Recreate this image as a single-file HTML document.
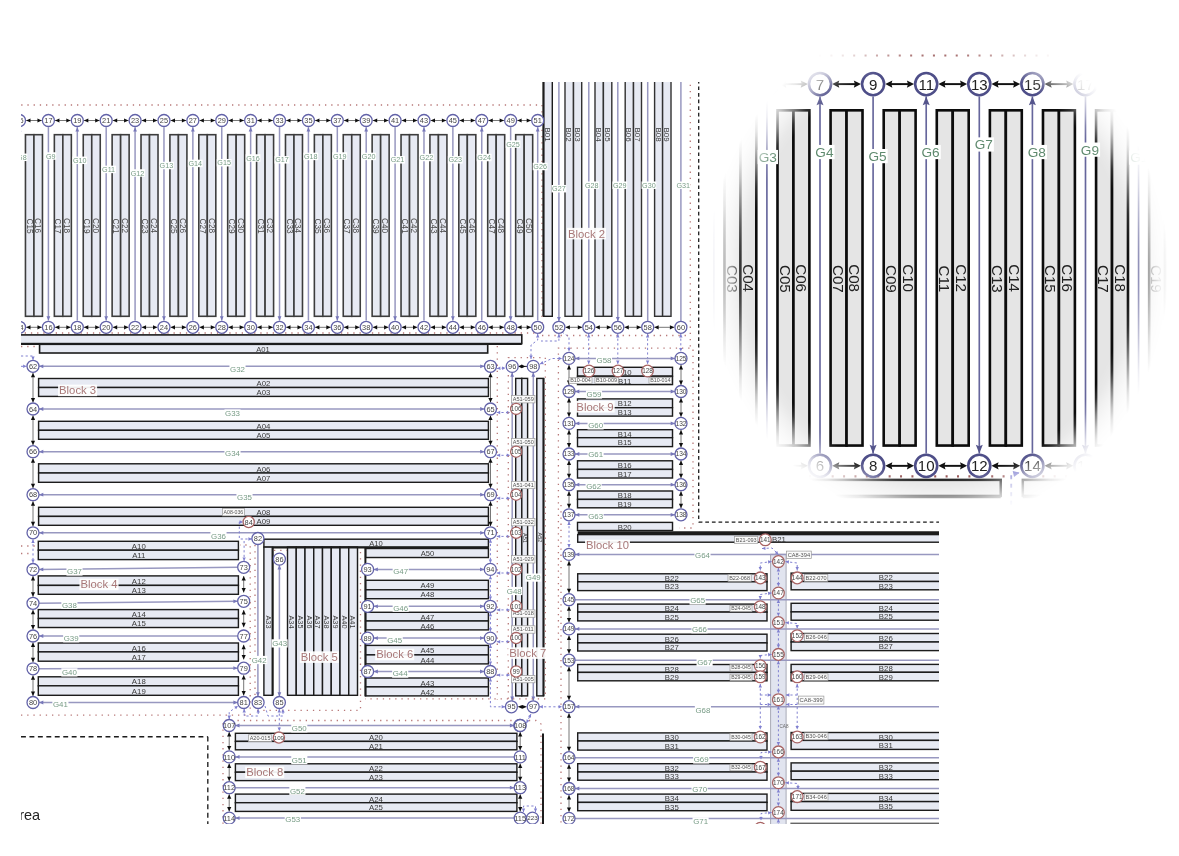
<!DOCTYPE html>
<html><head><meta charset="utf-8"><title>Warehouse layout</title>
<style>
html,body{margin:0;padding:0;background:#fff;}
body{width:1179px;height:856px;overflow:hidden;position:relative;font-family:"Liberation Sans",sans-serif;}
svg{position:absolute;left:0;top:0;display:block;}
svg text{font-family:"Liberation Sans",sans-serif;}
#main{--fill:#e7eaf3;--gl:#9898c0;}
#inset{--fill:#e5e5e5;--gl:#6c6c9c;}
</style></head><body>
<svg id="main" width="1179" height="856" viewBox="0 0 1179 856">
<defs>
<clipPath id="cm"><rect x="21" y="82" width="918" height="742"/></clipPath>
<filter id="soft" x="0" y="0" width="100%" height="100%" filterUnits="userSpaceOnUse"><feGaussianBlur stdDeviation="0.68"/></filter>
</defs>
<g clip-path="url(#cm)"><g filter="url(#soft)">
<g id="draw">
<rect x="-176.76" y="134.7" width="8.5" height="181.6" fill="#e7eaf3" stroke="#3e3e3e" stroke-width="1.6"/>
<rect x="-168.26" y="134.7" width="8.5" height="181.6" fill="#e7eaf3" stroke="#3e3e3e" stroke-width="1.6"/>
<rect x="-147.88" y="134.7" width="8.5" height="181.6" fill="#e7eaf3" stroke="#3e3e3e" stroke-width="1.6"/>
<rect x="-139.38" y="134.7" width="8.5" height="181.6" fill="#e7eaf3" stroke="#3e3e3e" stroke-width="1.6"/>
<rect x="-118.99" y="134.7" width="8.5" height="181.6" fill="#e7eaf3" stroke="#3e3e3e" stroke-width="1.6"/>
<rect x="-110.49" y="134.7" width="8.5" height="181.6" fill="#e7eaf3" stroke="#3e3e3e" stroke-width="1.6"/>
<rect x="-90.09" y="134.7" width="8.5" height="181.6" fill="#e7eaf3" stroke="#3e3e3e" stroke-width="1.6"/>
<rect x="-81.59" y="134.7" width="8.5" height="181.6" fill="#e7eaf3" stroke="#3e3e3e" stroke-width="1.6"/>
<rect x="-61.2" y="134.7" width="8.5" height="181.6" fill="#e7eaf3" stroke="#3e3e3e" stroke-width="1.6"/>
<rect x="-52.7" y="134.7" width="8.5" height="181.6" fill="#e7eaf3" stroke="#3e3e3e" stroke-width="1.6"/>
<rect x="-32.32" y="134.7" width="8.5" height="181.6" fill="#e7eaf3" stroke="#3e3e3e" stroke-width="1.6"/>
<rect x="-23.82" y="134.7" width="8.5" height="181.6" fill="#e7eaf3" stroke="#3e3e3e" stroke-width="1.6"/>
<rect x="-3.43" y="134.7" width="8.5" height="181.6" fill="#e7eaf3" stroke="#3e3e3e" stroke-width="1.6"/>
<rect x="5.07" y="134.7" width="8.5" height="181.6" fill="#e7eaf3" stroke="#3e3e3e" stroke-width="1.6"/>
<rect x="25.46" y="134.7" width="8.5" height="181.6" fill="#e7eaf3" stroke="#3e3e3e" stroke-width="1.6"/>
<rect x="33.96" y="134.7" width="8.5" height="181.6" fill="#e7eaf3" stroke="#3e3e3e" stroke-width="1.6"/>
<rect x="54.35" y="134.7" width="8.5" height="181.6" fill="#e7eaf3" stroke="#3e3e3e" stroke-width="1.6"/>
<rect x="62.85" y="134.7" width="8.5" height="181.6" fill="#e7eaf3" stroke="#3e3e3e" stroke-width="1.6"/>
<rect x="83.25" y="134.7" width="8.5" height="181.6" fill="#e7eaf3" stroke="#3e3e3e" stroke-width="1.6"/>
<rect x="91.75" y="134.7" width="8.5" height="181.6" fill="#e7eaf3" stroke="#3e3e3e" stroke-width="1.6"/>
<rect x="112.13" y="134.7" width="8.5" height="181.6" fill="#e7eaf3" stroke="#3e3e3e" stroke-width="1.6"/>
<rect x="120.63" y="134.7" width="8.5" height="181.6" fill="#e7eaf3" stroke="#3e3e3e" stroke-width="1.6"/>
<rect x="141.02" y="134.7" width="8.5" height="181.6" fill="#e7eaf3" stroke="#3e3e3e" stroke-width="1.6"/>
<rect x="149.52" y="134.7" width="8.5" height="181.6" fill="#e7eaf3" stroke="#3e3e3e" stroke-width="1.6"/>
<rect x="169.92" y="134.7" width="8.5" height="181.6" fill="#e7eaf3" stroke="#3e3e3e" stroke-width="1.6"/>
<rect x="178.42" y="134.7" width="8.5" height="181.6" fill="#e7eaf3" stroke="#3e3e3e" stroke-width="1.6"/>
<rect x="198.81" y="134.7" width="8.5" height="181.6" fill="#e7eaf3" stroke="#3e3e3e" stroke-width="1.6"/>
<rect x="207.31" y="134.7" width="8.5" height="181.6" fill="#e7eaf3" stroke="#3e3e3e" stroke-width="1.6"/>
<rect x="227.69" y="134.7" width="8.5" height="181.6" fill="#e7eaf3" stroke="#3e3e3e" stroke-width="1.6"/>
<rect x="236.19" y="134.7" width="8.5" height="181.6" fill="#e7eaf3" stroke="#3e3e3e" stroke-width="1.6"/>
<rect x="256.59" y="134.7" width="8.5" height="181.6" fill="#e7eaf3" stroke="#3e3e3e" stroke-width="1.6"/>
<rect x="265.09" y="134.7" width="8.5" height="181.6" fill="#e7eaf3" stroke="#3e3e3e" stroke-width="1.6"/>
<rect x="285.48" y="134.7" width="8.5" height="181.6" fill="#e7eaf3" stroke="#3e3e3e" stroke-width="1.6"/>
<rect x="293.98" y="134.7" width="8.5" height="181.6" fill="#e7eaf3" stroke="#3e3e3e" stroke-width="1.6"/>
<rect x="314.37" y="134.7" width="8.5" height="181.6" fill="#e7eaf3" stroke="#3e3e3e" stroke-width="1.6"/>
<rect x="322.87" y="134.7" width="8.5" height="181.6" fill="#e7eaf3" stroke="#3e3e3e" stroke-width="1.6"/>
<rect x="343.25" y="134.7" width="8.5" height="181.6" fill="#e7eaf3" stroke="#3e3e3e" stroke-width="1.6"/>
<rect x="351.75" y="134.7" width="8.5" height="181.6" fill="#e7eaf3" stroke="#3e3e3e" stroke-width="1.6"/>
<rect x="372.14" y="134.7" width="8.5" height="181.6" fill="#e7eaf3" stroke="#3e3e3e" stroke-width="1.6"/>
<rect x="380.64" y="134.7" width="8.5" height="181.6" fill="#e7eaf3" stroke="#3e3e3e" stroke-width="1.6"/>
<rect x="401.04" y="134.7" width="8.5" height="181.6" fill="#e7eaf3" stroke="#3e3e3e" stroke-width="1.6"/>
<rect x="409.54" y="134.7" width="8.5" height="181.6" fill="#e7eaf3" stroke="#3e3e3e" stroke-width="1.6"/>
<rect x="429.93" y="134.7" width="8.5" height="181.6" fill="#e7eaf3" stroke="#3e3e3e" stroke-width="1.6"/>
<rect x="438.43" y="134.7" width="8.5" height="181.6" fill="#e7eaf3" stroke="#3e3e3e" stroke-width="1.6"/>
<rect x="458.82" y="134.7" width="8.5" height="181.6" fill="#e7eaf3" stroke="#3e3e3e" stroke-width="1.6"/>
<rect x="467.32" y="134.7" width="8.5" height="181.6" fill="#e7eaf3" stroke="#3e3e3e" stroke-width="1.6"/>
<rect x="487.71" y="134.7" width="8.5" height="181.6" fill="#e7eaf3" stroke="#3e3e3e" stroke-width="1.6"/>
<rect x="496.21" y="134.7" width="8.5" height="181.6" fill="#e7eaf3" stroke="#3e3e3e" stroke-width="1.6"/>
<rect x="515.68" y="134.7" width="8.5" height="181.6" fill="#e7eaf3" stroke="#3e3e3e" stroke-width="1.6"/>
<rect x="524.18" y="134.7" width="8.5" height="181.6" fill="#e7eaf3" stroke="#3e3e3e" stroke-width="1.6"/>
<rect x="-140" y="334.9" width="142.3" height="8.7" fill="#e7eaf3" stroke="#1c1c1c" stroke-width="1.6"/>
<rect x="14.3" y="334.9" width="507.5" height="8.7" fill="#e7eaf3" stroke="#1c1c1c" stroke-width="1.6"/>
<rect x="39.6" y="344.3" width="448.1" height="8.7" fill="#e7eaf3" stroke="#1c1c1c" stroke-width="1.6"/>
<rect x="543.6" y="60" width="8.7" height="256.3" fill="#e7eaf3" stroke="#1c1c1c" stroke-width="1.42"/>
<rect x="565" y="60" width="8.5" height="256.3" fill="#e7eaf3" stroke="#333" stroke-width="1.42"/>
<rect x="573.5" y="60" width="8.2" height="256.3" fill="#e7eaf3" stroke="#333" stroke-width="1.42"/>
<rect x="595" y="60" width="8.4" height="256.3" fill="#e7eaf3" stroke="#333" stroke-width="1.42"/>
<rect x="603.4" y="60" width="8.4" height="256.3" fill="#e7eaf3" stroke="#333" stroke-width="1.42"/>
<rect x="625.2" y="60" width="8.3" height="256.3" fill="#e7eaf3" stroke="#333" stroke-width="1.42"/>
<rect x="633.5" y="60" width="8" height="256.3" fill="#e7eaf3" stroke="#333" stroke-width="1.42"/>
<rect x="654.6" y="60" width="8" height="256.3" fill="#e7eaf3" stroke="#333" stroke-width="1.42"/>
<rect x="662.6" y="60" width="8.4" height="256.3" fill="#e7eaf3" stroke="#333" stroke-width="1.42"/>
<rect x="38.6" y="378.5" width="449.8" height="9" fill="#e7eaf3" stroke="#1c1c1c" stroke-width="1.42"/>
<rect x="38.6" y="387.5" width="449.8" height="8.9" fill="#e7eaf3" stroke="#1c1c1c" stroke-width="1.42"/>
<rect x="38.6" y="421.3" width="449.8" height="9" fill="#e7eaf3" stroke="#1c1c1c" stroke-width="1.42"/>
<rect x="38.6" y="430.3" width="449.8" height="9" fill="#e7eaf3" stroke="#1c1c1c" stroke-width="1.42"/>
<rect x="38.6" y="463.8" width="449.8" height="9.2" fill="#e7eaf3" stroke="#1c1c1c" stroke-width="1.42"/>
<rect x="38.6" y="473" width="449.8" height="9.3" fill="#e7eaf3" stroke="#1c1c1c" stroke-width="1.42"/>
<rect x="38.6" y="507.3" width="449.8" height="9.1" fill="#e7eaf3" stroke="#1c1c1c" stroke-width="1.42"/>
<rect x="38.6" y="516.4" width="449.8" height="8.9" fill="#e7eaf3" stroke="#1c1c1c" stroke-width="1.42"/>
<rect x="38.3" y="541.3" width="200.1" height="8.9" fill="#e7eaf3" stroke="#1c1c1c" stroke-width="1.42"/>
<rect x="38.3" y="550.2" width="200.1" height="9.4" fill="#e7eaf3" stroke="#1c1c1c" stroke-width="1.42"/>
<rect x="38.3" y="575.9" width="200.1" height="9.5" fill="#e7eaf3" stroke="#1c1c1c" stroke-width="1.42"/>
<rect x="38.3" y="585.4" width="200.1" height="8.9" fill="#e7eaf3" stroke="#1c1c1c" stroke-width="1.42"/>
<rect x="38.3" y="609.6" width="200.1" height="8.9" fill="#e7eaf3" stroke="#1c1c1c" stroke-width="1.42"/>
<rect x="38.3" y="618.5" width="200.1" height="9" fill="#e7eaf3" stroke="#1c1c1c" stroke-width="1.42"/>
<rect x="38.3" y="643" width="200.1" height="8.9" fill="#e7eaf3" stroke="#1c1c1c" stroke-width="1.42"/>
<rect x="38.3" y="651.9" width="200.1" height="9.3" fill="#e7eaf3" stroke="#1c1c1c" stroke-width="1.42"/>
<rect x="38.3" y="676.8" width="200.1" height="9" fill="#e7eaf3" stroke="#1c1c1c" stroke-width="1.42"/>
<rect x="38.3" y="685.8" width="200.1" height="9.5" fill="#e7eaf3" stroke="#1c1c1c" stroke-width="1.42"/>
<rect x="263.9" y="539.2" width="224.5" height="7.9" fill="#e7eaf3" stroke="#1c1c1c" stroke-width="1.42"/>
<rect x="263.9" y="547.1" width="8.7" height="148.2" fill="#e7eaf3" stroke="#1c1c1c" stroke-width="1.42"/>
<rect x="287.5" y="547.1" width="8.75" height="148.2" fill="#e7eaf3" stroke="#1c1c1c" stroke-width="1.42"/>
<rect x="296.25" y="547.1" width="8.75" height="148.2" fill="#e7eaf3" stroke="#1c1c1c" stroke-width="1.42"/>
<rect x="305" y="547.1" width="8.75" height="148.2" fill="#e7eaf3" stroke="#1c1c1c" stroke-width="1.42"/>
<rect x="313.75" y="547.1" width="8.75" height="148.2" fill="#e7eaf3" stroke="#1c1c1c" stroke-width="1.42"/>
<rect x="322.5" y="547.1" width="8.75" height="148.2" fill="#e7eaf3" stroke="#1c1c1c" stroke-width="1.42"/>
<rect x="331.25" y="547.1" width="8.75" height="148.2" fill="#e7eaf3" stroke="#1c1c1c" stroke-width="1.42"/>
<rect x="340" y="547.1" width="8.75" height="148.2" fill="#e7eaf3" stroke="#1c1c1c" stroke-width="1.42"/>
<rect x="348.75" y="547.1" width="8.75" height="148.2" fill="#e7eaf3" stroke="#1c1c1c" stroke-width="1.42"/>
<rect x="365.6" y="548.5" width="122.8" height="9" fill="#e7eaf3" stroke="#1c1c1c" stroke-width="1.42"/>
<rect x="365.6" y="580.3" width="122.8" height="9.5" fill="#e7eaf3" stroke="#1c1c1c" stroke-width="1.42"/>
<rect x="365.6" y="589.8" width="122.8" height="8.9" fill="#e7eaf3" stroke="#1c1c1c" stroke-width="1.42"/>
<rect x="365.6" y="612.3" width="122.8" height="8.7" fill="#e7eaf3" stroke="#1c1c1c" stroke-width="1.42"/>
<rect x="365.6" y="621" width="122.8" height="8.9" fill="#e7eaf3" stroke="#1c1c1c" stroke-width="1.42"/>
<rect x="365.6" y="645.4" width="122.8" height="9.5" fill="#e7eaf3" stroke="#1c1c1c" stroke-width="1.42"/>
<rect x="365.6" y="654.9" width="122.8" height="9" fill="#e7eaf3" stroke="#1c1c1c" stroke-width="1.42"/>
<rect x="365.6" y="678" width="122.8" height="8.9" fill="#e7eaf3" stroke="#1c1c1c" stroke-width="1.42"/>
<rect x="365.6" y="686.9" width="122.8" height="9" fill="#e7eaf3" stroke="#1c1c1c" stroke-width="1.42"/>
<rect x="515.7" y="378.4" width="6.1" height="317.5" fill="#e7eaf3" stroke="#1c1c1c" stroke-width="1.42"/>
<rect x="521.8" y="378.4" width="5.8" height="317.5" fill="#e7eaf3" stroke="#1c1c1c" stroke-width="1.42"/>
<rect x="536.8" y="378.4" width="6.6" height="317.5" fill="#e7eaf3" stroke="#1c1c1c" stroke-width="1.42"/>
<rect x="235.4" y="733.3" width="281.5" height="8.1" fill="#e7eaf3" stroke="#1c1c1c" stroke-width="1.42"/>
<rect x="235.4" y="741.4" width="281.5" height="8.4" fill="#e7eaf3" stroke="#1c1c1c" stroke-width="1.42"/>
<rect x="235.4" y="763.8" width="281.5" height="8.4" fill="#e7eaf3" stroke="#1c1c1c" stroke-width="1.42"/>
<rect x="235.4" y="772.2" width="281.5" height="8.4" fill="#e7eaf3" stroke="#1c1c1c" stroke-width="1.42"/>
<rect x="235.4" y="794.1" width="281.5" height="8.6" fill="#e7eaf3" stroke="#1c1c1c" stroke-width="1.42"/>
<rect x="235.4" y="802.7" width="281.5" height="8.7" fill="#e7eaf3" stroke="#1c1c1c" stroke-width="1.42"/>
<rect x="577.5" y="367.3" width="95" height="8.9" fill="#e7eaf3" stroke="#1c1c1c" stroke-width="1.42"/>
<rect x="577.5" y="376.2" width="95" height="8.4" fill="#e7eaf3" stroke="#1c1c1c" stroke-width="1.42"/>
<rect x="577.5" y="398.9" width="95" height="8.8" fill="#e7eaf3" stroke="#1c1c1c" stroke-width="1.42"/>
<rect x="577.5" y="407.7" width="95" height="8.4" fill="#e7eaf3" stroke="#1c1c1c" stroke-width="1.42"/>
<rect x="577.5" y="429.7" width="95" height="8" fill="#e7eaf3" stroke="#1c1c1c" stroke-width="1.42"/>
<rect x="577.5" y="437.7" width="95" height="8.9" fill="#e7eaf3" stroke="#1c1c1c" stroke-width="1.42"/>
<rect x="577.5" y="460.8" width="95" height="8.6" fill="#e7eaf3" stroke="#1c1c1c" stroke-width="1.42"/>
<rect x="577.5" y="469.4" width="95" height="8.6" fill="#e7eaf3" stroke="#1c1c1c" stroke-width="1.42"/>
<rect x="577.5" y="491" width="95" height="8.4" fill="#e7eaf3" stroke="#1c1c1c" stroke-width="1.42"/>
<rect x="577.5" y="499.4" width="95" height="8.4" fill="#e7eaf3" stroke="#1c1c1c" stroke-width="1.42"/>
<rect x="577.5" y="522.4" width="95" height="8.1" fill="#e7eaf3" stroke="#1c1c1c" stroke-width="1.42"/>
<rect x="577.7" y="534.6" width="382.3" height="7.6" fill="#e7eaf3" stroke="#1c1c1c" stroke-width="1.42"/>
<rect x="770.6" y="554.3" width="15.5" height="285.7" fill="#e1e4ef" stroke="#a9abb6" stroke-width="1.0"/>
<rect x="577.7" y="573.8" width="189.3" height="8" fill="#e7eaf3" stroke="#1c1c1c" stroke-width="1.42"/>
<rect x="577.7" y="581.8" width="189.3" height="8.8" fill="#e7eaf3" stroke="#1c1c1c" stroke-width="1.42"/>
<rect x="791.1" y="573.1" width="168.9" height="8.4" fill="#e7eaf3" stroke="#1c1c1c" stroke-width="1.42"/>
<rect x="791.1" y="581.5" width="168.9" height="8.3" fill="#e7eaf3" stroke="#1c1c1c" stroke-width="1.42"/>
<rect x="577.7" y="604.1" width="189.3" height="8" fill="#e7eaf3" stroke="#1c1c1c" stroke-width="1.42"/>
<rect x="577.7" y="612.1" width="189.3" height="8.8" fill="#e7eaf3" stroke="#1c1c1c" stroke-width="1.42"/>
<rect x="791.1" y="603.3" width="168.9" height="8.6" fill="#e7eaf3" stroke="#1c1c1c" stroke-width="1.42"/>
<rect x="791.1" y="611.9" width="168.9" height="8.3" fill="#e7eaf3" stroke="#1c1c1c" stroke-width="1.42"/>
<rect x="577.7" y="634.2" width="189.3" height="8.7" fill="#e7eaf3" stroke="#1c1c1c" stroke-width="1.42"/>
<rect x="577.7" y="642.9" width="189.3" height="8.1" fill="#e7eaf3" stroke="#1c1c1c" stroke-width="1.42"/>
<rect x="791.1" y="633.5" width="168.9" height="8.5" fill="#e7eaf3" stroke="#1c1c1c" stroke-width="1.42"/>
<rect x="791.1" y="642" width="168.9" height="8.6" fill="#e7eaf3" stroke="#1c1c1c" stroke-width="1.42"/>
<rect x="577.7" y="664.5" width="189.3" height="7.9" fill="#e7eaf3" stroke="#1c1c1c" stroke-width="1.42"/>
<rect x="577.7" y="672.4" width="189.3" height="8.4" fill="#e7eaf3" stroke="#1c1c1c" stroke-width="1.42"/>
<rect x="791.1" y="664.4" width="168.9" height="7.9" fill="#e7eaf3" stroke="#1c1c1c" stroke-width="1.42"/>
<rect x="791.1" y="672.3" width="168.9" height="8.5" fill="#e7eaf3" stroke="#1c1c1c" stroke-width="1.42"/>
<rect x="577.7" y="732.9" width="189.3" height="8.1" fill="#e7eaf3" stroke="#1c1c1c" stroke-width="1.42"/>
<rect x="577.7" y="741" width="189.3" height="9.1" fill="#e7eaf3" stroke="#1c1c1c" stroke-width="1.42"/>
<rect x="791.1" y="732.5" width="168.9" height="7.9" fill="#e7eaf3" stroke="#1c1c1c" stroke-width="1.42"/>
<rect x="791.1" y="740.4" width="168.9" height="9" fill="#e7eaf3" stroke="#1c1c1c" stroke-width="1.42"/>
<rect x="577.7" y="763.7" width="189.3" height="8.3" fill="#e7eaf3" stroke="#1c1c1c" stroke-width="1.42"/>
<rect x="577.7" y="772" width="189.3" height="8.2" fill="#e7eaf3" stroke="#1c1c1c" stroke-width="1.42"/>
<rect x="791.1" y="762.9" width="168.9" height="8.3" fill="#e7eaf3" stroke="#1c1c1c" stroke-width="1.42"/>
<rect x="791.1" y="771.2" width="168.9" height="8.5" fill="#e7eaf3" stroke="#1c1c1c" stroke-width="1.42"/>
<rect x="577.7" y="794.1" width="189.3" height="8.3" fill="#e7eaf3" stroke="#1c1c1c" stroke-width="1.42"/>
<rect x="577.7" y="802.4" width="189.3" height="8.3" fill="#e7eaf3" stroke="#1c1c1c" stroke-width="1.42"/>
<rect x="791.1" y="793.4" width="168.9" height="8.2" fill="#e7eaf3" stroke="#1c1c1c" stroke-width="1.42"/>
<rect x="791.1" y="801.6" width="168.9" height="8.7" fill="#e7eaf3" stroke="#1c1c1c" stroke-width="1.42"/>
<rect x="791.1" y="823.3" width="168.9" height="6.7" fill="#e7eaf3" stroke="#666" stroke-width="1.42"/>
<line x1="-182.71" y1="127.2" x2="-182.71" y2="320.6" stroke="#9898c0" stroke-width="1.5"/>
<polygon points="-182.71,320.6 -184.61,316.3 -182.71,316.3 -180.81,316.3" fill="#7878ba"/>
<line x1="-176.11" y1="120.5" x2="-160.42" y2="120.5" stroke="#777" stroke-width="1.0"/>
<polygon points="-160.42,120.5 -164.82,122.6 -164.82,120.5 -164.82,118.4" fill="#111"/>
<polygon points="-176.11,120.5 -171.71,118.4 -171.71,120.5 -171.71,122.6" fill="#111"/>
<line x1="-153.82" y1="127.2" x2="-153.82" y2="320.6" stroke="#9898c0" stroke-width="1.5"/>
<polygon points="-153.82,127.2 -151.92,131.5 -153.82,131.5 -155.72,131.5" fill="#7878ba"/>
<line x1="-147.22" y1="120.5" x2="-131.53" y2="120.5" stroke="#777" stroke-width="1.0"/>
<polygon points="-131.53,120.5 -135.93,122.6 -135.93,120.5 -135.93,118.4" fill="#111"/>
<polygon points="-147.22,120.5 -142.82,118.4 -142.82,120.5 -142.82,122.6" fill="#111"/>
<line x1="-147.22" y1="327.3" x2="-131.53" y2="327.3" stroke="#777" stroke-width="1.0"/>
<polygon points="-131.53,327.3 -135.93,329.4 -135.93,327.3 -135.93,325.2" fill="#111"/>
<polygon points="-147.22,327.3 -142.82,325.2 -142.82,327.3 -142.82,329.4" fill="#111"/>
<line x1="-124.93" y1="127.2" x2="-124.93" y2="320.6" stroke="#9898c0" stroke-width="1.5"/>
<polygon points="-124.93,320.6 -126.83,316.3 -124.93,316.3 -123.03,316.3" fill="#7878ba"/>
<line x1="-118.33" y1="120.5" x2="-102.64" y2="120.5" stroke="#777" stroke-width="1.0"/>
<polygon points="-102.64,120.5 -107.04,122.6 -107.04,120.5 -107.04,118.4" fill="#111"/>
<polygon points="-118.33,120.5 -113.93,118.4 -113.93,120.5 -113.93,122.6" fill="#111"/>
<line x1="-118.33" y1="327.3" x2="-102.64" y2="327.3" stroke="#777" stroke-width="1.0"/>
<polygon points="-102.64,327.3 -107.04,329.4 -107.04,327.3 -107.04,325.2" fill="#111"/>
<polygon points="-118.33,327.3 -113.93,325.2 -113.93,327.3 -113.93,329.4" fill="#111"/>
<line x1="-96.04" y1="127.2" x2="-96.04" y2="320.6" stroke="#9898c0" stroke-width="1.5"/>
<polygon points="-96.04,127.2 -94.14,131.5 -96.04,131.5 -97.94,131.5" fill="#7878ba"/>
<line x1="-89.44" y1="120.5" x2="-73.75" y2="120.5" stroke="#777" stroke-width="1.0"/>
<polygon points="-73.75,120.5 -78.15,122.6 -78.15,120.5 -78.15,118.4" fill="#111"/>
<polygon points="-89.44,120.5 -85.04,118.4 -85.04,120.5 -85.04,122.6" fill="#111"/>
<line x1="-89.44" y1="327.3" x2="-73.75" y2="327.3" stroke="#777" stroke-width="1.0"/>
<polygon points="-73.75,327.3 -78.15,329.4 -78.15,327.3 -78.15,325.2" fill="#111"/>
<polygon points="-89.44,327.3 -85.04,325.2 -85.04,327.3 -85.04,329.4" fill="#111"/>
<line x1="-67.15" y1="127.2" x2="-67.15" y2="320.6" stroke="#9898c0" stroke-width="1.5"/>
<polygon points="-67.15,320.6 -69.05,316.3 -67.15,316.3 -65.25,316.3" fill="#7878ba"/>
<line x1="-60.55" y1="120.5" x2="-44.86" y2="120.5" stroke="#777" stroke-width="1.0"/>
<polygon points="-44.86,120.5 -49.26,122.6 -49.26,120.5 -49.26,118.4" fill="#111"/>
<polygon points="-60.55,120.5 -56.15,118.4 -56.15,120.5 -56.15,122.6" fill="#111"/>
<line x1="-60.55" y1="327.3" x2="-44.86" y2="327.3" stroke="#777" stroke-width="1.0"/>
<polygon points="-44.86,327.3 -49.26,329.4 -49.26,327.3 -49.26,325.2" fill="#111"/>
<polygon points="-60.55,327.3 -56.15,325.2 -56.15,327.3 -56.15,329.4" fill="#111"/>
<line x1="-38.26" y1="127.2" x2="-38.26" y2="320.6" stroke="#9898c0" stroke-width="1.5"/>
<polygon points="-38.26,127.2 -36.36,131.5 -38.26,131.5 -40.16,131.5" fill="#7878ba"/>
<line x1="-31.66" y1="120.5" x2="-15.97" y2="120.5" stroke="#777" stroke-width="1.0"/>
<polygon points="-15.97,120.5 -20.37,122.6 -20.37,120.5 -20.37,118.4" fill="#111"/>
<polygon points="-31.66,120.5 -27.26,118.4 -27.26,120.5 -27.26,122.6" fill="#111"/>
<line x1="-31.66" y1="327.3" x2="-15.97" y2="327.3" stroke="#777" stroke-width="1.0"/>
<polygon points="-15.97,327.3 -20.37,329.4 -20.37,327.3 -20.37,325.2" fill="#111"/>
<polygon points="-31.66,327.3 -27.26,325.2 -27.26,327.3 -27.26,329.4" fill="#111"/>
<line x1="-9.37" y1="127.2" x2="-9.37" y2="320.6" stroke="#9898c0" stroke-width="1.5"/>
<polygon points="-9.37,320.6 -11.27,316.3 -9.37,316.3 -7.47,316.3" fill="#7878ba"/>
<line x1="-2.77" y1="120.5" x2="12.92" y2="120.5" stroke="#777" stroke-width="1.0"/>
<polygon points="12.92,120.5 8.52,122.6 8.52,120.5 8.52,118.4" fill="#111"/>
<polygon points="-2.77,120.5 1.63,118.4 1.63,120.5 1.63,122.6" fill="#111"/>
<line x1="-2.77" y1="327.3" x2="12.92" y2="327.3" stroke="#777" stroke-width="1.0"/>
<polygon points="12.92,327.3 8.52,329.4 8.52,327.3 8.52,325.2" fill="#111"/>
<polygon points="-2.77,327.3 1.63,325.2 1.63,327.3 1.63,329.4" fill="#111"/>
<line x1="19.52" y1="127.2" x2="19.52" y2="320.6" stroke="#9898c0" stroke-width="1.5"/>
<polygon points="19.52,127.2 21.42,131.5 19.52,131.5 17.62,131.5" fill="#7878ba"/>
<line x1="26.12" y1="120.5" x2="41.81" y2="120.5" stroke="#777" stroke-width="1.0"/>
<polygon points="41.81,120.5 37.41,122.6 37.41,120.5 37.41,118.4" fill="#111"/>
<polygon points="26.12,120.5 30.52,118.4 30.52,120.5 30.52,122.6" fill="#111"/>
<line x1="26.12" y1="327.3" x2="41.81" y2="327.3" stroke="#777" stroke-width="1.0"/>
<polygon points="41.81,327.3 37.41,329.4 37.41,327.3 37.41,325.2" fill="#111"/>
<polygon points="26.12,327.3 30.52,325.2 30.52,327.3 30.52,329.4" fill="#111"/>
<line x1="48.41" y1="127.2" x2="48.41" y2="320.6" stroke="#9898c0" stroke-width="1.5"/>
<polygon points="48.41,320.6 46.51,316.3 48.41,316.3 50.31,316.3" fill="#7878ba"/>
<line x1="55.01" y1="120.5" x2="70.7" y2="120.5" stroke="#777" stroke-width="1.0"/>
<polygon points="70.7,120.5 66.3,122.6 66.3,120.5 66.3,118.4" fill="#111"/>
<polygon points="55.01,120.5 59.41,118.4 59.41,120.5 59.41,122.6" fill="#111"/>
<line x1="55.01" y1="327.3" x2="70.7" y2="327.3" stroke="#777" stroke-width="1.0"/>
<polygon points="70.7,327.3 66.3,329.4 66.3,327.3 66.3,325.2" fill="#111"/>
<polygon points="55.01,327.3 59.41,325.2 59.41,327.3 59.41,329.4" fill="#111"/>
<line x1="77.3" y1="127.2" x2="77.3" y2="320.6" stroke="#9898c0" stroke-width="1.5"/>
<polygon points="77.3,127.2 79.2,131.5 77.3,131.5 75.4,131.5" fill="#7878ba"/>
<line x1="83.9" y1="120.5" x2="99.59" y2="120.5" stroke="#777" stroke-width="1.0"/>
<polygon points="99.59,120.5 95.19,122.6 95.19,120.5 95.19,118.4" fill="#111"/>
<polygon points="83.9,120.5 88.3,118.4 88.3,120.5 88.3,122.6" fill="#111"/>
<line x1="83.9" y1="327.3" x2="99.59" y2="327.3" stroke="#777" stroke-width="1.0"/>
<polygon points="99.59,327.3 95.19,329.4 95.19,327.3 95.19,325.2" fill="#111"/>
<polygon points="83.9,327.3 88.3,325.2 88.3,327.3 88.3,329.4" fill="#111"/>
<line x1="106.19" y1="127.2" x2="106.19" y2="320.6" stroke="#9898c0" stroke-width="1.5"/>
<polygon points="106.19,320.6 104.29,316.3 106.19,316.3 108.09,316.3" fill="#7878ba"/>
<line x1="112.79" y1="120.5" x2="128.48" y2="120.5" stroke="#777" stroke-width="1.0"/>
<polygon points="128.48,120.5 124.08,122.6 124.08,120.5 124.08,118.4" fill="#111"/>
<polygon points="112.79,120.5 117.19,118.4 117.19,120.5 117.19,122.6" fill="#111"/>
<line x1="112.79" y1="327.3" x2="128.48" y2="327.3" stroke="#777" stroke-width="1.0"/>
<polygon points="128.48,327.3 124.08,329.4 124.08,327.3 124.08,325.2" fill="#111"/>
<polygon points="112.79,327.3 117.19,325.2 117.19,327.3 117.19,329.4" fill="#111"/>
<line x1="135.08" y1="127.2" x2="135.08" y2="320.6" stroke="#9898c0" stroke-width="1.5"/>
<polygon points="135.08,127.2 136.98,131.5 135.08,131.5 133.18,131.5" fill="#7878ba"/>
<line x1="141.68" y1="120.5" x2="157.37" y2="120.5" stroke="#777" stroke-width="1.0"/>
<polygon points="157.37,120.5 152.97,122.6 152.97,120.5 152.97,118.4" fill="#111"/>
<polygon points="141.68,120.5 146.08,118.4 146.08,120.5 146.08,122.6" fill="#111"/>
<line x1="141.68" y1="327.3" x2="157.37" y2="327.3" stroke="#777" stroke-width="1.0"/>
<polygon points="157.37,327.3 152.97,329.4 152.97,327.3 152.97,325.2" fill="#111"/>
<polygon points="141.68,327.3 146.08,325.2 146.08,327.3 146.08,329.4" fill="#111"/>
<line x1="163.97" y1="127.2" x2="163.97" y2="320.6" stroke="#9898c0" stroke-width="1.5"/>
<polygon points="163.97,320.6 162.07,316.3 163.97,316.3 165.87,316.3" fill="#7878ba"/>
<line x1="170.57" y1="120.5" x2="186.26" y2="120.5" stroke="#777" stroke-width="1.0"/>
<polygon points="186.26,120.5 181.86,122.6 181.86,120.5 181.86,118.4" fill="#111"/>
<polygon points="170.57,120.5 174.97,118.4 174.97,120.5 174.97,122.6" fill="#111"/>
<line x1="170.57" y1="327.3" x2="186.26" y2="327.3" stroke="#777" stroke-width="1.0"/>
<polygon points="186.26,327.3 181.86,329.4 181.86,327.3 181.86,325.2" fill="#111"/>
<polygon points="170.57,327.3 174.97,325.2 174.97,327.3 174.97,329.4" fill="#111"/>
<line x1="192.86" y1="127.2" x2="192.86" y2="320.6" stroke="#9898c0" stroke-width="1.5"/>
<polygon points="192.86,127.2 194.76,131.5 192.86,131.5 190.96,131.5" fill="#7878ba"/>
<line x1="199.46" y1="120.5" x2="215.15" y2="120.5" stroke="#777" stroke-width="1.0"/>
<polygon points="215.15,120.5 210.75,122.6 210.75,120.5 210.75,118.4" fill="#111"/>
<polygon points="199.46,120.5 203.86,118.4 203.86,120.5 203.86,122.6" fill="#111"/>
<line x1="199.46" y1="327.3" x2="215.15" y2="327.3" stroke="#777" stroke-width="1.0"/>
<polygon points="215.15,327.3 210.75,329.4 210.75,327.3 210.75,325.2" fill="#111"/>
<polygon points="199.46,327.3 203.86,325.2 203.86,327.3 203.86,329.4" fill="#111"/>
<line x1="221.75" y1="127.2" x2="221.75" y2="320.6" stroke="#9898c0" stroke-width="1.5"/>
<polygon points="221.75,320.6 219.85,316.3 221.75,316.3 223.65,316.3" fill="#7878ba"/>
<line x1="228.35" y1="120.5" x2="244.04" y2="120.5" stroke="#777" stroke-width="1.0"/>
<polygon points="244.04,120.5 239.64,122.6 239.64,120.5 239.64,118.4" fill="#111"/>
<polygon points="228.35,120.5 232.75,118.4 232.75,120.5 232.75,122.6" fill="#111"/>
<line x1="228.35" y1="327.3" x2="244.04" y2="327.3" stroke="#777" stroke-width="1.0"/>
<polygon points="244.04,327.3 239.64,329.4 239.64,327.3 239.64,325.2" fill="#111"/>
<polygon points="228.35,327.3 232.75,325.2 232.75,327.3 232.75,329.4" fill="#111"/>
<line x1="250.64" y1="127.2" x2="250.64" y2="320.6" stroke="#9898c0" stroke-width="1.5"/>
<polygon points="250.64,127.2 252.54,131.5 250.64,131.5 248.74,131.5" fill="#7878ba"/>
<line x1="257.24" y1="120.5" x2="272.93" y2="120.5" stroke="#777" stroke-width="1.0"/>
<polygon points="272.93,120.5 268.53,122.6 268.53,120.5 268.53,118.4" fill="#111"/>
<polygon points="257.24,120.5 261.64,118.4 261.64,120.5 261.64,122.6" fill="#111"/>
<line x1="257.24" y1="327.3" x2="272.93" y2="327.3" stroke="#777" stroke-width="1.0"/>
<polygon points="272.93,327.3 268.53,329.4 268.53,327.3 268.53,325.2" fill="#111"/>
<polygon points="257.24,327.3 261.64,325.2 261.64,327.3 261.64,329.4" fill="#111"/>
<line x1="279.53" y1="127.2" x2="279.53" y2="320.6" stroke="#9898c0" stroke-width="1.5"/>
<polygon points="279.53,320.6 277.63,316.3 279.53,316.3 281.43,316.3" fill="#7878ba"/>
<line x1="286.13" y1="120.5" x2="301.82" y2="120.5" stroke="#777" stroke-width="1.0"/>
<polygon points="301.82,120.5 297.42,122.6 297.42,120.5 297.42,118.4" fill="#111"/>
<polygon points="286.13,120.5 290.53,118.4 290.53,120.5 290.53,122.6" fill="#111"/>
<line x1="286.13" y1="327.3" x2="301.82" y2="327.3" stroke="#777" stroke-width="1.0"/>
<polygon points="301.82,327.3 297.42,329.4 297.42,327.3 297.42,325.2" fill="#111"/>
<polygon points="286.13,327.3 290.53,325.2 290.53,327.3 290.53,329.4" fill="#111"/>
<line x1="308.42" y1="127.2" x2="308.42" y2="320.6" stroke="#9898c0" stroke-width="1.5"/>
<polygon points="308.42,127.2 310.32,131.5 308.42,131.5 306.52,131.5" fill="#7878ba"/>
<line x1="315.02" y1="120.5" x2="330.71" y2="120.5" stroke="#777" stroke-width="1.0"/>
<polygon points="330.71,120.5 326.31,122.6 326.31,120.5 326.31,118.4" fill="#111"/>
<polygon points="315.02,120.5 319.42,118.4 319.42,120.5 319.42,122.6" fill="#111"/>
<line x1="315.02" y1="327.3" x2="330.71" y2="327.3" stroke="#777" stroke-width="1.0"/>
<polygon points="330.71,327.3 326.31,329.4 326.31,327.3 326.31,325.2" fill="#111"/>
<polygon points="315.02,327.3 319.42,325.2 319.42,327.3 319.42,329.4" fill="#111"/>
<line x1="337.31" y1="127.2" x2="337.31" y2="320.6" stroke="#9898c0" stroke-width="1.5"/>
<polygon points="337.31,320.6 335.41,316.3 337.31,316.3 339.21,316.3" fill="#7878ba"/>
<line x1="343.91" y1="120.5" x2="359.6" y2="120.5" stroke="#777" stroke-width="1.0"/>
<polygon points="359.6,120.5 355.2,122.6 355.2,120.5 355.2,118.4" fill="#111"/>
<polygon points="343.91,120.5 348.31,118.4 348.31,120.5 348.31,122.6" fill="#111"/>
<line x1="343.91" y1="327.3" x2="359.6" y2="327.3" stroke="#777" stroke-width="1.0"/>
<polygon points="359.6,327.3 355.2,329.4 355.2,327.3 355.2,325.2" fill="#111"/>
<polygon points="343.91,327.3 348.31,325.2 348.31,327.3 348.31,329.4" fill="#111"/>
<line x1="366.2" y1="127.2" x2="366.2" y2="320.6" stroke="#9898c0" stroke-width="1.5"/>
<polygon points="366.2,127.2 368.1,131.5 366.2,131.5 364.3,131.5" fill="#7878ba"/>
<line x1="372.8" y1="120.5" x2="388.49" y2="120.5" stroke="#777" stroke-width="1.0"/>
<polygon points="388.49,120.5 384.09,122.6 384.09,120.5 384.09,118.4" fill="#111"/>
<polygon points="372.8,120.5 377.2,118.4 377.2,120.5 377.2,122.6" fill="#111"/>
<line x1="372.8" y1="327.3" x2="388.49" y2="327.3" stroke="#777" stroke-width="1.0"/>
<polygon points="388.49,327.3 384.09,329.4 384.09,327.3 384.09,325.2" fill="#111"/>
<polygon points="372.8,327.3 377.2,325.2 377.2,327.3 377.2,329.4" fill="#111"/>
<line x1="395.09" y1="127.2" x2="395.09" y2="320.6" stroke="#9898c0" stroke-width="1.5"/>
<polygon points="395.09,320.6 393.19,316.3 395.09,316.3 396.99,316.3" fill="#7878ba"/>
<line x1="401.69" y1="120.5" x2="417.38" y2="120.5" stroke="#777" stroke-width="1.0"/>
<polygon points="417.38,120.5 412.98,122.6 412.98,120.5 412.98,118.4" fill="#111"/>
<polygon points="401.69,120.5 406.09,118.4 406.09,120.5 406.09,122.6" fill="#111"/>
<line x1="401.69" y1="327.3" x2="417.38" y2="327.3" stroke="#777" stroke-width="1.0"/>
<polygon points="417.38,327.3 412.98,329.4 412.98,327.3 412.98,325.2" fill="#111"/>
<polygon points="401.69,327.3 406.09,325.2 406.09,327.3 406.09,329.4" fill="#111"/>
<line x1="423.98" y1="127.2" x2="423.98" y2="320.6" stroke="#9898c0" stroke-width="1.5"/>
<polygon points="423.98,127.2 425.88,131.5 423.98,131.5 422.08,131.5" fill="#7878ba"/>
<line x1="430.58" y1="120.5" x2="446.27" y2="120.5" stroke="#777" stroke-width="1.0"/>
<polygon points="446.27,120.5 441.87,122.6 441.87,120.5 441.87,118.4" fill="#111"/>
<polygon points="430.58,120.5 434.98,118.4 434.98,120.5 434.98,122.6" fill="#111"/>
<line x1="430.58" y1="327.3" x2="446.27" y2="327.3" stroke="#777" stroke-width="1.0"/>
<polygon points="446.27,327.3 441.87,329.4 441.87,327.3 441.87,325.2" fill="#111"/>
<polygon points="430.58,327.3 434.98,325.2 434.98,327.3 434.98,329.4" fill="#111"/>
<line x1="452.87" y1="127.2" x2="452.87" y2="320.6" stroke="#9898c0" stroke-width="1.5"/>
<polygon points="452.87,320.6 450.97,316.3 452.87,316.3 454.77,316.3" fill="#7878ba"/>
<line x1="459.47" y1="120.5" x2="475.16" y2="120.5" stroke="#777" stroke-width="1.0"/>
<polygon points="475.16,120.5 470.76,122.6 470.76,120.5 470.76,118.4" fill="#111"/>
<polygon points="459.47,120.5 463.87,118.4 463.87,120.5 463.87,122.6" fill="#111"/>
<line x1="459.47" y1="327.3" x2="475.16" y2="327.3" stroke="#777" stroke-width="1.0"/>
<polygon points="475.16,327.3 470.76,329.4 470.76,327.3 470.76,325.2" fill="#111"/>
<polygon points="459.47,327.3 463.87,325.2 463.87,327.3 463.87,329.4" fill="#111"/>
<line x1="481.76" y1="127.2" x2="481.76" y2="320.6" stroke="#9898c0" stroke-width="1.5"/>
<polygon points="481.76,127.2 483.66,131.5 481.76,131.5 479.86,131.5" fill="#7878ba"/>
<line x1="488.36" y1="120.5" x2="504.05" y2="120.5" stroke="#777" stroke-width="1.0"/>
<polygon points="504.05,120.5 499.65,122.6 499.65,120.5 499.65,118.4" fill="#111"/>
<polygon points="488.36,120.5 492.76,118.4 492.76,120.5 492.76,122.6" fill="#111"/>
<line x1="488.36" y1="327.3" x2="504.05" y2="327.3" stroke="#777" stroke-width="1.0"/>
<polygon points="504.05,327.3 499.65,329.4 499.65,327.3 499.65,325.2" fill="#111"/>
<polygon points="488.36,327.3 492.76,325.2 492.76,327.3 492.76,329.4" fill="#111"/>
<line x1="510.65" y1="127.2" x2="510.65" y2="320.6" stroke="#9898c0" stroke-width="1.5"/>
<polygon points="510.65,320.6 508.75,316.3 510.65,316.3 512.55,316.3" fill="#7878ba"/>
<line x1="517.25" y1="120.5" x2="531.1" y2="120.5" stroke="#777" stroke-width="1.0"/>
<polygon points="531.1,120.5 526.7,122.6 526.7,120.5 526.7,118.4" fill="#111"/>
<polygon points="517.25,120.5 521.65,118.4 521.65,120.5 521.65,122.6" fill="#111"/>
<line x1="517.25" y1="327.3" x2="531.1" y2="327.3" stroke="#777" stroke-width="1.0"/>
<polygon points="531.1,327.3 526.7,329.4 526.7,327.3 526.7,325.2" fill="#111"/>
<polygon points="517.25,327.3 521.65,325.2 521.65,327.3 521.65,329.4" fill="#111"/>
<line x1="537.7" y1="127.2" x2="537.7" y2="320.6" stroke="#9898c0" stroke-width="1.5"/>
<polygon points="537.7,127.2 539.6,131.5 537.7,131.5 535.8,131.5" fill="#7878ba"/>
<path d="M-140 105 L542 105 L542 333 L-140 333" fill="none" stroke="#b87878" stroke-width="1.3" stroke-dasharray="1.3 4.9"/>
<line x1="14.3" y1="344" x2="521.8" y2="344" stroke="#1c1c1c" stroke-width="1.8"/>
<line x1="-140" y1="344" x2="2.3" y2="344" stroke="#1c1c1c" stroke-width="1.8"/>
<path d="M21 346.5 L38 346.5" fill="none" stroke="#b87878" stroke-width="1.3" stroke-dasharray="1.3 4.9"/>
<line x1="543.4" y1="60" x2="543.4" y2="316.3" stroke="#1c1c1c" stroke-width="2.0"/>
<line x1="558.9" y1="60" x2="558.9" y2="321.3" stroke="#9898c0" stroke-width="1.5"/>
<polygon points="558.9,321.3 557,317 558.9,317 560.8,317" fill="#7878ba"/>
<line x1="588.8" y1="60" x2="588.8" y2="321.3" stroke="#9898c0" stroke-width="1.5"/>
<line x1="565.5" y1="327.3" x2="582.2" y2="327.3" stroke="#777" stroke-width="1.0"/>
<polygon points="582.2,327.3 577.8,329.4 577.8,327.3 577.8,325.2" fill="#111"/>
<polygon points="565.5,327.3 569.9,325.2 569.9,327.3 569.9,329.4" fill="#111"/>
<line x1="617.8" y1="60" x2="617.8" y2="321.3" stroke="#9898c0" stroke-width="1.5"/>
<polygon points="617.8,321.3 615.9,317 617.8,317 619.7,317" fill="#7878ba"/>
<line x1="595.4" y1="327.3" x2="611.2" y2="327.3" stroke="#777" stroke-width="1.0"/>
<polygon points="611.2,327.3 606.8,329.4 606.8,327.3 606.8,325.2" fill="#111"/>
<polygon points="595.4,327.3 599.8,325.2 599.8,327.3 599.8,329.4" fill="#111"/>
<line x1="647.7" y1="60" x2="647.7" y2="321.3" stroke="#9898c0" stroke-width="1.5"/>
<line x1="624.4" y1="327.3" x2="641.1" y2="327.3" stroke="#777" stroke-width="1.0"/>
<polygon points="641.1,327.3 636.7,329.4 636.7,327.3 636.7,325.2" fill="#111"/>
<polygon points="624.4,327.3 628.8,325.2 628.8,327.3 628.8,329.4" fill="#111"/>
<line x1="680.9" y1="60" x2="680.9" y2="321.3" stroke="#9898c0" stroke-width="1.5"/>
<line x1="654.3" y1="327.3" x2="674.3" y2="327.3" stroke="#777" stroke-width="1.0"/>
<polygon points="674.3,327.3 669.9,329.4 669.9,327.3 669.9,325.2" fill="#111"/>
<polygon points="654.3,327.3 658.7,325.2 658.7,327.3 658.7,329.4" fill="#111"/>
<path d="M690.3 60 L690.3 348.2" fill="none" stroke="#b87878" stroke-width="1.3" stroke-dasharray="1.3 4.9"/>
<line x1="698.7" y1="60" x2="698.7" y2="522.2" stroke="#1c1c1c" stroke-width="1.3" stroke-dasharray="3.7 2.9"/>
<line x1="698.7" y1="522.2" x2="960" y2="522.2" stroke="#1c1c1c" stroke-width="1.3" stroke-dasharray="3.7 2.9"/>
<path d="M542 335.5 L690.3 335.5" fill="none" stroke="#b87878" stroke-width="1.3" stroke-dasharray="1.3 4.9"/>
<path d="M537.7 334 L537.7 340 L531 345 L531 359" fill="none" stroke="#8080d0" stroke-width="1" stroke-dasharray="2.2 2.4"/>
<polygon points="531,359 529.3,355.6 531,355.6 532.7,355.6" fill="#8080d0"/>
<polygon points="537.7,334 539.4,337.4 537.7,337.4 536,337.4" fill="#8080d0"/>
<path d="M558.9 334 L558.9 341 L541 341" fill="none" stroke="#8080d0" stroke-width="1" stroke-dasharray="2.2 2.4"/>
<polygon points="558.9,334 560.6,337.4 558.9,337.4 557.2,337.4" fill="#8080d0"/>
<path d="M562 332 L569 337 L569 351.5" fill="none" stroke="#8080d0" stroke-width="1" stroke-dasharray="2.2 2.4"/>
<polygon points="569,351.5 567.3,348.1 569,348.1 570.7,348.1" fill="#8080d0"/>
<path d="M588.7 334 L588.7 364" fill="none" stroke="#8080d0" stroke-width="1" stroke-dasharray="2.2 2.4"/>
<polygon points="588.7,364 587,360.6 588.7,360.6 590.4,360.6" fill="#8080d0"/>
<polygon points="588.7,334 590.4,337.4 588.7,337.4 587,337.4" fill="#8080d0"/>
<path d="M617.8 334 L617.8 364" fill="none" stroke="#8080d0" stroke-width="1" stroke-dasharray="2.2 2.4"/>
<polygon points="617.8,364 616.1,360.6 617.8,360.6 619.5,360.6" fill="#8080d0"/>
<polygon points="617.8,334 619.5,337.4 617.8,337.4 616.1,337.4" fill="#8080d0"/>
<path d="M647.6 334 L647.6 364" fill="none" stroke="#8080d0" stroke-width="1" stroke-dasharray="2.2 2.4"/>
<polygon points="647.6,364 645.9,360.6 647.6,360.6 649.3,360.6" fill="#8080d0"/>
<polygon points="647.6,334 649.3,337.4 647.6,337.4 645.9,337.4" fill="#8080d0"/>
<path d="M680.8 334 L680.8 351.5" fill="none" stroke="#8080d0" stroke-width="1" stroke-dasharray="2.2 2.4"/>
<polygon points="680.8,351.5 679.1,348.1 680.8,348.1 682.5,348.1" fill="#8080d0"/>
<polygon points="680.8,334 682.5,337.4 680.8,337.4 679.1,337.4" fill="#8080d0"/>
<line x1="39" y1="366.3" x2="484.5" y2="366.3" stroke="#9898c0" stroke-width="1.5"/>
<polygon points="484.5,366.3 480.2,368.2 480.2,366.3 480.2,364.4" fill="#7878ba"/>
<polygon points="39,366.3 43.3,364.4 43.3,366.3 43.3,368.2" fill="#7878ba"/>
<line x1="39" y1="409" x2="484.5" y2="409" stroke="#9898c0" stroke-width="1.5"/>
<polygon points="484.5,409 480.2,410.9 480.2,409 480.2,407.1" fill="#7878ba"/>
<polygon points="39,409 43.3,407.1 43.3,409 43.3,410.9" fill="#7878ba"/>
<line x1="33" y1="372.9" x2="33" y2="402.4" stroke="#777" stroke-width="1.0"/>
<polygon points="33,402.4 30.9,398 33,398 35.1,398" fill="#111"/>
<polygon points="33,372.9 35.1,377.3 33,377.3 30.9,377.3" fill="#111"/>
<line x1="490.5" y1="372.9" x2="490.5" y2="402.4" stroke="#777" stroke-width="1.0"/>
<polygon points="490.5,402.4 488.4,398 490.5,398 492.6,398" fill="#111"/>
<polygon points="490.5,372.9 492.6,377.3 490.5,377.3 488.4,377.3" fill="#111"/>
<line x1="39" y1="451.7" x2="484.5" y2="451.7" stroke="#9898c0" stroke-width="1.5"/>
<polygon points="484.5,451.7 480.2,453.6 480.2,451.7 480.2,449.8" fill="#7878ba"/>
<polygon points="39,451.7 43.3,449.8 43.3,451.7 43.3,453.6" fill="#7878ba"/>
<line x1="33" y1="415.6" x2="33" y2="445.1" stroke="#777" stroke-width="1.0"/>
<polygon points="33,445.1 30.9,440.7 33,440.7 35.1,440.7" fill="#111"/>
<polygon points="33,415.6 35.1,420 33,420 30.9,420" fill="#111"/>
<line x1="490.5" y1="415.6" x2="490.5" y2="445.1" stroke="#777" stroke-width="1.0"/>
<polygon points="490.5,445.1 488.4,440.7 490.5,440.7 492.6,440.7" fill="#111"/>
<polygon points="490.5,415.6 492.6,420 490.5,420 488.4,420" fill="#111"/>
<line x1="39" y1="494.7" x2="484.5" y2="494.7" stroke="#9898c0" stroke-width="1.5"/>
<polygon points="484.5,494.7 480.2,496.6 480.2,494.7 480.2,492.8" fill="#7878ba"/>
<polygon points="39,494.7 43.3,492.8 43.3,494.7 43.3,496.6" fill="#7878ba"/>
<line x1="33" y1="458.3" x2="33" y2="488.1" stroke="#777" stroke-width="1.0"/>
<polygon points="33,488.1 30.9,483.7 33,483.7 35.1,483.7" fill="#111"/>
<polygon points="33,458.3 35.1,462.7 33,462.7 30.9,462.7" fill="#111"/>
<line x1="490.5" y1="458.3" x2="490.5" y2="488.1" stroke="#777" stroke-width="1.0"/>
<polygon points="490.5,488.1 488.4,483.7 490.5,483.7 492.6,483.7" fill="#111"/>
<polygon points="490.5,458.3 492.6,462.7 490.5,462.7 488.4,462.7" fill="#111"/>
<line x1="39" y1="532.8" x2="484.5" y2="532.8" stroke="#9898c0" stroke-width="1.5"/>
<polygon points="484.5,532.8 480.2,534.7 480.2,532.8 480.2,530.9" fill="#7878ba"/>
<polygon points="39,532.8 43.3,530.9 43.3,532.8 43.3,534.7" fill="#7878ba"/>
<line x1="33" y1="501.3" x2="33" y2="526.2" stroke="#777" stroke-width="1.0"/>
<polygon points="33,526.2 30.9,521.8 33,521.8 35.1,521.8" fill="#111"/>
<polygon points="33,501.3 35.1,505.7 33,505.7 30.9,505.7" fill="#111"/>
<line x1="490.5" y1="501.3" x2="490.5" y2="526.2" stroke="#777" stroke-width="1.0"/>
<polygon points="490.5,526.2 488.4,521.8 490.5,521.8 492.6,521.8" fill="#111"/>
<polygon points="490.5,501.3 492.6,505.7 490.5,505.7 488.4,505.7" fill="#111"/>
<path d="M21 366.3 L26.5 366.3" fill="none" stroke="#8080d0" stroke-width="1" stroke-dasharray="2.2 2.4"/>
<polygon points="26.5,366.3 23.1,368 23.1,366.3 23.1,364.6" fill="#8080d0"/>
<path d="M21 356 L33 356 L33 359.8" fill="none" stroke="#8080d0" stroke-width="1" stroke-dasharray="2.2 2.4"/>
<polygon points="33,359.8 31.3,356.4 33,356.4 34.7,356.4" fill="#8080d0"/>
<path d="M239.3 522 L243 522" fill="none" stroke="#8080d0" stroke-width="1" stroke-dasharray="2.2 2.4"/>
<polygon points="243,522 239.6,523.7 239.6,522 239.6,520.3" fill="#8080d0"/>
<path d="M239.3 522 L239.3 539 L251.8 539" fill="none" stroke="#8080d0" stroke-width="1" stroke-dasharray="2.2 2.4"/>
<polygon points="251.8,539 248.4,540.7 248.4,539 248.4,537.3" fill="#8080d0"/>
<path d="M244.1 541 L244.1 560.8" fill="none" stroke="#8080d0" stroke-width="1" stroke-dasharray="2.2 2.4"/>
<polygon points="244.1,560.8 242.4,557.4 244.1,557.4 245.8,557.4" fill="#8080d0"/>
<line x1="39" y1="569.5" x2="237.7" y2="567.3" stroke="#9898c0" stroke-width="1.5"/>
<polygon points="39,569.5 43.28,567.55 43.3,569.45 43.32,571.35" fill="#7878ba"/>
<line x1="39" y1="603.3" x2="237.7" y2="601.3" stroke="#9898c0" stroke-width="1.5"/>
<polygon points="237.7,601.3 233.42,603.24 233.4,601.34 233.38,599.44" fill="#7878ba"/>
<line x1="33" y1="576.1" x2="33" y2="596.7" stroke="#777" stroke-width="1.0"/>
<polygon points="33,596.7 30.9,592.3 33,592.3 35.1,592.3" fill="#111"/>
<polygon points="33,576.1 35.1,580.5 33,580.5 30.9,580.5" fill="#111"/>
<line x1="243.7" y1="576.1" x2="243.7" y2="592.5" stroke="#777" stroke-width="1.0"/>
<polygon points="243.7,592.5 241.6,588.1 243.7,588.1 245.8,588.1" fill="#111"/>
<polygon points="243.7,576.1 245.8,580.5 243.7,580.5 241.6,580.5" fill="#111"/>
<line x1="39" y1="636" x2="237.7" y2="636" stroke="#9898c0" stroke-width="1.5"/>
<polygon points="39,636 43.3,634.1 43.3,636 43.3,637.9" fill="#7878ba"/>
<line x1="33" y1="609.9" x2="33" y2="629.4" stroke="#777" stroke-width="1.0"/>
<polygon points="33,629.4 30.9,625 33,625 35.1,625" fill="#111"/>
<polygon points="33,609.9 35.1,614.3 33,614.3 30.9,614.3" fill="#111"/>
<line x1="243.7" y1="610.1" x2="243.7" y2="627.2" stroke="#777" stroke-width="1.0"/>
<polygon points="243.7,627.2 241.6,622.8 243.7,622.8 245.8,622.8" fill="#111"/>
<polygon points="243.7,610.1 245.8,614.5 243.7,614.5 241.6,614.5" fill="#111"/>
<line x1="39" y1="668.8" x2="237.7" y2="668.2" stroke="#9898c0" stroke-width="1.5"/>
<polygon points="237.7,668.2 233.41,670.11 233.4,668.21 233.39,666.31" fill="#7878ba"/>
<line x1="33" y1="642.6" x2="33" y2="662.2" stroke="#777" stroke-width="1.0"/>
<polygon points="33,662.2 30.9,657.8 33,657.8 35.1,657.8" fill="#111"/>
<polygon points="33,642.6 35.1,647 33,647 30.9,647" fill="#111"/>
<line x1="243.7" y1="644.8" x2="243.7" y2="659.4" stroke="#777" stroke-width="1.0"/>
<polygon points="243.7,659.4 241.6,655 243.7,655 245.8,655" fill="#111"/>
<polygon points="243.7,644.8 245.8,649.2 243.7,649.2 241.6,649.2" fill="#111"/>
<line x1="39" y1="702.5" x2="237.7" y2="702.5" stroke="#9898c0" stroke-width="1.5"/>
<polygon points="237.7,702.5 233.4,704.4 233.4,702.5 233.4,700.6" fill="#7878ba"/>
<polygon points="39,702.5 43.3,700.6 43.3,702.5 43.3,704.4" fill="#7878ba"/>
<line x1="33" y1="675.4" x2="33" y2="695.9" stroke="#777" stroke-width="1.0"/>
<polygon points="33,695.9 30.9,691.5 33,691.5 35.1,691.5" fill="#111"/>
<polygon points="33,675.4 35.1,679.8 33,679.8 30.9,679.8" fill="#111"/>
<line x1="243.7" y1="675.2" x2="243.7" y2="695.5" stroke="#777" stroke-width="1.0"/>
<polygon points="243.7,695.5 241.6,691.1 243.7,691.1 245.8,691.1" fill="#111"/>
<polygon points="243.7,675.2 245.8,679.6 243.7,679.6 241.6,679.6" fill="#111"/>
<path d="M33 539.5 L33 563" fill="none" stroke="#8080d0" stroke-width="1" stroke-dasharray="2.2 2.4"/>
<polygon points="33,563 31.3,559.6 33,559.6 34.7,559.6" fill="#8080d0"/>
<polygon points="33,539.5 34.7,542.9 33,542.9 31.3,542.9" fill="#8080d0"/>
<path d="M21 546 L36 546" fill="none" stroke="#b87878" stroke-width="1.3" stroke-dasharray="1.3 4.9"/>
<path d="M21 553.5 L30 553.5" fill="none" stroke="#b87878" stroke-width="1.3" stroke-dasharray="1.3 4.9"/>
<path d="M21 715.2 L250.2 715.2 L250.2 545 L240 545" fill="none" stroke="#b87878" stroke-width="1.3" stroke-dasharray="1.3 4.9"/>
<line x1="257.9" y1="544.5" x2="257.9" y2="696.5" stroke="#9898c0" stroke-width="1.5"/>
<polygon points="257.9,696.5 256,692.2 257.9,692.2 259.8,692.2" fill="#7878ba"/>
<line x1="279.4" y1="565.1" x2="279.4" y2="696.5" stroke="#9898c0" stroke-width="1.5"/>
<polygon points="279.4,696.5 277.5,692.2 279.4,692.2 281.3,692.2" fill="#7878ba"/>
<polygon points="279.4,565.1 281.3,569.4 279.4,569.4 277.5,569.4" fill="#7878ba"/>
<path d="M255 545 L255 710.3 L360.5 710.3 L360.5 548" fill="none" stroke="#b87878" stroke-width="1.3" stroke-dasharray="1.3 4.9"/>
<path d="M274 550.3 L287 550.3" fill="none" stroke="#b87878" stroke-width="1.3" stroke-dasharray="1.3 4.9"/>
<line x1="272.6" y1="547.1" x2="272.6" y2="695.3" stroke="#1c1c1c" stroke-width="2.0"/>
<line x1="272.6" y1="547.5" x2="488.4" y2="547.5" stroke="#1c1c1c" stroke-width="2.1"/>
<path d="M223 830 L223 720.5 L536 720.5 L541 724 L541 830" fill="none" stroke="#b87878" stroke-width="1.3" stroke-dasharray="1.3 4.9"/>
<path d="M229.2 719 L229.2 712 L238 706" fill="none" stroke="#8080d0" stroke-width="1" stroke-dasharray="2.2 2.4"/>
<polygon points="238,706 236.15,709.32 235.19,707.92 234.23,706.51" fill="#8080d0"/>
<polygon points="229.2,719 227.5,715.6 229.2,715.6 230.9,715.6" fill="#8080d0"/>
<path d="M244.2 709 L244.2 716 L258.2 716 L258.2 709" fill="none" stroke="#8080d0" stroke-width="1" stroke-dasharray="2.2 2.4"/>
<polygon points="258.2,709 259.9,712.4 258.2,712.4 256.5,712.4" fill="#8080d0"/>
<polygon points="244.2,709 245.9,712.4 244.2,712.4 242.5,712.4" fill="#8080d0"/>
<path d="M265 706 L268 716 L283 716 L283 709" fill="none" stroke="#8080d0" stroke-width="1" stroke-dasharray="2.2 2.4"/>
<polygon points="283,709 284.7,712.4 283,712.4 281.3,712.4" fill="#8080d0"/>
<path d="M279.3 709 L279.3 731" fill="none" stroke="#8080d0" stroke-width="1" stroke-dasharray="2.2 2.4"/>
<polygon points="279.3,731 277.6,727.6 279.3,727.6 281,727.6" fill="#8080d0"/>
<polygon points="279.3,709 281,712.4 279.3,712.4 277.6,712.4" fill="#8080d0"/>
<line x1="365.4" y1="547.5" x2="365.4" y2="696.4" stroke="#1c1c1c" stroke-width="2.0"/>
<line x1="373.6" y1="569.4" x2="484.3" y2="569.4" stroke="#9898c0" stroke-width="1.5"/>
<polygon points="484.3,569.4 480,571.3 480,569.4 480,567.5" fill="#7878ba"/>
<polygon points="373.6,569.4 377.9,567.5 377.9,569.4 377.9,571.3" fill="#7878ba"/>
<line x1="373.6" y1="606.3" x2="484.3" y2="606.3" stroke="#9898c0" stroke-width="1.5"/>
<polygon points="484.3,606.3 480,608.2 480,606.3 480,604.4" fill="#7878ba"/>
<polygon points="373.6,606.3 377.9,604.4 377.9,606.3 377.9,608.2" fill="#7878ba"/>
<line x1="373.6" y1="638.1" x2="484.3" y2="638.1" stroke="#9898c0" stroke-width="1.5"/>
<polygon points="484.3,638.1 480,640 480,638.1 480,636.2" fill="#7878ba"/>
<polygon points="373.6,638.1 377.9,636.2 377.9,638.1 377.9,640" fill="#7878ba"/>
<line x1="373.6" y1="671.5" x2="484.3" y2="671.5" stroke="#9898c0" stroke-width="1.5"/>
<polygon points="484.3,671.5 480,673.4 480,671.5 480,669.6" fill="#7878ba"/>
<polygon points="373.6,671.5 377.9,669.6 377.9,671.5 377.9,673.4" fill="#7878ba"/>
<path d="M490.4 539.3 L490.4 562.9" fill="none" stroke="#8080d0" stroke-width="1" stroke-dasharray="2.2 2.4"/>
<polygon points="490.4,562.9 488.7,559.5 490.4,559.5 492.1,559.5" fill="#8080d0"/>
<polygon points="490.4,539.3 492.1,542.7 490.4,542.7 488.7,542.7" fill="#8080d0"/>
<path d="M490.4 575.9 L490.4 599.8" fill="none" stroke="#8080d0" stroke-width="1" stroke-dasharray="2.2 2.4"/>
<polygon points="490.4,599.8 488.7,596.4 490.4,596.4 492.1,596.4" fill="#8080d0"/>
<polygon points="490.4,575.9 492.1,579.3 490.4,579.3 488.7,579.3" fill="#8080d0"/>
<path d="M490.4 612.8 L490.4 631.6" fill="none" stroke="#8080d0" stroke-width="1" stroke-dasharray="2.2 2.4"/>
<polygon points="490.4,631.6 488.7,628.2 490.4,628.2 492.1,628.2" fill="#8080d0"/>
<polygon points="490.4,612.8 492.1,616.2 490.4,616.2 488.7,616.2" fill="#8080d0"/>
<path d="M490.4 644.6 L490.4 665" fill="none" stroke="#8080d0" stroke-width="1" stroke-dasharray="2.2 2.4"/>
<polygon points="490.4,665 488.7,661.6 490.4,661.6 492.1,661.6" fill="#8080d0"/>
<polygon points="490.4,644.6 492.1,648 490.4,648 488.7,648" fill="#8080d0"/>
<path d="M490.4 678 L490.4 706.8 L505 706.8" fill="none" stroke="#8080d0" stroke-width="1" stroke-dasharray="2.2 2.4"/>
<polygon points="505,706.8 501.6,708.5 501.6,706.8 501.6,705.1" fill="#8080d0"/>
<polygon points="490.4,678 492.1,681.4 490.4,681.4 488.7,681.4" fill="#8080d0"/>
<path d="M497.3 346 L497.3 700" fill="none" stroke="#b87878" stroke-width="1.3" stroke-dasharray="1.3 4.9"/>
<line x1="543.6" y1="378" x2="543.6" y2="696.3" stroke="#1c1c1c" stroke-width="1.9"/>
<line x1="512.2" y1="372.4" x2="512.2" y2="700.8" stroke="#9898c0" stroke-width="1.5"/>
<polygon points="512.2,700.8 510.3,696.5 512.2,696.5 514.1,696.5" fill="#7878ba"/>
<polygon points="512.2,372.4 514.1,376.7 512.2,376.7 510.3,376.7" fill="#7878ba"/>
<line x1="533.3" y1="372.4" x2="533.3" y2="700.8" stroke="#9898c0" stroke-width="1.5"/>
<polygon points="533.3,700.8 531.4,696.5 533.3,696.5 535.2,696.5" fill="#7878ba"/>
<polygon points="533.3,372.4 535.2,376.7 533.3,376.7 531.4,376.7" fill="#7878ba"/>
<line x1="518.5" y1="366.4" x2="527" y2="366.4" stroke="#1c1c1c" stroke-width="1.0"/>
<polygon points="518.3,366.4 521.8,364.6 525.3,366.4 521.8,368.2" fill="#111"/>
<polygon points="517.6,706.8 522.3,704.9 527,706.8 522.3,708.7" fill="#111"/>
<path d="M496.8 412.5 L510.2 412.5" fill="none" stroke="#8080d0" stroke-width="1" stroke-dasharray="2.2 2.4"/>
<polygon points="510.2,412.5 506.8,414.2 506.8,412.5 506.8,410.8" fill="#8080d0"/>
<polygon points="496.8,412.5 500.2,410.8 500.2,412.5 500.2,414.2" fill="#8080d0"/>
<path d="M496.8 455.3 L510.2 455.3" fill="none" stroke="#8080d0" stroke-width="1" stroke-dasharray="2.2 2.4"/>
<polygon points="510.2,455.3 506.8,457 506.8,455.3 506.8,453.6" fill="#8080d0"/>
<polygon points="496.8,455.3 500.2,453.6 500.2,455.3 500.2,457" fill="#8080d0"/>
<path d="M496.8 498.3 L510.2 498.3" fill="none" stroke="#8080d0" stroke-width="1" stroke-dasharray="2.2 2.4"/>
<polygon points="510.2,498.3 506.8,500 506.8,498.3 506.8,496.6" fill="#8080d0"/>
<polygon points="496.8,498.3 500.2,496.6 500.2,498.3 500.2,500" fill="#8080d0"/>
<path d="M496.8 536.4 L510.2 536.4" fill="none" stroke="#8080d0" stroke-width="1" stroke-dasharray="2.2 2.4"/>
<polygon points="510.2,536.4 506.8,538.1 506.8,536.4 506.8,534.7" fill="#8080d0"/>
<polygon points="496.8,536.4 500.2,534.7 500.2,536.4 500.2,538.1" fill="#8080d0"/>
<path d="M496.8 573 L510.2 573" fill="none" stroke="#8080d0" stroke-width="1" stroke-dasharray="2.2 2.4"/>
<polygon points="510.2,573 506.8,574.7 506.8,573 506.8,571.3" fill="#8080d0"/>
<polygon points="496.8,573 500.2,571.3 500.2,573 500.2,574.7" fill="#8080d0"/>
<path d="M496.8 609.9 L510.2 609.9" fill="none" stroke="#8080d0" stroke-width="1" stroke-dasharray="2.2 2.4"/>
<polygon points="510.2,609.9 506.8,611.6 506.8,609.9 506.8,608.2" fill="#8080d0"/>
<polygon points="496.8,609.9 500.2,608.2 500.2,609.9 500.2,611.6" fill="#8080d0"/>
<path d="M496.8 641.7 L510.2 641.7" fill="none" stroke="#8080d0" stroke-width="1" stroke-dasharray="2.2 2.4"/>
<polygon points="510.2,641.7 506.8,643.4 506.8,641.7 506.8,640" fill="#8080d0"/>
<polygon points="496.8,641.7 500.2,640 500.2,641.7 500.2,643.4" fill="#8080d0"/>
<path d="M496.8 675.1 L510.2 675.1" fill="none" stroke="#8080d0" stroke-width="1" stroke-dasharray="2.2 2.4"/>
<polygon points="510.2,675.1 506.8,676.8 506.8,675.1 506.8,673.4" fill="#8080d0"/>
<polygon points="496.8,675.1 500.2,673.4 500.2,675.1 500.2,676.8" fill="#8080d0"/>
<path d="M508.3 698.8 L508.3 357.7 L545.3 357.7 L545.3 698.8 L365 698.8" fill="none" stroke="#b87878" stroke-width="1.3" stroke-dasharray="1.3 4.9"/>
<path d="M539.5 706.8 L562 706.8" fill="none" stroke="#8080d0" stroke-width="1" stroke-dasharray="2.2 2.4"/>
<polygon points="562,706.8 558.6,708.5 558.6,706.8 558.6,705.1" fill="#8080d0"/>
<polygon points="539.5,706.8 542.9,705.1 542.9,706.8 542.9,708.5" fill="#8080d0"/>
<path d="M526.5 723 L531 714" fill="none" stroke="#8080d0" stroke-width="1" stroke-dasharray="2.2 2.4"/>
<polygon points="531,714 531,717.8 529.48,717.04 527.96,716.28" fill="#8080d0"/>
<polygon points="526.5,723 526.5,719.2 528.02,719.96 529.54,720.72" fill="#8080d0"/>
<path d="M540 364 L552 358.5 L562 358.5" fill="none" stroke="#8080d0" stroke-width="1" stroke-dasharray="2.2 2.4"/>
<polygon points="562,358.5 558.6,360.2 558.6,358.5 558.6,356.8" fill="#8080d0"/>
<polygon points="540,364 542.38,361.04 543.09,362.58 543.8,364.13" fill="#8080d0"/>
<path d="M497 368.5 L505.5 368" fill="none" stroke="#8080d0" stroke-width="1" stroke-dasharray="2.2 2.4"/>
<polygon points="505.5,368 502.21,369.9 502.11,368.2 502.01,366.5" fill="#8080d0"/>
<polygon points="497,368.5 500.29,366.6 500.39,368.3 500.49,370" fill="#8080d0"/>
<line x1="235.2" y1="725.5" x2="514.2" y2="725.5" stroke="#9898c0" stroke-width="1.5"/>
<polygon points="514.2,725.5 509.9,727.4 509.9,725.5 509.9,723.6" fill="#7878ba"/>
<polygon points="235.2,725.5 239.5,723.6 239.5,725.5 239.5,727.4" fill="#7878ba"/>
<line x1="235.2" y1="756.9" x2="514.2" y2="756.9" stroke="#9898c0" stroke-width="1.5"/>
<polygon points="235.2,756.9 239.5,755 239.5,756.9 239.5,758.8" fill="#7878ba"/>
<line x1="229.2" y1="732.1" x2="229.2" y2="750.3" stroke="#777" stroke-width="1.0"/>
<polygon points="229.2,750.3 227.1,745.9 229.2,745.9 231.3,745.9" fill="#111"/>
<polygon points="229.2,732.1 231.3,736.5 229.2,736.5 227.1,736.5" fill="#111"/>
<line x1="520.2" y1="732.1" x2="520.2" y2="750.3" stroke="#777" stroke-width="1.0"/>
<polygon points="520.2,750.3 518.1,745.9 520.2,745.9 522.3,745.9" fill="#111"/>
<polygon points="520.2,732.1 522.3,736.5 520.2,736.5 518.1,736.5" fill="#111"/>
<line x1="235.2" y1="787.7" x2="514.2" y2="787.7" stroke="#9898c0" stroke-width="1.5"/>
<polygon points="514.2,787.7 509.9,789.6 509.9,787.7 509.9,785.8" fill="#7878ba"/>
<line x1="229.2" y1="763.5" x2="229.2" y2="781.1" stroke="#777" stroke-width="1.0"/>
<polygon points="229.2,781.1 227.1,776.7 229.2,776.7 231.3,776.7" fill="#111"/>
<polygon points="229.2,763.5 231.3,767.9 229.2,767.9 227.1,767.9" fill="#111"/>
<line x1="520.2" y1="763.5" x2="520.2" y2="781.1" stroke="#777" stroke-width="1.0"/>
<polygon points="520.2,781.1 518.1,776.7 520.2,776.7 522.3,776.7" fill="#111"/>
<polygon points="520.2,763.5 522.3,767.9 520.2,767.9 518.1,767.9" fill="#111"/>
<line x1="235.2" y1="818.1" x2="514.2" y2="818.1" stroke="#9898c0" stroke-width="1.5"/>
<polygon points="235.2,818.1 239.5,816.2 239.5,818.1 239.5,820" fill="#7878ba"/>
<line x1="229.2" y1="794.3" x2="229.2" y2="811.5" stroke="#777" stroke-width="1.0"/>
<polygon points="229.2,811.5 227.1,807.1 229.2,807.1 231.3,807.1" fill="#111"/>
<polygon points="229.2,794.3 231.3,798.7 229.2,798.7 227.1,798.7" fill="#111"/>
<line x1="520.2" y1="794.3" x2="520.2" y2="811.5" stroke="#777" stroke-width="1.0"/>
<polygon points="520.2,811.5 518.1,807.1 520.2,807.1 522.3,807.1" fill="#111"/>
<polygon points="520.2,794.3 522.3,798.7 520.2,798.7 518.1,798.7" fill="#111"/>
<line x1="543" y1="733.5" x2="543" y2="830" stroke="#1c1c1c" stroke-width="2.0"/>
<line x1="21" y1="736.7" x2="207.8" y2="736.7" stroke="#1c1c1c" stroke-width="1.35" stroke-dasharray="4.9 3.55"/>
<line x1="207.8" y1="736.7" x2="207.8" y2="830" stroke="#1c1c1c" stroke-width="1.35" stroke-dasharray="4.9 3.55"/>
<path d="M523.5 812 L523.5 806 L535.5 806 L535.5 812" fill="none" stroke="#8080d0" stroke-width="1" stroke-dasharray="2.2 2.4"/>
<polygon points="535.5,812 533.8,808.6 535.5,808.6 537.2,808.6" fill="#8080d0"/>
<polygon points="523.5,812 521.8,808.6 523.5,808.6 525.2,808.6" fill="#8080d0"/>
<line x1="575" y1="358.4" x2="675" y2="358.4" stroke="#9898c0" stroke-width="1.5"/>
<polygon points="675,358.4 670.7,360.3 670.7,358.4 670.7,356.5" fill="#7878ba"/>
<polygon points="575,358.4 579.3,356.5 579.3,358.4 579.3,360.3" fill="#7878ba"/>
<line x1="575" y1="391.5" x2="675" y2="391.5" stroke="#9898c0" stroke-width="1.5"/>
<polygon points="675,391.5 670.7,393.4 670.7,391.5 670.7,389.6" fill="#7878ba"/>
<polygon points="575,391.5 579.3,389.6 579.3,391.5 579.3,393.4" fill="#7878ba"/>
<line x1="569" y1="365" x2="569" y2="384.9" stroke="#777" stroke-width="1.0"/>
<polygon points="569,384.9 566.9,380.5 569,380.5 571.1,380.5" fill="#111"/>
<polygon points="569,365 571.1,369.4 569,369.4 566.9,369.4" fill="#111"/>
<line x1="681" y1="365" x2="681" y2="384.9" stroke="#777" stroke-width="1.0"/>
<polygon points="681,384.9 678.9,380.5 681,380.5 683.1,380.5" fill="#111"/>
<polygon points="681,365 683.1,369.4 681,369.4 678.9,369.4" fill="#111"/>
<line x1="575" y1="423.4" x2="675" y2="423.4" stroke="#9898c0" stroke-width="1.5"/>
<polygon points="675,423.4 670.7,425.3 670.7,423.4 670.7,421.5" fill="#7878ba"/>
<polygon points="575,423.4 579.3,421.5 579.3,423.4 579.3,425.3" fill="#7878ba"/>
<line x1="569" y1="398.1" x2="569" y2="416.8" stroke="#777" stroke-width="1.0"/>
<polygon points="569,416.8 566.9,412.4 569,412.4 571.1,412.4" fill="#111"/>
<polygon points="569,398.1 571.1,402.5 569,402.5 566.9,402.5" fill="#111"/>
<line x1="681" y1="398.1" x2="681" y2="416.8" stroke="#777" stroke-width="1.0"/>
<polygon points="681,416.8 678.9,412.4 681,412.4 683.1,412.4" fill="#111"/>
<polygon points="681,398.1 683.1,402.5 681,402.5 678.9,402.5" fill="#111"/>
<line x1="575" y1="454" x2="675" y2="454" stroke="#9898c0" stroke-width="1.5"/>
<polygon points="675,454 670.7,455.9 670.7,454 670.7,452.1" fill="#7878ba"/>
<polygon points="575,454 579.3,452.1 579.3,454 579.3,455.9" fill="#7878ba"/>
<line x1="569" y1="430" x2="569" y2="447.4" stroke="#777" stroke-width="1.0"/>
<polygon points="569,447.4 566.9,443 569,443 571.1,443" fill="#111"/>
<polygon points="569,430 571.1,434.4 569,434.4 566.9,434.4" fill="#111"/>
<line x1="681" y1="430" x2="681" y2="447.4" stroke="#777" stroke-width="1.0"/>
<polygon points="681,447.4 678.9,443 681,443 683.1,443" fill="#111"/>
<polygon points="681,430 683.1,434.4 681,434.4 678.9,434.4" fill="#111"/>
<line x1="575" y1="484.7" x2="675" y2="484.7" stroke="#9898c0" stroke-width="1.5"/>
<polygon points="675,484.7 670.7,486.6 670.7,484.7 670.7,482.8" fill="#7878ba"/>
<polygon points="575,484.7 579.3,482.8 579.3,484.7 579.3,486.6" fill="#7878ba"/>
<line x1="569" y1="460.6" x2="569" y2="478.1" stroke="#777" stroke-width="1.0"/>
<polygon points="569,478.1 566.9,473.7 569,473.7 571.1,473.7" fill="#111"/>
<polygon points="569,460.6 571.1,465 569,465 566.9,465" fill="#111"/>
<line x1="681" y1="460.6" x2="681" y2="478.1" stroke="#777" stroke-width="1.0"/>
<polygon points="681,478.1 678.9,473.7 681,473.7 683.1,473.7" fill="#111"/>
<polygon points="681,460.6 683.1,465 681,465 678.9,465" fill="#111"/>
<line x1="575" y1="514.8" x2="675" y2="514.8" stroke="#9898c0" stroke-width="1.5"/>
<polygon points="675,514.8 670.7,516.7 670.7,514.8 670.7,512.9" fill="#7878ba"/>
<polygon points="575,514.8 579.3,512.9 579.3,514.8 579.3,516.7" fill="#7878ba"/>
<line x1="569" y1="491.3" x2="569" y2="508.2" stroke="#777" stroke-width="1.0"/>
<polygon points="569,508.2 566.9,503.8 569,503.8 571.1,503.8" fill="#111"/>
<polygon points="569,491.3 571.1,495.7 569,495.7 566.9,495.7" fill="#111"/>
<line x1="681" y1="491.3" x2="681" y2="508.2" stroke="#777" stroke-width="1.0"/>
<polygon points="681,508.2 678.9,503.8 681,503.8 683.1,503.8" fill="#111"/>
<polygon points="681,491.3 683.1,495.7 681,495.7 678.9,495.7" fill="#111"/>
<path d="M558.4 640 L558.4 348.2 L693 348.2 L693 528 L679 528" fill="none" stroke="#b87878" stroke-width="1.3" stroke-dasharray="1.3 4.9"/>
<path d="M569 521.5 L569 547.5" fill="none" stroke="#8080d0" stroke-width="1" stroke-dasharray="2.2 2.4"/>
<polygon points="569,547.5 567.3,544.1 569,544.1 570.7,544.1" fill="#8080d0"/>
<polygon points="569,521.5 570.7,524.9 569,524.9 567.3,524.9" fill="#8080d0"/>
<line x1="577.7" y1="533" x2="960" y2="533" stroke="#1c1c1c" stroke-width="3.3"/>
<line x1="575" y1="554.4" x2="960" y2="554.4" stroke="#9898c0" stroke-width="1.5"/>
<polygon points="575,554.4 579.3,552.5 579.3,554.4 579.3,556.3" fill="#7878ba"/>
<line x1="575" y1="599.7" x2="960" y2="599.7" stroke="#9898c0" stroke-width="1.5"/>
<line x1="569" y1="561" x2="569" y2="593.1" stroke="#777" stroke-width="1.0"/>
<polygon points="569,593.1 566.9,588.7 569,588.7 571.1,588.7" fill="#111"/>
<polygon points="569,561 571.1,565.4 569,565.4 566.9,565.4" fill="#111"/>
<line x1="575" y1="628.9" x2="960" y2="628.9" stroke="#9898c0" stroke-width="1.5"/>
<polygon points="575,628.9 579.3,627 579.3,628.9 579.3,630.8" fill="#7878ba"/>
<line x1="569" y1="606.3" x2="569" y2="622.3" stroke="#777" stroke-width="1.0"/>
<polygon points="569,622.3 566.9,617.9 569,617.9 571.1,617.9" fill="#111"/>
<polygon points="569,606.3 571.1,610.7 569,610.7 566.9,610.7" fill="#111"/>
<line x1="575" y1="660.2" x2="960" y2="660.2" stroke="#9898c0" stroke-width="1.5"/>
<line x1="569" y1="635.5" x2="569" y2="653.6" stroke="#777" stroke-width="1.0"/>
<polygon points="569,653.6 566.9,649.2 569,649.2 571.1,649.2" fill="#111"/>
<polygon points="569,635.5 571.1,639.9 569,639.9 566.9,639.9" fill="#111"/>
<line x1="575" y1="706.7" x2="960" y2="706.7" stroke="#9898c0" stroke-width="1.5"/>
<polygon points="575,706.7 579.3,704.8 579.3,706.7 579.3,708.6" fill="#7878ba"/>
<line x1="569" y1="666.8" x2="569" y2="700.1" stroke="#777" stroke-width="1.0"/>
<polygon points="569,700.1 566.9,695.7 569,695.7 571.1,695.7" fill="#111"/>
<polygon points="569,666.8 571.1,671.2 569,671.2 566.9,671.2" fill="#111"/>
<line x1="575" y1="757.7" x2="960" y2="757.7" stroke="#9898c0" stroke-width="1.5"/>
<line x1="569" y1="713.3" x2="569" y2="751.1" stroke="#777" stroke-width="1.0"/>
<polygon points="569,751.1 566.9,746.7 569,746.7 571.1,746.7" fill="#111"/>
<polygon points="569,713.3 571.1,717.7 569,717.7 566.9,717.7" fill="#111"/>
<line x1="575" y1="788.5" x2="960" y2="788.5" stroke="#9898c0" stroke-width="1.5"/>
<polygon points="575,788.5 579.3,786.6 579.3,788.5 579.3,790.4" fill="#7878ba"/>
<line x1="569" y1="764.3" x2="569" y2="781.9" stroke="#777" stroke-width="1.0"/>
<polygon points="569,781.9 566.9,777.5 569,777.5 571.1,777.5" fill="#111"/>
<polygon points="569,764.3 571.1,768.7 569,768.7 566.9,768.7" fill="#111"/>
<line x1="575" y1="818.4" x2="960" y2="818.4" stroke="#9898c0" stroke-width="1.5"/>
<line x1="569" y1="795.1" x2="569" y2="811.8" stroke="#777" stroke-width="1.0"/>
<polygon points="569,811.8 566.9,807.4 569,807.4 571.1,807.4" fill="#111"/>
<polygon points="569,795.1 571.1,799.5 569,799.5 566.9,799.5" fill="#111"/>
<path d="M561 505 L561 830" fill="none" stroke="#b87878" stroke-width="1.3" stroke-dasharray="1.3 4.9"/>
<path d="M778.4 568.1 L778.4 586.5" fill="none" stroke="#8080d0" stroke-width="1" stroke-dasharray="2.2 2.4"/>
<polygon points="778.4,586.5 776.7,583.1 778.4,583.1 780.1,583.1" fill="#8080d0"/>
<polygon points="778.4,568.1 780.1,571.5 778.4,571.5 776.7,571.5" fill="#8080d0"/>
<path d="M778.4 599.5 L778.4 616.1" fill="none" stroke="#8080d0" stroke-width="1" stroke-dasharray="2.2 2.4"/>
<polygon points="778.4,616.1 776.7,612.7 778.4,612.7 780.1,612.7" fill="#8080d0"/>
<polygon points="778.4,599.5 780.1,602.9 778.4,602.9 776.7,602.9" fill="#8080d0"/>
<path d="M778.4 629.1 L778.4 647.9" fill="none" stroke="#8080d0" stroke-width="1" stroke-dasharray="2.2 2.4"/>
<polygon points="778.4,647.9 776.7,644.5 778.4,644.5 780.1,644.5" fill="#8080d0"/>
<polygon points="778.4,629.1 780.1,632.5 778.4,632.5 776.7,632.5" fill="#8080d0"/>
<path d="M778.4 660.9 L778.4 693.2" fill="none" stroke="#8080d0" stroke-width="1" stroke-dasharray="2.2 2.4"/>
<polygon points="778.4,693.2 776.7,689.8 778.4,689.8 780.1,689.8" fill="#8080d0"/>
<polygon points="778.4,660.9 780.1,664.3 778.4,664.3 776.7,664.3" fill="#8080d0"/>
<path d="M778.4 706.2 L778.4 745.4" fill="none" stroke="#8080d0" stroke-width="1" stroke-dasharray="2.2 2.4"/>
<polygon points="778.4,745.4 776.7,742 778.4,742 780.1,742" fill="#8080d0"/>
<polygon points="778.4,706.2 780.1,709.6 778.4,709.6 776.7,709.6" fill="#8080d0"/>
<path d="M778.4 758.4 L778.4 776.2" fill="none" stroke="#8080d0" stroke-width="1" stroke-dasharray="2.2 2.4"/>
<polygon points="778.4,776.2 776.7,772.8 778.4,772.8 780.1,772.8" fill="#8080d0"/>
<polygon points="778.4,758.4 780.1,761.8 778.4,761.8 776.7,761.8" fill="#8080d0"/>
<path d="M778.4 789.2 L778.4 806" fill="none" stroke="#8080d0" stroke-width="1" stroke-dasharray="2.2 2.4"/>
<polygon points="778.4,806 776.7,802.6 778.4,802.6 780.1,802.6" fill="#8080d0"/>
<polygon points="778.4,789.2 780.1,792.6 778.4,792.6 776.7,792.6" fill="#8080d0"/>
<path d="M778.4 819 L778.4 830" fill="none" stroke="#8080d0" stroke-width="1" stroke-dasharray="2.2 2.4"/>
<polygon points="778.4,819 780.1,822.4 778.4,822.4 776.7,822.4" fill="#8080d0"/>
<path d="M762 548.5 L772 548 L778.4 554.5" fill="none" stroke="#8080d0" stroke-width="1" stroke-dasharray="2.2 2.4"/>
<polygon points="778.4,554.5 774.8,553.27 776.01,552.08 777.23,550.88" fill="#8080d0"/>
<polygon points="762,548.5 765.31,546.63 765.4,548.33 765.48,550.03" fill="#8080d0"/>
<path d="M771.5 561.6 L760.3 563 L760.3 570.5" fill="none" stroke="#8080d0" stroke-width="1" stroke-dasharray="2.2 2.4"/>
<polygon points="760.3,570.5 758.6,567.1 760.3,567.1 762,567.1" fill="#8080d0"/>
<polygon points="771.5,561.6 768.34,563.71 768.13,562.02 767.92,560.33" fill="#8080d0"/>
<path d="M785.5 561.6 L797.2 563 L797.2 570.5" fill="none" stroke="#8080d0" stroke-width="1" stroke-dasharray="2.2 2.4"/>
<polygon points="797.2,570.5 795.5,567.1 797.2,567.1 798.9,567.1" fill="#8080d0"/>
<polygon points="785.5,561.6 789.08,560.32 788.88,562 788.67,563.69" fill="#8080d0"/>
<path d="M771.5 593 L760.3 594.5 L760.3 599.5" fill="none" stroke="#8080d0" stroke-width="1" stroke-dasharray="2.2 2.4"/>
<polygon points="760.3,599.5 758.6,596.1 760.3,596.1 762,596.1" fill="#8080d0"/>
<polygon points="771.5,593 768.36,595.14 768.13,593.45 767.9,591.77" fill="#8080d0"/>
<path d="M785.5 622.6 L797.2 623.5 L797.2 628.5" fill="none" stroke="#8080d0" stroke-width="1" stroke-dasharray="2.2 2.4"/>
<polygon points="797.2,628.5 795.5,625.1 797.2,625.1 798.9,625.1" fill="#8080d0"/>
<polygon points="785.5,622.6 789.02,621.17 788.89,622.86 788.76,624.56" fill="#8080d0"/>
<path d="M771.5 654.4 L760.3 655.5 L760.3 658.5" fill="none" stroke="#8080d0" stroke-width="1" stroke-dasharray="2.2 2.4"/>
<polygon points="760.3,658.5 758.6,655.1 760.3,655.1 762,655.1" fill="#8080d0"/>
<polygon points="771.5,654.4 768.28,656.42 768.12,654.73 767.95,653.04" fill="#8080d0"/>
<path d="M760.3 684 L760.3 729.5" fill="none" stroke="#8080d0" stroke-width="1" stroke-dasharray="2.2 2.4"/>
<polygon points="760.3,729.5 758.6,726.1 760.3,726.1 762,726.1" fill="#8080d0"/>
<polygon points="760.3,684 762,687.4 760.3,687.4 758.6,687.4" fill="#8080d0"/>
<path d="M797.2 684 L797.2 729.5" fill="none" stroke="#8080d0" stroke-width="1" stroke-dasharray="2.2 2.4"/>
<polygon points="797.2,729.5 795.5,726.1 797.2,726.1 798.9,726.1" fill="#8080d0"/>
<polygon points="797.2,684 798.9,687.4 797.2,687.4 795.5,687.4" fill="#8080d0"/>
<path d="M760.3 695 L771 695" fill="none" stroke="#8080d0" stroke-width="1" stroke-dasharray="2.2 2.4"/>
<polygon points="771,695 767.6,696.7 767.6,695 767.6,693.3" fill="#8080d0"/>
<path d="M760.3 704.5 L771 704.5" fill="none" stroke="#8080d0" stroke-width="1" stroke-dasharray="2.2 2.4"/>
<polygon points="771,704.5 767.6,706.2 767.6,704.5 767.6,702.8" fill="#8080d0"/>
<path d="M797.2 695 L786 695" fill="none" stroke="#8080d0" stroke-width="1" stroke-dasharray="2.2 2.4"/>
<polygon points="786,695 789.4,693.3 789.4,695 789.4,696.7" fill="#8080d0"/>
<path d="M797.2 704.5 L786 704.5" fill="none" stroke="#8080d0" stroke-width="1" stroke-dasharray="2.2 2.4"/>
<polygon points="786,704.5 789.4,702.8 789.4,704.5 789.4,706.2" fill="#8080d0"/>
<path d="M771.5 751.9 L761 752.5 L761 759.5" fill="none" stroke="#8080d0" stroke-width="1" stroke-dasharray="2.2 2.4"/>
<polygon points="761,759.5 759.3,756.1 761,756.1 762.7,756.1" fill="#8080d0"/>
<polygon points="771.5,751.9 768.2,753.79 768.11,752.09 768.01,750.4" fill="#8080d0"/>
<path d="M785.5 782.7 L798 783.5 L798 789.5" fill="none" stroke="#8080d0" stroke-width="1" stroke-dasharray="2.2 2.4"/>
<polygon points="798,789.5 796.3,786.1 798,786.1 799.7,786.1" fill="#8080d0"/>
<polygon points="785.5,782.7 789,781.22 788.89,782.92 788.78,784.61" fill="#8080d0"/>
<path d="M771.5 812.5 L761 813.5 L761 820.5" fill="none" stroke="#8080d0" stroke-width="1" stroke-dasharray="2.2 2.4"/>
<polygon points="761,820.5 759.3,817.1 761,817.1 762.7,817.1" fill="#8080d0"/>
<polygon points="771.5,812.5 768.28,814.51 768.12,812.82 767.95,811.13" fill="#8080d0"/>
<rect x="-185.71" y="154.26" width="10.8" height="7.49" fill="#fff"/>
<text x="-180.31" y="160.59" font-size="7.2" text-anchor="middle" fill="#789c86">G1</text>
<text transform="translate(-172.71 226) rotate(90)" x="0" y="2.95" font-size="8.2" text-anchor="middle" fill="#4a4a4a">C01</text>
<text transform="translate(-163.81 225.6) rotate(90)" x="0" y="2.95" font-size="8.2" text-anchor="middle" fill="#4a4a4a">C02</text>
<rect x="-156.82" y="154.26" width="10.8" height="7.49" fill="#fff"/>
<text x="-151.42" y="160.59" font-size="7.2" text-anchor="middle" fill="#789c86">G2</text>
<text transform="translate(-143.82 226) rotate(90)" x="0" y="2.95" font-size="8.2" text-anchor="middle" fill="#4a4a4a">C03</text>
<text transform="translate(-134.93 225.6) rotate(90)" x="0" y="2.95" font-size="8.2" text-anchor="middle" fill="#4a4a4a">C04</text>
<rect x="-129.83" y="156.26" width="10.8" height="7.49" fill="#fff"/>
<text x="-124.43" y="162.59" font-size="7.2" text-anchor="middle" fill="#789c86">G3</text>
<text transform="translate(-114.94 226) rotate(90)" x="0" y="2.95" font-size="8.2" text-anchor="middle" fill="#4a4a4a">C05</text>
<text transform="translate(-106.04 225.6) rotate(90)" x="0" y="2.95" font-size="8.2" text-anchor="middle" fill="#4a4a4a">C06</text>
<rect x="-99.04" y="153.56" width="10.8" height="7.49" fill="#fff"/>
<text x="-93.64" y="159.89" font-size="7.2" text-anchor="middle" fill="#789c86">G4</text>
<text transform="translate(-86.05 226) rotate(90)" x="0" y="2.95" font-size="8.2" text-anchor="middle" fill="#4a4a4a">C07</text>
<text transform="translate(-77.14 225.6) rotate(90)" x="0" y="2.95" font-size="8.2" text-anchor="middle" fill="#4a4a4a">C08</text>
<rect x="-70.15" y="155.76" width="10.8" height="7.49" fill="#fff"/>
<text x="-64.75" y="162.09" font-size="7.2" text-anchor="middle" fill="#789c86">G5</text>
<text transform="translate(-57.16 226) rotate(90)" x="0" y="2.95" font-size="8.2" text-anchor="middle" fill="#4a4a4a">C09</text>
<text transform="translate(-48.25 225.6) rotate(90)" x="0" y="2.95" font-size="8.2" text-anchor="middle" fill="#4a4a4a">C10</text>
<rect x="-41.26" y="153.56" width="10.8" height="7.49" fill="#fff"/>
<text x="-35.86" y="159.89" font-size="7.2" text-anchor="middle" fill="#789c86">G6</text>
<text transform="translate(-28.27 226) rotate(90)" x="0" y="2.95" font-size="8.2" text-anchor="middle" fill="#4a4a4a">C11</text>
<text transform="translate(-19.37 225.6) rotate(90)" x="0" y="2.95" font-size="8.2" text-anchor="middle" fill="#4a4a4a">C12</text>
<rect x="-12.37" y="149.46" width="10.8" height="7.49" fill="#fff"/>
<text x="-6.97" y="155.79" font-size="7.2" text-anchor="middle" fill="#789c86">G7</text>
<text transform="translate(0.62 226) rotate(90)" x="0" y="2.95" font-size="8.2" text-anchor="middle" fill="#4a4a4a">C13</text>
<text transform="translate(9.52 225.6) rotate(90)" x="0" y="2.95" font-size="8.2" text-anchor="middle" fill="#4a4a4a">C14</text>
<rect x="16.52" y="153.56" width="10.8" height="7.49" fill="#fff"/>
<text x="21.92" y="159.89" font-size="7.2" text-anchor="middle" fill="#789c86">G8</text>
<text transform="translate(29.51 226) rotate(90)" x="0" y="2.95" font-size="8.2" text-anchor="middle" fill="#4a4a4a">C15</text>
<text transform="translate(38.41 225.6) rotate(90)" x="0" y="2.95" font-size="8.2" text-anchor="middle" fill="#4a4a4a">C16</text>
<rect x="45.41" y="152.26" width="10.8" height="7.49" fill="#fff"/>
<text x="50.81" y="158.59" font-size="7.2" text-anchor="middle" fill="#789c86">G9</text>
<text transform="translate(58.4 226) rotate(90)" x="0" y="2.95" font-size="8.2" text-anchor="middle" fill="#4a4a4a">C17</text>
<text transform="translate(67.3 225.6) rotate(90)" x="0" y="2.95" font-size="8.2" text-anchor="middle" fill="#4a4a4a">C18</text>
<rect x="72.3" y="156.56" width="14.81" height="7.49" fill="#fff"/>
<text x="79.7" y="162.89" font-size="7.2" text-anchor="middle" fill="#789c86">G10</text>
<text transform="translate(87.3 226) rotate(90)" x="0" y="2.95" font-size="8.2" text-anchor="middle" fill="#4a4a4a">C19</text>
<text transform="translate(96.2 225.6) rotate(90)" x="0" y="2.95" font-size="8.2" text-anchor="middle" fill="#4a4a4a">C20</text>
<rect x="101.19" y="165.66" width="14.81" height="7.49" fill="#fff"/>
<text x="108.59" y="171.99" font-size="7.2" text-anchor="middle" fill="#789c86">G11</text>
<text transform="translate(116.18 226) rotate(90)" x="0" y="2.95" font-size="8.2" text-anchor="middle" fill="#4a4a4a">C21</text>
<text transform="translate(125.08 225.6) rotate(90)" x="0" y="2.95" font-size="8.2" text-anchor="middle" fill="#4a4a4a">C22</text>
<rect x="130.08" y="169.26" width="14.81" height="7.49" fill="#fff"/>
<text x="137.48" y="175.59" font-size="7.2" text-anchor="middle" fill="#789c86">G12</text>
<text transform="translate(145.07 226) rotate(90)" x="0" y="2.95" font-size="8.2" text-anchor="middle" fill="#4a4a4a">C23</text>
<text transform="translate(153.97 225.6) rotate(90)" x="0" y="2.95" font-size="8.2" text-anchor="middle" fill="#4a4a4a">C24</text>
<rect x="158.97" y="161.76" width="14.81" height="7.49" fill="#fff"/>
<text x="166.37" y="168.09" font-size="7.2" text-anchor="middle" fill="#789c86">G13</text>
<text transform="translate(173.97 226) rotate(90)" x="0" y="2.95" font-size="8.2" text-anchor="middle" fill="#4a4a4a">C25</text>
<text transform="translate(182.87 225.6) rotate(90)" x="0" y="2.95" font-size="8.2" text-anchor="middle" fill="#4a4a4a">C26</text>
<rect x="187.86" y="159.66" width="14.81" height="7.49" fill="#fff"/>
<text x="195.26" y="165.99" font-size="7.2" text-anchor="middle" fill="#789c86">G14</text>
<text transform="translate(202.86 226) rotate(90)" x="0" y="2.95" font-size="8.2" text-anchor="middle" fill="#4a4a4a">C27</text>
<text transform="translate(211.75 225.6) rotate(90)" x="0" y="2.95" font-size="8.2" text-anchor="middle" fill="#4a4a4a">C28</text>
<rect x="216.75" y="158.96" width="14.81" height="7.49" fill="#fff"/>
<text x="224.15" y="165.29" font-size="7.2" text-anchor="middle" fill="#789c86">G15</text>
<text transform="translate(231.75 226) rotate(90)" x="0" y="2.95" font-size="8.2" text-anchor="middle" fill="#4a4a4a">C29</text>
<text transform="translate(240.64 225.6) rotate(90)" x="0" y="2.95" font-size="8.2" text-anchor="middle" fill="#4a4a4a">C30</text>
<rect x="245.64" y="154.26" width="14.81" height="7.49" fill="#fff"/>
<text x="253.04" y="160.59" font-size="7.2" text-anchor="middle" fill="#789c86">G16</text>
<text transform="translate(260.64 226) rotate(90)" x="0" y="2.95" font-size="8.2" text-anchor="middle" fill="#4a4a4a">C31</text>
<text transform="translate(269.54 225.6) rotate(90)" x="0" y="2.95" font-size="8.2" text-anchor="middle" fill="#4a4a4a">C32</text>
<rect x="274.53" y="156.06" width="14.81" height="7.49" fill="#fff"/>
<text x="281.93" y="162.39" font-size="7.2" text-anchor="middle" fill="#789c86">G17</text>
<text transform="translate(289.53 226) rotate(90)" x="0" y="2.95" font-size="8.2" text-anchor="middle" fill="#4a4a4a">C33</text>
<text transform="translate(298.43 225.6) rotate(90)" x="0" y="2.95" font-size="8.2" text-anchor="middle" fill="#4a4a4a">C34</text>
<rect x="303.42" y="152.66" width="14.81" height="7.49" fill="#fff"/>
<text x="310.82" y="158.99" font-size="7.2" text-anchor="middle" fill="#789c86">G18</text>
<text transform="translate(318.42 226) rotate(90)" x="0" y="2.95" font-size="8.2" text-anchor="middle" fill="#4a4a4a">C35</text>
<text transform="translate(327.31 225.6) rotate(90)" x="0" y="2.95" font-size="8.2" text-anchor="middle" fill="#4a4a4a">C36</text>
<rect x="332.31" y="152.26" width="14.81" height="7.49" fill="#fff"/>
<text x="339.71" y="158.59" font-size="7.2" text-anchor="middle" fill="#789c86">G19</text>
<text transform="translate(347.31 226) rotate(90)" x="0" y="2.95" font-size="8.2" text-anchor="middle" fill="#4a4a4a">C37</text>
<text transform="translate(356.2 225.6) rotate(90)" x="0" y="2.95" font-size="8.2" text-anchor="middle" fill="#4a4a4a">C38</text>
<rect x="361.2" y="152.66" width="14.81" height="7.49" fill="#fff"/>
<text x="368.6" y="158.99" font-size="7.2" text-anchor="middle" fill="#789c86">G20</text>
<text transform="translate(376.19 226) rotate(90)" x="0" y="2.95" font-size="8.2" text-anchor="middle" fill="#4a4a4a">C39</text>
<text transform="translate(385.09 225.6) rotate(90)" x="0" y="2.95" font-size="8.2" text-anchor="middle" fill="#4a4a4a">C40</text>
<rect x="390.09" y="156.06" width="14.81" height="7.49" fill="#fff"/>
<text x="397.49" y="162.39" font-size="7.2" text-anchor="middle" fill="#789c86">G21</text>
<text transform="translate(405.09 226) rotate(90)" x="0" y="2.95" font-size="8.2" text-anchor="middle" fill="#4a4a4a">C41</text>
<text transform="translate(413.99 225.6) rotate(90)" x="0" y="2.95" font-size="8.2" text-anchor="middle" fill="#4a4a4a">C42</text>
<rect x="418.98" y="153.76" width="14.81" height="7.49" fill="#fff"/>
<text x="426.38" y="160.09" font-size="7.2" text-anchor="middle" fill="#789c86">G22</text>
<text transform="translate(433.98 226) rotate(90)" x="0" y="2.95" font-size="8.2" text-anchor="middle" fill="#4a4a4a">C43</text>
<text transform="translate(442.88 225.6) rotate(90)" x="0" y="2.95" font-size="8.2" text-anchor="middle" fill="#4a4a4a">C44</text>
<rect x="447.87" y="156.06" width="14.81" height="7.49" fill="#fff"/>
<text x="455.27" y="162.39" font-size="7.2" text-anchor="middle" fill="#789c86">G23</text>
<text transform="translate(462.87 226) rotate(90)" x="0" y="2.95" font-size="8.2" text-anchor="middle" fill="#4a4a4a">C45</text>
<text transform="translate(471.77 225.6) rotate(90)" x="0" y="2.95" font-size="8.2" text-anchor="middle" fill="#4a4a4a">C46</text>
<rect x="476.76" y="153.76" width="14.81" height="7.49" fill="#fff"/>
<text x="484.16" y="160.09" font-size="7.2" text-anchor="middle" fill="#789c86">G24</text>
<text transform="translate(491.76 226) rotate(90)" x="0" y="2.95" font-size="8.2" text-anchor="middle" fill="#4a4a4a">C47</text>
<text transform="translate(500.66 225.6) rotate(90)" x="0" y="2.95" font-size="8.2" text-anchor="middle" fill="#4a4a4a">C48</text>
<rect x="505.65" y="140.36" width="14.81" height="7.49" fill="#fff"/>
<text x="513.05" y="146.69" font-size="7.2" text-anchor="middle" fill="#789c86">G25</text>
<text transform="translate(519.73 226) rotate(90)" x="0" y="2.95" font-size="8.2" text-anchor="middle" fill="#4a4a4a">C49</text>
<text transform="translate(528.63 225.6) rotate(90)" x="0" y="2.95" font-size="8.2" text-anchor="middle" fill="#4a4a4a">C50</text>
<rect x="532.7" y="162.76" width="14.81" height="7.49" fill="#fff"/>
<text x="540.1" y="169.09" font-size="7.2" text-anchor="middle" fill="#789c86">G26</text>
<text x="263" y="351.74" font-size="7.6" text-anchor="middle" fill="#3a3a3a">A01</text>
<text transform="translate(548 134.5) rotate(90)" x="0" y="2.88" font-size="8.0" text-anchor="middle" fill="#3a3a3a">B01</text>
<text transform="translate(569.25 134.5) rotate(90)" x="0" y="2.88" font-size="8.0" text-anchor="middle" fill="#3a3a3a">B02</text>
<text transform="translate(577.6 134.5) rotate(90)" x="0" y="2.88" font-size="8.0" text-anchor="middle" fill="#3a3a3a">B03</text>
<text transform="translate(599.2 134.5) rotate(90)" x="0" y="2.88" font-size="8.0" text-anchor="middle" fill="#3a3a3a">B04</text>
<text transform="translate(607.6 134.5) rotate(90)" x="0" y="2.88" font-size="8.0" text-anchor="middle" fill="#3a3a3a">B05</text>
<text transform="translate(629.35 134.5) rotate(90)" x="0" y="2.88" font-size="8.0" text-anchor="middle" fill="#3a3a3a">B06</text>
<text transform="translate(637.5 134.5) rotate(90)" x="0" y="2.88" font-size="8.0" text-anchor="middle" fill="#3a3a3a">B07</text>
<text transform="translate(658.6 134.5) rotate(90)" x="0" y="2.88" font-size="8.0" text-anchor="middle" fill="#3a3a3a">B08</text>
<text transform="translate(666.8 134.5) rotate(90)" x="0" y="2.88" font-size="8.0" text-anchor="middle" fill="#3a3a3a">B09</text>
<rect x="551.5" y="184.96" width="14.81" height="7.49" fill="#fff"/>
<text x="558.9" y="191.29" font-size="7.2" text-anchor="middle" fill="#789c86">G27</text>
<rect x="584.3" y="181.46" width="14.81" height="7.49" fill="#fff"/>
<text x="591.7" y="187.79" font-size="7.2" text-anchor="middle" fill="#789c86">G28</text>
<rect x="612.4" y="181.46" width="14.81" height="7.49" fill="#fff"/>
<text x="619.8" y="187.79" font-size="7.2" text-anchor="middle" fill="#789c86">G29</text>
<rect x="641.5" y="181.46" width="14.81" height="7.49" fill="#fff"/>
<text x="648.9" y="187.79" font-size="7.2" text-anchor="middle" fill="#789c86">G30</text>
<rect x="675.8" y="181.46" width="14.81" height="7.49" fill="#fff"/>
<text x="683.2" y="187.79" font-size="7.2" text-anchor="middle" fill="#789c86">G31</text>
<text x="263.5" y="386.11" font-size="7.8" text-anchor="middle" fill="#3a3a3a">A02</text>
<text x="263.5" y="395.06" font-size="7.8" text-anchor="middle" fill="#3a3a3a">A03</text>
<text x="263.5" y="428.91" font-size="7.8" text-anchor="middle" fill="#3a3a3a">A04</text>
<text x="263.5" y="437.91" font-size="7.8" text-anchor="middle" fill="#3a3a3a">A05</text>
<text x="263.5" y="471.51" font-size="7.8" text-anchor="middle" fill="#3a3a3a">A06</text>
<text x="263.5" y="480.76" font-size="7.8" text-anchor="middle" fill="#3a3a3a">A07</text>
<text x="263.5" y="514.96" font-size="7.8" text-anchor="middle" fill="#3a3a3a">A08</text>
<text x="263.5" y="523.96" font-size="7.8" text-anchor="middle" fill="#3a3a3a">A09</text>
<rect x="229.43" y="364.89" width="16.13" height="8.22" fill="#fff"/>
<text x="237.5" y="371.84" font-size="7.9" text-anchor="middle" fill="#789c86">G32</text>
<rect x="224.43" y="409.39" width="16.13" height="8.22" fill="#fff"/>
<text x="232.5" y="416.34" font-size="7.9" text-anchor="middle" fill="#789c86">G33</text>
<rect x="224.43" y="449.19" width="16.13" height="8.22" fill="#fff"/>
<text x="232.5" y="456.14" font-size="7.9" text-anchor="middle" fill="#789c86">G34</text>
<rect x="236.43" y="492.89" width="16.13" height="8.22" fill="#fff"/>
<text x="244.5" y="499.84" font-size="7.9" text-anchor="middle" fill="#789c86">G35</text>
<rect x="210.43" y="531.69" width="16.13" height="8.22" fill="#fff"/>
<text x="218.5" y="538.64" font-size="7.9" text-anchor="middle" fill="#789c86">G36</text>
<rect x="222.4" y="508.6" width="22" height="7.3" fill="#fbfbfb" stroke="#9a9a9a" stroke-width="0.7"/><text x="233.4" y="513.91" font-size="4.6" text-anchor="middle" fill="#555" textLength="19.6" lengthAdjust="spacingAndGlyphs">A08-036</text>
<text x="138.8" y="548.86" font-size="7.8" text-anchor="middle" fill="#3a3a3a">A10</text>
<text x="138.8" y="558.01" font-size="7.8" text-anchor="middle" fill="#3a3a3a">A11</text>
<text x="138.8" y="583.76" font-size="7.8" text-anchor="middle" fill="#3a3a3a">A12</text>
<text x="138.8" y="592.96" font-size="7.8" text-anchor="middle" fill="#3a3a3a">A13</text>
<text x="138.8" y="617.16" font-size="7.8" text-anchor="middle" fill="#3a3a3a">A14</text>
<text x="138.8" y="626.11" font-size="7.8" text-anchor="middle" fill="#3a3a3a">A15</text>
<text x="138.8" y="650.56" font-size="7.8" text-anchor="middle" fill="#3a3a3a">A16</text>
<text x="138.8" y="659.66" font-size="7.8" text-anchor="middle" fill="#3a3a3a">A17</text>
<text x="138.8" y="684.41" font-size="7.8" text-anchor="middle" fill="#3a3a3a">A18</text>
<text x="138.8" y="693.66" font-size="7.8" text-anchor="middle" fill="#3a3a3a">A19</text>
<rect x="66.43" y="567.39" width="16.13" height="8.22" fill="#fff"/>
<text x="74.5" y="574.34" font-size="7.9" text-anchor="middle" fill="#789c86">G37</text>
<rect x="61.33" y="600.79" width="16.13" height="8.22" fill="#fff"/>
<text x="69.4" y="607.74" font-size="7.9" text-anchor="middle" fill="#789c86">G38</text>
<rect x="63.13" y="634.19" width="16.13" height="8.22" fill="#fff"/>
<text x="71.2" y="641.14" font-size="7.9" text-anchor="middle" fill="#789c86">G39</text>
<rect x="61.33" y="668.29" width="16.13" height="8.22" fill="#fff"/>
<text x="69.4" y="675.24" font-size="7.9" text-anchor="middle" fill="#789c86">G40</text>
<rect x="52.33" y="699.79" width="16.13" height="8.22" fill="#fff"/>
<text x="60.4" y="706.74" font-size="7.9" text-anchor="middle" fill="#789c86">G41</text>
<text x="376" y="546.14" font-size="7.6" text-anchor="middle" fill="#3a3a3a">A10</text>
<text transform="translate(268.3 622) rotate(90)" x="0" y="2.66" font-size="7.4" text-anchor="middle" fill="#3a3a3a">A33</text>
<text transform="translate(291.88 622) rotate(90)" x="0" y="2.66" font-size="7.4" text-anchor="middle" fill="#3a3a3a">A34</text>
<text transform="translate(300.62 622) rotate(90)" x="0" y="2.66" font-size="7.4" text-anchor="middle" fill="#3a3a3a">A35</text>
<text transform="translate(309.38 622) rotate(90)" x="0" y="2.66" font-size="7.4" text-anchor="middle" fill="#3a3a3a">A36</text>
<text transform="translate(318.12 622) rotate(90)" x="0" y="2.66" font-size="7.4" text-anchor="middle" fill="#3a3a3a">A37</text>
<text transform="translate(326.88 622) rotate(90)" x="0" y="2.66" font-size="7.4" text-anchor="middle" fill="#3a3a3a">A38</text>
<text transform="translate(335.62 622) rotate(90)" x="0" y="2.66" font-size="7.4" text-anchor="middle" fill="#3a3a3a">A39</text>
<text transform="translate(344.38 622) rotate(90)" x="0" y="2.66" font-size="7.4" text-anchor="middle" fill="#3a3a3a">A40</text>
<text transform="translate(353.12 622) rotate(90)" x="0" y="2.66" font-size="7.4" text-anchor="middle" fill="#3a3a3a">A41</text>
<rect x="251.13" y="655.89" width="16.13" height="8.22" fill="#fff"/>
<text x="259.2" y="662.84" font-size="7.9" text-anchor="middle" fill="#789c86">G42</text>
<rect x="271.53" y="639.29" width="16.13" height="8.22" fill="#fff"/>
<text x="279.6" y="646.24" font-size="7.9" text-anchor="middle" fill="#789c86">G43</text>
<text x="427.5" y="556.04" font-size="7.6" text-anchor="middle" fill="#3a3a3a">A50</text>
<text x="427.5" y="588.16" font-size="7.8" text-anchor="middle" fill="#3a3a3a">A49</text>
<text x="427.5" y="597.36" font-size="7.8" text-anchor="middle" fill="#3a3a3a">A48</text>
<text x="427.5" y="619.76" font-size="7.8" text-anchor="middle" fill="#3a3a3a">A47</text>
<text x="427.5" y="628.56" font-size="7.8" text-anchor="middle" fill="#3a3a3a">A46</text>
<text x="427.5" y="653.26" font-size="7.8" text-anchor="middle" fill="#3a3a3a">A45</text>
<text x="427.5" y="662.51" font-size="7.8" text-anchor="middle" fill="#3a3a3a">A44</text>
<text x="427.5" y="685.56" font-size="7.8" text-anchor="middle" fill="#3a3a3a">A43</text>
<text x="427.5" y="694.51" font-size="7.8" text-anchor="middle" fill="#3a3a3a">A42</text>
<rect x="392.63" y="567.29" width="16.13" height="8.22" fill="#fff"/>
<text x="400.7" y="574.24" font-size="7.9" text-anchor="middle" fill="#789c86">G47</text>
<rect x="392.63" y="603.59" width="16.13" height="8.22" fill="#fff"/>
<text x="400.7" y="610.54" font-size="7.9" text-anchor="middle" fill="#789c86">G46</text>
<rect x="386.63" y="635.69" width="16.13" height="8.22" fill="#fff"/>
<text x="394.7" y="642.64" font-size="7.9" text-anchor="middle" fill="#789c86">G45</text>
<rect x="392.13" y="669.49" width="16.13" height="8.22" fill="#fff"/>
<text x="400.2" y="676.44" font-size="7.9" text-anchor="middle" fill="#789c86">G44</text>
<text transform="translate(524.6 538) rotate(90)" x="0" y="2.02" font-size="5.6" text-anchor="middle" fill="#3a3a3a">A51</text>
<text transform="translate(539.8 537.5) rotate(90)" x="0" y="2.02" font-size="5.6" text-anchor="middle" fill="#3a3a3a">A52</text>
<rect x="511.5" y="395.5" width="23.5" height="7.4" fill="#fbfbfb" stroke="#9a9a9a" stroke-width="0.7"/><text x="523.25" y="401" font-size="5.0" text-anchor="middle" fill="#555" textLength="21.1" lengthAdjust="spacingAndGlyphs">A51-059</text>
<rect x="511.5" y="438.5" width="23.5" height="7.4" fill="#fbfbfb" stroke="#9a9a9a" stroke-width="0.7"/><text x="523.25" y="444" font-size="5.0" text-anchor="middle" fill="#555" textLength="21.1" lengthAdjust="spacingAndGlyphs">A51-050</text>
<rect x="511.5" y="481.3" width="23.5" height="7.4" fill="#fbfbfb" stroke="#9a9a9a" stroke-width="0.7"/><text x="523.25" y="486.8" font-size="5.0" text-anchor="middle" fill="#555" textLength="21.1" lengthAdjust="spacingAndGlyphs">A51-041</text>
<rect x="511.5" y="518.4" width="23.5" height="7.4" fill="#fbfbfb" stroke="#9a9a9a" stroke-width="0.7"/><text x="523.25" y="523.9" font-size="5.0" text-anchor="middle" fill="#555" textLength="21.1" lengthAdjust="spacingAndGlyphs">A51-032</text>
<rect x="511.5" y="555.6" width="23.5" height="7.4" fill="#fbfbfb" stroke="#9a9a9a" stroke-width="0.7"/><text x="523.25" y="561.1" font-size="5.0" text-anchor="middle" fill="#555" textLength="21.1" lengthAdjust="spacingAndGlyphs">A51-029</text>
<rect x="511.5" y="609.9" width="23.5" height="7.4" fill="#fbfbfb" stroke="#9a9a9a" stroke-width="0.7"/><text x="523.25" y="615.4" font-size="5.0" text-anchor="middle" fill="#555" textLength="21.1" lengthAdjust="spacingAndGlyphs">A51-018</text>
<rect x="511.5" y="625.8" width="23.5" height="7.4" fill="#fbfbfb" stroke="#9a9a9a" stroke-width="0.7"/><text x="523.25" y="631.3" font-size="5.0" text-anchor="middle" fill="#555" textLength="21.1" lengthAdjust="spacingAndGlyphs">A51-011</text>
<rect x="511.5" y="675.4" width="23.5" height="7.4" fill="#fbfbfb" stroke="#9a9a9a" stroke-width="0.7"/><text x="523.25" y="680.9" font-size="5.0" text-anchor="middle" fill="#555" textLength="21.1" lengthAdjust="spacingAndGlyphs">A51-005</text>
<rect x="506.23" y="586.89" width="16.13" height="8.22" fill="#fff"/>
<text x="514.3" y="593.84" font-size="7.9" text-anchor="middle" fill="#789c86">G48</text>
<rect x="525.23" y="573.49" width="16.13" height="8.22" fill="#fff"/>
<text x="533.3" y="580.44" font-size="7.9" text-anchor="middle" fill="#789c86">G49</text>
<text x="376" y="740.46" font-size="7.8" text-anchor="middle" fill="#3a3a3a">A20</text>
<text x="376" y="748.71" font-size="7.8" text-anchor="middle" fill="#3a3a3a">A21</text>
<text x="376" y="771.11" font-size="7.8" text-anchor="middle" fill="#3a3a3a">A22</text>
<text x="376" y="779.51" font-size="7.8" text-anchor="middle" fill="#3a3a3a">A23</text>
<text x="376" y="801.51" font-size="7.8" text-anchor="middle" fill="#3a3a3a">A24</text>
<text x="376" y="810.16" font-size="7.8" text-anchor="middle" fill="#3a3a3a">A25</text>
<rect x="291.23" y="724.19" width="16.13" height="8.22" fill="#fff"/>
<text x="299.3" y="731.14" font-size="7.9" text-anchor="middle" fill="#789c86">G50</text>
<rect x="291.23" y="755.99" width="16.13" height="8.22" fill="#fff"/>
<text x="299.3" y="762.94" font-size="7.9" text-anchor="middle" fill="#789c86">G51</text>
<rect x="289.33" y="786.69" width="16.13" height="8.22" fill="#fff"/>
<text x="297.4" y="793.64" font-size="7.9" text-anchor="middle" fill="#789c86">G52</text>
<rect x="284.73" y="815.49" width="16.13" height="8.22" fill="#fff"/>
<text x="292.8" y="822.44" font-size="7.9" text-anchor="middle" fill="#789c86">G53</text>
<rect x="248.5" y="734.8" width="23.2" height="6.8" fill="#fbfbfb" stroke="#9a9a9a" stroke-width="0.7"/><text x="260.1" y="739.86" font-size="4.6" text-anchor="middle" fill="#555" textLength="20.8" lengthAdjust="spacingAndGlyphs">A20-015</text>
<text x="624.7" y="374.86" font-size="7.8" text-anchor="middle" fill="#3a3a3a">B10</text>
<text x="624.7" y="383.51" font-size="7.8" text-anchor="middle" fill="#3a3a3a">B11</text>
<text x="624.7" y="406.41" font-size="7.8" text-anchor="middle" fill="#3a3a3a">B12</text>
<text x="624.7" y="415.01" font-size="7.8" text-anchor="middle" fill="#3a3a3a">B13</text>
<text x="624.7" y="436.81" font-size="7.8" text-anchor="middle" fill="#3a3a3a">B14</text>
<text x="624.7" y="445.26" font-size="7.8" text-anchor="middle" fill="#3a3a3a">B15</text>
<text x="624.7" y="468.21" font-size="7.8" text-anchor="middle" fill="#3a3a3a">B16</text>
<text x="624.7" y="476.81" font-size="7.8" text-anchor="middle" fill="#3a3a3a">B17</text>
<text x="624.7" y="498.31" font-size="7.8" text-anchor="middle" fill="#3a3a3a">B18</text>
<text x="624.7" y="506.71" font-size="7.8" text-anchor="middle" fill="#3a3a3a">B19</text>
<text x="624.7" y="529.51" font-size="7.8" text-anchor="middle" fill="#3a3a3a">B20</text>
<rect x="595.93" y="355.59" width="16.13" height="8.22" fill="#fff"/>
<text x="604" y="362.54" font-size="7.9" text-anchor="middle" fill="#789c86">G58</text>
<rect x="585.93" y="390.39" width="16.13" height="8.22" fill="#fff"/>
<text x="594" y="397.34" font-size="7.9" text-anchor="middle" fill="#789c86">G59</text>
<rect x="587.53" y="421.29" width="16.13" height="8.22" fill="#fff"/>
<text x="595.6" y="428.24" font-size="7.9" text-anchor="middle" fill="#789c86">G60</text>
<rect x="587.53" y="450.29" width="16.13" height="8.22" fill="#fff"/>
<text x="595.6" y="457.24" font-size="7.9" text-anchor="middle" fill="#789c86">G61</text>
<rect x="585.53" y="481.69" width="16.13" height="8.22" fill="#fff"/>
<text x="593.6" y="488.64" font-size="7.9" text-anchor="middle" fill="#789c86">G62</text>
<rect x="587.53" y="511.99" width="16.13" height="8.22" fill="#fff"/>
<text x="595.6" y="518.94" font-size="7.9" text-anchor="middle" fill="#789c86">G63</text>
<rect x="569" y="377.6" width="23" height="6" fill="#fbfbfb" stroke="#9a9a9a" stroke-width="0.7"/><text x="580.5" y="382.26" font-size="4.6" text-anchor="middle" fill="#555" textLength="20.6" lengthAdjust="spacingAndGlyphs">B10-004</text>
<rect x="594.9" y="377.6" width="23.4" height="6" fill="#fbfbfb" stroke="#9a9a9a" stroke-width="0.7"/><text x="606.6" y="382.26" font-size="4.6" text-anchor="middle" fill="#555" textLength="21" lengthAdjust="spacingAndGlyphs">B10-009</text>
<rect x="649" y="377.6" width="22.7" height="6" fill="#fbfbfb" stroke="#9a9a9a" stroke-width="0.7"/><text x="660.35" y="382.26" font-size="4.6" text-anchor="middle" fill="#555" textLength="20.3" lengthAdjust="spacingAndGlyphs">B10-014</text>
<text x="779" y="541.51" font-size="7.8" text-anchor="middle" fill="#3a3a3a">B21</text>
<text x="671.8" y="580.91" font-size="7.8" text-anchor="middle" fill="#3a3a3a">B22</text>
<text x="671.8" y="589.31" font-size="7.8" text-anchor="middle" fill="#3a3a3a">B23</text>
<text x="885.8" y="580.41" font-size="7.8" text-anchor="middle" fill="#3a3a3a">B22</text>
<text x="885.8" y="588.76" font-size="7.8" text-anchor="middle" fill="#3a3a3a">B23</text>
<text x="671.8" y="611.21" font-size="7.8" text-anchor="middle" fill="#3a3a3a">B24</text>
<text x="671.8" y="619.61" font-size="7.8" text-anchor="middle" fill="#3a3a3a">B25</text>
<text x="885.8" y="610.71" font-size="7.8" text-anchor="middle" fill="#3a3a3a">B24</text>
<text x="885.8" y="619.16" font-size="7.8" text-anchor="middle" fill="#3a3a3a">B25</text>
<text x="671.8" y="641.66" font-size="7.8" text-anchor="middle" fill="#3a3a3a">B26</text>
<text x="671.8" y="650.06" font-size="7.8" text-anchor="middle" fill="#3a3a3a">B27</text>
<text x="885.8" y="640.86" font-size="7.8" text-anchor="middle" fill="#3a3a3a">B26</text>
<text x="885.8" y="649.41" font-size="7.8" text-anchor="middle" fill="#3a3a3a">B27</text>
<text x="671.8" y="671.56" font-size="7.8" text-anchor="middle" fill="#3a3a3a">B28</text>
<text x="671.8" y="679.71" font-size="7.8" text-anchor="middle" fill="#3a3a3a">B29</text>
<text x="885.8" y="671.46" font-size="7.8" text-anchor="middle" fill="#3a3a3a">B28</text>
<text x="885.8" y="679.66" font-size="7.8" text-anchor="middle" fill="#3a3a3a">B29</text>
<text x="671.8" y="740.06" font-size="7.8" text-anchor="middle" fill="#3a3a3a">B30</text>
<text x="671.8" y="748.66" font-size="7.8" text-anchor="middle" fill="#3a3a3a">B31</text>
<text x="885.8" y="739.56" font-size="7.8" text-anchor="middle" fill="#3a3a3a">B30</text>
<text x="885.8" y="748.01" font-size="7.8" text-anchor="middle" fill="#3a3a3a">B31</text>
<text x="671.8" y="770.96" font-size="7.8" text-anchor="middle" fill="#3a3a3a">B32</text>
<text x="671.8" y="779.21" font-size="7.8" text-anchor="middle" fill="#3a3a3a">B33</text>
<text x="885.8" y="770.16" font-size="7.8" text-anchor="middle" fill="#3a3a3a">B32</text>
<text x="885.8" y="778.56" font-size="7.8" text-anchor="middle" fill="#3a3a3a">B33</text>
<text x="671.8" y="801.36" font-size="7.8" text-anchor="middle" fill="#3a3a3a">B34</text>
<text x="671.8" y="809.66" font-size="7.8" text-anchor="middle" fill="#3a3a3a">B35</text>
<text x="885.8" y="800.61" font-size="7.8" text-anchor="middle" fill="#3a3a3a">B34</text>
<text x="885.8" y="809.06" font-size="7.8" text-anchor="middle" fill="#3a3a3a">B35</text>
<rect x="694.43" y="551.09" width="16.13" height="8.22" fill="#fff"/>
<text x="702.5" y="558.04" font-size="7.9" text-anchor="middle" fill="#789c86">G64</text>
<rect x="689.53" y="596.39" width="16.13" height="8.22" fill="#fff"/>
<text x="697.6" y="603.34" font-size="7.9" text-anchor="middle" fill="#789c86">G65</text>
<rect x="691.43" y="625.09" width="16.13" height="8.22" fill="#fff"/>
<text x="699.5" y="632.04" font-size="7.9" text-anchor="middle" fill="#789c86">G66</text>
<rect x="696.53" y="658.09" width="16.13" height="8.22" fill="#fff"/>
<text x="704.6" y="665.04" font-size="7.9" text-anchor="middle" fill="#789c86">G67</text>
<rect x="694.83" y="705.69" width="16.13" height="8.22" fill="#fff"/>
<text x="702.9" y="712.64" font-size="7.9" text-anchor="middle" fill="#789c86">G68</text>
<rect x="693.13" y="755.39" width="16.13" height="8.22" fill="#fff"/>
<text x="701.2" y="762.34" font-size="7.9" text-anchor="middle" fill="#789c86">G69</text>
<rect x="691.53" y="784.69" width="16.13" height="8.22" fill="#fff"/>
<text x="699.6" y="791.64" font-size="7.9" text-anchor="middle" fill="#789c86">G70</text>
<rect x="692.53" y="817.29" width="16.13" height="8.22" fill="#fff"/>
<text x="700.6" y="824.24" font-size="7.9" text-anchor="middle" fill="#789c86">G71</text>
<rect x="734.6" y="536.4" width="23.2" height="6.9" fill="#fbfbfb" stroke="#9a9a9a" stroke-width="0.7"/><text x="746.2" y="541.51" font-size="4.6" text-anchor="middle" fill="#555" textLength="20.8" lengthAdjust="spacingAndGlyphs">B21-093</text>
<rect x="728" y="574.5" width="23.2" height="6.8" fill="#fbfbfb" stroke="#9a9a9a" stroke-width="0.7"/><text x="739.6" y="579.56" font-size="4.6" text-anchor="middle" fill="#555" textLength="20.8" lengthAdjust="spacingAndGlyphs">B22-068</text>
<rect x="730" y="605.3" width="22" height="6.3" fill="#fbfbfb" stroke="#9a9a9a" stroke-width="0.7"/><text x="741" y="610.11" font-size="4.6" text-anchor="middle" fill="#555" textLength="19.6" lengthAdjust="spacingAndGlyphs">B24-045</text>
<rect x="730" y="664.6" width="22" height="6.4" fill="#fbfbfb" stroke="#9a9a9a" stroke-width="0.7"/><text x="741" y="669.46" font-size="4.6" text-anchor="middle" fill="#555" textLength="19.6" lengthAdjust="spacingAndGlyphs">B28-045</text>
<rect x="730" y="674.2" width="22" height="6.4" fill="#fbfbfb" stroke="#9a9a9a" stroke-width="0.7"/><text x="741" y="679.06" font-size="4.6" text-anchor="middle" fill="#555" textLength="19.6" lengthAdjust="spacingAndGlyphs">B29-045</text>
<rect x="730" y="733.6" width="22" height="6.8" fill="#fbfbfb" stroke="#9a9a9a" stroke-width="0.7"/><text x="741" y="738.66" font-size="4.6" text-anchor="middle" fill="#555" textLength="19.6" lengthAdjust="spacingAndGlyphs">B30-045</text>
<rect x="730" y="764.2" width="22" height="6.6" fill="#fbfbfb" stroke="#9a9a9a" stroke-width="0.7"/><text x="741" y="769.16" font-size="4.6" text-anchor="middle" fill="#555" textLength="19.6" lengthAdjust="spacingAndGlyphs">B32-045</text>
<rect x="804.4" y="574.5" width="23.4" height="6.8" fill="#fbfbfb" stroke="#9a9a9a" stroke-width="0.7"/><text x="816.1" y="579.56" font-size="4.6" text-anchor="middle" fill="#555" textLength="21" lengthAdjust="spacingAndGlyphs">B22-070</text>
<rect x="804.4" y="633.8" width="23.6" height="7" fill="#fbfbfb" stroke="#9a9a9a" stroke-width="0.7"/><text x="816.2" y="638.96" font-size="4.6" text-anchor="middle" fill="#555" textLength="21.2" lengthAdjust="spacingAndGlyphs">B26-046</text>
<rect x="804.4" y="673.8" width="23.6" height="6.6" fill="#fbfbfb" stroke="#9a9a9a" stroke-width="0.7"/><text x="816.2" y="678.76" font-size="4.6" text-anchor="middle" fill="#555" textLength="21.2" lengthAdjust="spacingAndGlyphs">B29-046</text>
<rect x="804.4" y="732.8" width="23.6" height="7" fill="#fbfbfb" stroke="#9a9a9a" stroke-width="0.7"/><text x="816.2" y="737.96" font-size="4.6" text-anchor="middle" fill="#555" textLength="21.2" lengthAdjust="spacingAndGlyphs">B30-046</text>
<rect x="804.4" y="793.8" width="23.6" height="6.8" fill="#fbfbfb" stroke="#9a9a9a" stroke-width="0.7"/><text x="816.2" y="798.86" font-size="4.6" text-anchor="middle" fill="#555" textLength="21.2" lengthAdjust="spacingAndGlyphs">B34-046</text>
<rect x="786.5" y="551.1" width="24.8" height="7.5" fill="#fbfbfb" stroke="#9a9a9a" stroke-width="0.7"/><text x="798.9" y="556.51" font-size="4.6" text-anchor="middle" fill="#555" textLength="22.4" lengthAdjust="spacingAndGlyphs">CA8-394</text>
<rect x="798.4" y="696.1" width="25.5" height="8" fill="#fbfbfb" stroke="#9a9a9a" stroke-width="0.7"/><text x="811.15" y="701.76" font-size="4.6" text-anchor="middle" fill="#555" textLength="23.1" lengthAdjust="spacingAndGlyphs">CA8-399</text>
<text x="784" y="728" font-size="4.6" text-anchor="middle" fill="#666">CA8</text>
<circle cx="-182.71" cy="120.5" r="6" fill="#fff" stroke="#6262a8" stroke-width="1.28"/><text x="-182.71" y="123.16" font-size="7.4" text-anchor="middle" fill="#454545">1</text>
<circle cx="-153.82" cy="120.5" r="6" fill="#fff" stroke="#6262a8" stroke-width="1.28"/><text x="-153.82" y="123.16" font-size="7.4" text-anchor="middle" fill="#454545">3</text>
<circle cx="-153.82" cy="327.3" r="6" fill="#fff" stroke="#6262a8" stroke-width="1.28"/><text x="-153.82" y="329.96" font-size="7.4" text-anchor="middle" fill="#454545">2</text>
<circle cx="-124.93" cy="120.5" r="6" fill="#fff" stroke="#6262a8" stroke-width="1.28"/><text x="-124.93" y="123.16" font-size="7.4" text-anchor="middle" fill="#454545">5</text>
<circle cx="-124.93" cy="327.3" r="6" fill="#fff" stroke="#6262a8" stroke-width="1.28"/><text x="-124.93" y="329.96" font-size="7.4" text-anchor="middle" fill="#454545">4</text>
<circle cx="-96.04" cy="120.5" r="6" fill="#fff" stroke="#6262a8" stroke-width="1.28"/><text x="-96.04" y="123.16" font-size="7.4" text-anchor="middle" fill="#454545">7</text>
<circle cx="-96.04" cy="327.3" r="6" fill="#fff" stroke="#6262a8" stroke-width="1.28"/><text x="-96.04" y="329.96" font-size="7.4" text-anchor="middle" fill="#454545">6</text>
<circle cx="-67.15" cy="120.5" r="6" fill="#fff" stroke="#6262a8" stroke-width="1.28"/><text x="-67.15" y="123.16" font-size="7.4" text-anchor="middle" fill="#454545">9</text>
<circle cx="-67.15" cy="327.3" r="6" fill="#fff" stroke="#6262a8" stroke-width="1.28"/><text x="-67.15" y="329.96" font-size="7.4" text-anchor="middle" fill="#454545">8</text>
<circle cx="-38.26" cy="120.5" r="6" fill="#fff" stroke="#6262a8" stroke-width="1.28"/><text x="-38.26" y="123.16" font-size="7.4" text-anchor="middle" fill="#454545">11</text>
<circle cx="-38.26" cy="327.3" r="6" fill="#fff" stroke="#6262a8" stroke-width="1.28"/><text x="-38.26" y="329.96" font-size="7.4" text-anchor="middle" fill="#454545">10</text>
<circle cx="-9.37" cy="120.5" r="6" fill="#fff" stroke="#6262a8" stroke-width="1.28"/><text x="-9.37" y="123.16" font-size="7.4" text-anchor="middle" fill="#454545">13</text>
<circle cx="-9.37" cy="327.3" r="6" fill="#fff" stroke="#6262a8" stroke-width="1.28"/><text x="-9.37" y="329.96" font-size="7.4" text-anchor="middle" fill="#454545">12</text>
<circle cx="19.52" cy="120.5" r="6" fill="#fff" stroke="#6262a8" stroke-width="1.28"/><text x="19.52" y="123.16" font-size="7.4" text-anchor="middle" fill="#454545">15</text>
<circle cx="19.52" cy="327.3" r="6" fill="#fff" stroke="#6262a8" stroke-width="1.28"/><text x="19.52" y="329.96" font-size="7.4" text-anchor="middle" fill="#454545">14</text>
<circle cx="48.41" cy="120.5" r="6" fill="#fff" stroke="#6262a8" stroke-width="1.28"/><text x="48.41" y="123.16" font-size="7.4" text-anchor="middle" fill="#454545">17</text>
<circle cx="48.41" cy="327.3" r="6" fill="#fff" stroke="#6262a8" stroke-width="1.28"/><text x="48.41" y="329.96" font-size="7.4" text-anchor="middle" fill="#454545">16</text>
<circle cx="77.3" cy="120.5" r="6" fill="#fff" stroke="#6262a8" stroke-width="1.28"/><text x="77.3" y="123.16" font-size="7.4" text-anchor="middle" fill="#454545">19</text>
<circle cx="77.3" cy="327.3" r="6" fill="#fff" stroke="#6262a8" stroke-width="1.28"/><text x="77.3" y="329.96" font-size="7.4" text-anchor="middle" fill="#454545">18</text>
<circle cx="106.19" cy="120.5" r="6" fill="#fff" stroke="#6262a8" stroke-width="1.28"/><text x="106.19" y="123.16" font-size="7.4" text-anchor="middle" fill="#454545">21</text>
<circle cx="106.19" cy="327.3" r="6" fill="#fff" stroke="#6262a8" stroke-width="1.28"/><text x="106.19" y="329.96" font-size="7.4" text-anchor="middle" fill="#454545">20</text>
<circle cx="135.08" cy="120.5" r="6" fill="#fff" stroke="#6262a8" stroke-width="1.28"/><text x="135.08" y="123.16" font-size="7.4" text-anchor="middle" fill="#454545">23</text>
<circle cx="135.08" cy="327.3" r="6" fill="#fff" stroke="#6262a8" stroke-width="1.28"/><text x="135.08" y="329.96" font-size="7.4" text-anchor="middle" fill="#454545">22</text>
<circle cx="163.97" cy="120.5" r="6" fill="#fff" stroke="#6262a8" stroke-width="1.28"/><text x="163.97" y="123.16" font-size="7.4" text-anchor="middle" fill="#454545">25</text>
<circle cx="163.97" cy="327.3" r="6" fill="#fff" stroke="#6262a8" stroke-width="1.28"/><text x="163.97" y="329.96" font-size="7.4" text-anchor="middle" fill="#454545">24</text>
<circle cx="192.86" cy="120.5" r="6" fill="#fff" stroke="#6262a8" stroke-width="1.28"/><text x="192.86" y="123.16" font-size="7.4" text-anchor="middle" fill="#454545">27</text>
<circle cx="192.86" cy="327.3" r="6" fill="#fff" stroke="#6262a8" stroke-width="1.28"/><text x="192.86" y="329.96" font-size="7.4" text-anchor="middle" fill="#454545">26</text>
<circle cx="221.75" cy="120.5" r="6" fill="#fff" stroke="#6262a8" stroke-width="1.28"/><text x="221.75" y="123.16" font-size="7.4" text-anchor="middle" fill="#454545">29</text>
<circle cx="221.75" cy="327.3" r="6" fill="#fff" stroke="#6262a8" stroke-width="1.28"/><text x="221.75" y="329.96" font-size="7.4" text-anchor="middle" fill="#454545">28</text>
<circle cx="250.64" cy="120.5" r="6" fill="#fff" stroke="#6262a8" stroke-width="1.28"/><text x="250.64" y="123.16" font-size="7.4" text-anchor="middle" fill="#454545">31</text>
<circle cx="250.64" cy="327.3" r="6" fill="#fff" stroke="#6262a8" stroke-width="1.28"/><text x="250.64" y="329.96" font-size="7.4" text-anchor="middle" fill="#454545">30</text>
<circle cx="279.53" cy="120.5" r="6" fill="#fff" stroke="#6262a8" stroke-width="1.28"/><text x="279.53" y="123.16" font-size="7.4" text-anchor="middle" fill="#454545">33</text>
<circle cx="279.53" cy="327.3" r="6" fill="#fff" stroke="#6262a8" stroke-width="1.28"/><text x="279.53" y="329.96" font-size="7.4" text-anchor="middle" fill="#454545">32</text>
<circle cx="308.42" cy="120.5" r="6" fill="#fff" stroke="#6262a8" stroke-width="1.28"/><text x="308.42" y="123.16" font-size="7.4" text-anchor="middle" fill="#454545">35</text>
<circle cx="308.42" cy="327.3" r="6" fill="#fff" stroke="#6262a8" stroke-width="1.28"/><text x="308.42" y="329.96" font-size="7.4" text-anchor="middle" fill="#454545">34</text>
<circle cx="337.31" cy="120.5" r="6" fill="#fff" stroke="#6262a8" stroke-width="1.28"/><text x="337.31" y="123.16" font-size="7.4" text-anchor="middle" fill="#454545">37</text>
<circle cx="337.31" cy="327.3" r="6" fill="#fff" stroke="#6262a8" stroke-width="1.28"/><text x="337.31" y="329.96" font-size="7.4" text-anchor="middle" fill="#454545">36</text>
<circle cx="366.2" cy="120.5" r="6" fill="#fff" stroke="#6262a8" stroke-width="1.28"/><text x="366.2" y="123.16" font-size="7.4" text-anchor="middle" fill="#454545">39</text>
<circle cx="366.2" cy="327.3" r="6" fill="#fff" stroke="#6262a8" stroke-width="1.28"/><text x="366.2" y="329.96" font-size="7.4" text-anchor="middle" fill="#454545">38</text>
<circle cx="395.09" cy="120.5" r="6" fill="#fff" stroke="#6262a8" stroke-width="1.28"/><text x="395.09" y="123.16" font-size="7.4" text-anchor="middle" fill="#454545">41</text>
<circle cx="395.09" cy="327.3" r="6" fill="#fff" stroke="#6262a8" stroke-width="1.28"/><text x="395.09" y="329.96" font-size="7.4" text-anchor="middle" fill="#454545">40</text>
<circle cx="423.98" cy="120.5" r="6" fill="#fff" stroke="#6262a8" stroke-width="1.28"/><text x="423.98" y="123.16" font-size="7.4" text-anchor="middle" fill="#454545">43</text>
<circle cx="423.98" cy="327.3" r="6" fill="#fff" stroke="#6262a8" stroke-width="1.28"/><text x="423.98" y="329.96" font-size="7.4" text-anchor="middle" fill="#454545">42</text>
<circle cx="452.87" cy="120.5" r="6" fill="#fff" stroke="#6262a8" stroke-width="1.28"/><text x="452.87" y="123.16" font-size="7.4" text-anchor="middle" fill="#454545">45</text>
<circle cx="452.87" cy="327.3" r="6" fill="#fff" stroke="#6262a8" stroke-width="1.28"/><text x="452.87" y="329.96" font-size="7.4" text-anchor="middle" fill="#454545">44</text>
<circle cx="481.76" cy="120.5" r="6" fill="#fff" stroke="#6262a8" stroke-width="1.28"/><text x="481.76" y="123.16" font-size="7.4" text-anchor="middle" fill="#454545">47</text>
<circle cx="481.76" cy="327.3" r="6" fill="#fff" stroke="#6262a8" stroke-width="1.28"/><text x="481.76" y="329.96" font-size="7.4" text-anchor="middle" fill="#454545">46</text>
<circle cx="510.65" cy="120.5" r="6" fill="#fff" stroke="#6262a8" stroke-width="1.28"/><text x="510.65" y="123.16" font-size="7.4" text-anchor="middle" fill="#454545">49</text>
<circle cx="510.65" cy="327.3" r="6" fill="#fff" stroke="#6262a8" stroke-width="1.28"/><text x="510.65" y="329.96" font-size="7.4" text-anchor="middle" fill="#454545">48</text>
<circle cx="537.7" cy="120.5" r="6" fill="#fff" stroke="#6262a8" stroke-width="1.28"/><text x="537.7" y="123.16" font-size="7.4" text-anchor="middle" fill="#454545">51</text>
<circle cx="537.7" cy="327.3" r="6" fill="#fff" stroke="#6262a8" stroke-width="1.28"/><text x="537.7" y="329.96" font-size="7.4" text-anchor="middle" fill="#454545">50</text>
<circle cx="558.9" cy="327.3" r="6" fill="#fff" stroke="#6262a8" stroke-width="1.28"/><text x="558.9" y="329.96" font-size="7.4" text-anchor="middle" fill="#454545">52</text>
<circle cx="588.8" cy="327.3" r="6" fill="#fff" stroke="#6262a8" stroke-width="1.28"/><text x="588.8" y="329.96" font-size="7.4" text-anchor="middle" fill="#454545">54</text>
<circle cx="617.8" cy="327.3" r="6" fill="#fff" stroke="#6262a8" stroke-width="1.28"/><text x="617.8" y="329.96" font-size="7.4" text-anchor="middle" fill="#454545">56</text>
<circle cx="647.7" cy="327.3" r="6" fill="#fff" stroke="#6262a8" stroke-width="1.28"/><text x="647.7" y="329.96" font-size="7.4" text-anchor="middle" fill="#454545">58</text>
<circle cx="680.9" cy="327.3" r="6" fill="#fff" stroke="#6262a8" stroke-width="1.28"/><text x="680.9" y="329.96" font-size="7.4" text-anchor="middle" fill="#454545">60</text>
<circle cx="33" cy="366.3" r="6" fill="#fff" stroke="#6262a8" stroke-width="1.28"/><text x="33" y="368.96" font-size="7.4" text-anchor="middle" fill="#454545">62</text>
<circle cx="490.5" cy="366.3" r="6" fill="#fff" stroke="#6262a8" stroke-width="1.28"/><text x="490.5" y="368.96" font-size="7.4" text-anchor="middle" fill="#454545">63</text>
<circle cx="33" cy="409" r="6" fill="#fff" stroke="#6262a8" stroke-width="1.28"/><text x="33" y="411.66" font-size="7.4" text-anchor="middle" fill="#454545">64</text>
<circle cx="490.5" cy="409" r="6" fill="#fff" stroke="#6262a8" stroke-width="1.28"/><text x="490.5" y="411.66" font-size="7.4" text-anchor="middle" fill="#454545">65</text>
<circle cx="33" cy="451.7" r="6" fill="#fff" stroke="#6262a8" stroke-width="1.28"/><text x="33" y="454.36" font-size="7.4" text-anchor="middle" fill="#454545">66</text>
<circle cx="490.5" cy="451.7" r="6" fill="#fff" stroke="#6262a8" stroke-width="1.28"/><text x="490.5" y="454.36" font-size="7.4" text-anchor="middle" fill="#454545">67</text>
<circle cx="33" cy="494.7" r="6" fill="#fff" stroke="#6262a8" stroke-width="1.28"/><text x="33" y="497.36" font-size="7.4" text-anchor="middle" fill="#454545">68</text>
<circle cx="490.5" cy="494.7" r="6" fill="#fff" stroke="#6262a8" stroke-width="1.28"/><text x="490.5" y="497.36" font-size="7.4" text-anchor="middle" fill="#454545">69</text>
<circle cx="33" cy="532.8" r="6" fill="#fff" stroke="#6262a8" stroke-width="1.28"/><text x="33" y="535.46" font-size="7.4" text-anchor="middle" fill="#454545">70</text>
<circle cx="490.5" cy="532.8" r="6" fill="#fff" stroke="#6262a8" stroke-width="1.28"/><text x="490.5" y="535.46" font-size="7.4" text-anchor="middle" fill="#454545">71</text>
<circle cx="248.7" cy="522" r="5.6" fill="#fff" stroke="#a86464" stroke-width="1.28"/><text x="248.7" y="524.66" font-size="7.4" text-anchor="middle" fill="#454545">84</text>
<circle cx="33" cy="569.5" r="6" fill="#fff" stroke="#6262a8" stroke-width="1.28"/><text x="33" y="572.16" font-size="7.4" text-anchor="middle" fill="#454545">72</text>
<circle cx="243.7" cy="567.3" r="6" fill="#fff" stroke="#6262a8" stroke-width="1.28"/><text x="243.7" y="569.96" font-size="7.4" text-anchor="middle" fill="#454545">73</text>
<circle cx="33" cy="603.3" r="6" fill="#fff" stroke="#6262a8" stroke-width="1.28"/><text x="33" y="605.96" font-size="7.4" text-anchor="middle" fill="#454545">74</text>
<circle cx="243.7" cy="601.3" r="6" fill="#fff" stroke="#6262a8" stroke-width="1.28"/><text x="243.7" y="603.96" font-size="7.4" text-anchor="middle" fill="#454545">75</text>
<circle cx="33" cy="636" r="6" fill="#fff" stroke="#6262a8" stroke-width="1.28"/><text x="33" y="638.66" font-size="7.4" text-anchor="middle" fill="#454545">76</text>
<circle cx="243.7" cy="636" r="6" fill="#fff" stroke="#6262a8" stroke-width="1.28"/><text x="243.7" y="638.66" font-size="7.4" text-anchor="middle" fill="#454545">77</text>
<circle cx="33" cy="668.8" r="6" fill="#fff" stroke="#6262a8" stroke-width="1.28"/><text x="33" y="671.46" font-size="7.4" text-anchor="middle" fill="#454545">78</text>
<circle cx="243.7" cy="668.2" r="6" fill="#fff" stroke="#6262a8" stroke-width="1.28"/><text x="243.7" y="670.86" font-size="7.4" text-anchor="middle" fill="#454545">79</text>
<circle cx="33" cy="702.5" r="6" fill="#fff" stroke="#6262a8" stroke-width="1.28"/><text x="33" y="705.16" font-size="7.4" text-anchor="middle" fill="#454545">80</text>
<circle cx="243.7" cy="702.5" r="6" fill="#fff" stroke="#6262a8" stroke-width="1.28"/><text x="243.7" y="705.16" font-size="7.4" text-anchor="middle" fill="#454545">81</text>
<circle cx="257.9" cy="538.5" r="6" fill="#fff" stroke="#6262a8" stroke-width="1.28"/><text x="257.9" y="541.16" font-size="7.4" text-anchor="middle" fill="#454545">82</text>
<circle cx="279.4" cy="559.1" r="6" fill="#fff" stroke="#6262a8" stroke-width="1.28"/><text x="279.4" y="561.76" font-size="7.4" text-anchor="middle" fill="#454545">86</text>
<circle cx="258.1" cy="702.5" r="6" fill="#fff" stroke="#6262a8" stroke-width="1.28"/><text x="258.1" y="705.16" font-size="7.4" text-anchor="middle" fill="#454545">83</text>
<circle cx="279.4" cy="702.5" r="6" fill="#fff" stroke="#6262a8" stroke-width="1.28"/><text x="279.4" y="705.16" font-size="7.4" text-anchor="middle" fill="#454545">85</text>
<circle cx="367.6" cy="569.4" r="6" fill="#fff" stroke="#6262a8" stroke-width="1.28"/><text x="367.6" y="572.06" font-size="7.4" text-anchor="middle" fill="#454545">93</text>
<circle cx="490.3" cy="569.4" r="6" fill="#fff" stroke="#6262a8" stroke-width="1.28"/><text x="490.3" y="572.06" font-size="7.4" text-anchor="middle" fill="#454545">94</text>
<circle cx="367.6" cy="606.3" r="6" fill="#fff" stroke="#6262a8" stroke-width="1.28"/><text x="367.6" y="608.96" font-size="7.4" text-anchor="middle" fill="#454545">91</text>
<circle cx="490.3" cy="606.3" r="6" fill="#fff" stroke="#6262a8" stroke-width="1.28"/><text x="490.3" y="608.96" font-size="7.4" text-anchor="middle" fill="#454545">92</text>
<circle cx="367.6" cy="638.1" r="6" fill="#fff" stroke="#6262a8" stroke-width="1.28"/><text x="367.6" y="640.76" font-size="7.4" text-anchor="middle" fill="#454545">89</text>
<circle cx="490.3" cy="638.1" r="6" fill="#fff" stroke="#6262a8" stroke-width="1.28"/><text x="490.3" y="640.76" font-size="7.4" text-anchor="middle" fill="#454545">90</text>
<circle cx="367.6" cy="671.5" r="6" fill="#fff" stroke="#6262a8" stroke-width="1.28"/><text x="367.6" y="674.16" font-size="7.4" text-anchor="middle" fill="#454545">87</text>
<circle cx="490.3" cy="671.5" r="6" fill="#fff" stroke="#6262a8" stroke-width="1.28"/><text x="490.3" y="674.16" font-size="7.4" text-anchor="middle" fill="#454545">88</text>
<circle cx="512.2" cy="366.4" r="6" fill="#fff" stroke="#6262a8" stroke-width="1.28"/><text x="512.2" y="369.06" font-size="7.4" text-anchor="middle" fill="#454545">96</text>
<circle cx="533.3" cy="366.4" r="6" fill="#fff" stroke="#6262a8" stroke-width="1.28"/><text x="533.3" y="369.06" font-size="7.4" text-anchor="middle" fill="#454545">98</text>
<circle cx="511.4" cy="706.8" r="6" fill="#fff" stroke="#6262a8" stroke-width="1.28"/><text x="511.4" y="709.46" font-size="7.4" text-anchor="middle" fill="#454545">95</text>
<circle cx="533.2" cy="706.8" r="6" fill="#fff" stroke="#6262a8" stroke-width="1.28"/><text x="533.2" y="709.46" font-size="7.4" text-anchor="middle" fill="#454545">97</text>
<circle cx="519.8" cy="725.5" r="6" fill="#fff" stroke="#6262a8" stroke-width="1.28"/><text x="519.8" y="728.16" font-size="7.4" text-anchor="middle" fill="#454545">108</text>
<circle cx="516.2" cy="408.9" r="5.6" fill="#fff" stroke="#a86464" stroke-width="1.28"/><text x="516.2" y="411.2" font-size="6.4" text-anchor="middle" fill="#454545">106</text>
<circle cx="516.2" cy="451.7" r="5.6" fill="#fff" stroke="#a86464" stroke-width="1.28"/><text x="516.2" y="454" font-size="6.4" text-anchor="middle" fill="#454545">105</text>
<circle cx="516.2" cy="494.7" r="5.6" fill="#fff" stroke="#a86464" stroke-width="1.28"/><text x="516.2" y="497" font-size="6.4" text-anchor="middle" fill="#454545">104</text>
<circle cx="516.2" cy="532.8" r="5.6" fill="#fff" stroke="#a86464" stroke-width="1.28"/><text x="516.2" y="535.1" font-size="6.4" text-anchor="middle" fill="#454545">103</text>
<circle cx="516.2" cy="569.4" r="5.6" fill="#fff" stroke="#a86464" stroke-width="1.28"/><text x="516.2" y="571.7" font-size="6.4" text-anchor="middle" fill="#454545">102</text>
<circle cx="516.2" cy="606.3" r="5.6" fill="#fff" stroke="#a86464" stroke-width="1.28"/><text x="516.2" y="608.6" font-size="6.4" text-anchor="middle" fill="#454545">101</text>
<circle cx="516.2" cy="638.1" r="5.6" fill="#fff" stroke="#a86464" stroke-width="1.28"/><text x="516.2" y="640.4" font-size="6.4" text-anchor="middle" fill="#454545">100</text>
<circle cx="516.2" cy="671.5" r="5.6" fill="#fff" stroke="#a86464" stroke-width="1.28"/><text x="516.2" y="673.8" font-size="6.4" text-anchor="middle" fill="#454545">99</text>
<circle cx="229.2" cy="725.5" r="6" fill="#fff" stroke="#6262a8" stroke-width="1.28"/><text x="229.2" y="728.16" font-size="7.4" text-anchor="middle" fill="#454545">107</text>
<circle cx="520.2" cy="725.5" r="6" fill="#fff" stroke="#6262a8" stroke-width="1.28"/><text x="520.2" y="728.16" font-size="7.4" text-anchor="middle" fill="#454545">108</text>
<circle cx="229.2" cy="756.9" r="6" fill="#fff" stroke="#6262a8" stroke-width="1.28"/><text x="229.2" y="759.56" font-size="7.4" text-anchor="middle" fill="#454545">110</text>
<circle cx="520.2" cy="756.9" r="6" fill="#fff" stroke="#6262a8" stroke-width="1.28"/><text x="520.2" y="759.56" font-size="7.4" text-anchor="middle" fill="#454545">111</text>
<circle cx="229.2" cy="787.7" r="6" fill="#fff" stroke="#6262a8" stroke-width="1.28"/><text x="229.2" y="790.36" font-size="7.4" text-anchor="middle" fill="#454545">112</text>
<circle cx="520.2" cy="787.7" r="6" fill="#fff" stroke="#6262a8" stroke-width="1.28"/><text x="520.2" y="790.36" font-size="7.4" text-anchor="middle" fill="#454545">113</text>
<circle cx="229.2" cy="818.1" r="6" fill="#fff" stroke="#6262a8" stroke-width="1.28"/><text x="229.2" y="820.76" font-size="7.4" text-anchor="middle" fill="#454545">114</text>
<circle cx="520.2" cy="818.1" r="6" fill="#fff" stroke="#6262a8" stroke-width="1.28"/><text x="520.2" y="820.76" font-size="7.4" text-anchor="middle" fill="#454545">115</text>
<circle cx="278.9" cy="737.6" r="5.6" fill="#fff" stroke="#a86464" stroke-width="1.28"/><text x="278.9" y="739.83" font-size="6.2" text-anchor="middle" fill="#454545">109</text>
<circle cx="532.5" cy="818.1" r="6" fill="#fff" stroke="#6262a8" stroke-width="1.28"/><text x="532.5" y="820.33" font-size="6.2" text-anchor="middle" fill="#454545">223</text>
<circle cx="569" cy="358.4" r="6" fill="#fff" stroke="#6262a8" stroke-width="1.28"/><text x="569" y="360.78" font-size="6.6" text-anchor="middle" fill="#454545">124</text>
<circle cx="681" cy="358.4" r="6" fill="#fff" stroke="#6262a8" stroke-width="1.28"/><text x="681" y="360.78" font-size="6.6" text-anchor="middle" fill="#454545">125</text>
<circle cx="569" cy="391.5" r="6" fill="#fff" stroke="#6262a8" stroke-width="1.28"/><text x="569" y="393.88" font-size="6.6" text-anchor="middle" fill="#454545">129</text>
<circle cx="681" cy="391.5" r="6" fill="#fff" stroke="#6262a8" stroke-width="1.28"/><text x="681" y="393.88" font-size="6.6" text-anchor="middle" fill="#454545">130</text>
<circle cx="569" cy="423.4" r="6" fill="#fff" stroke="#6262a8" stroke-width="1.28"/><text x="569" y="425.78" font-size="6.6" text-anchor="middle" fill="#454545">131</text>
<circle cx="681" cy="423.4" r="6" fill="#fff" stroke="#6262a8" stroke-width="1.28"/><text x="681" y="425.78" font-size="6.6" text-anchor="middle" fill="#454545">132</text>
<circle cx="569" cy="454" r="6" fill="#fff" stroke="#6262a8" stroke-width="1.28"/><text x="569" y="456.38" font-size="6.6" text-anchor="middle" fill="#454545">133</text>
<circle cx="681" cy="454" r="6" fill="#fff" stroke="#6262a8" stroke-width="1.28"/><text x="681" y="456.38" font-size="6.6" text-anchor="middle" fill="#454545">134</text>
<circle cx="569" cy="484.7" r="6" fill="#fff" stroke="#6262a8" stroke-width="1.28"/><text x="569" y="487.08" font-size="6.6" text-anchor="middle" fill="#454545">135</text>
<circle cx="681" cy="484.7" r="6" fill="#fff" stroke="#6262a8" stroke-width="1.28"/><text x="681" y="487.08" font-size="6.6" text-anchor="middle" fill="#454545">136</text>
<circle cx="569" cy="514.8" r="6" fill="#fff" stroke="#6262a8" stroke-width="1.28"/><text x="569" y="517.18" font-size="6.6" text-anchor="middle" fill="#454545">137</text>
<circle cx="681" cy="514.8" r="6" fill="#fff" stroke="#6262a8" stroke-width="1.28"/><text x="681" y="517.18" font-size="6.6" text-anchor="middle" fill="#454545">138</text>
<circle cx="589" cy="371" r="5.8" fill="#fff" stroke="#a86464" stroke-width="1.28"/><text x="589" y="373.3" font-size="6.4" text-anchor="middle" fill="#454545">126</text>
<circle cx="618" cy="371" r="5.8" fill="#fff" stroke="#a86464" stroke-width="1.28"/><text x="618" y="373.3" font-size="6.4" text-anchor="middle" fill="#454545">127</text>
<circle cx="647.5" cy="371" r="5.8" fill="#fff" stroke="#a86464" stroke-width="1.28"/><text x="647.5" y="373.3" font-size="6.4" text-anchor="middle" fill="#454545">128</text>
<circle cx="569" cy="554.4" r="6" fill="#fff" stroke="#6262a8" stroke-width="1.28"/><text x="569" y="556.78" font-size="6.6" text-anchor="middle" fill="#454545">139</text>
<circle cx="569" cy="599.7" r="6" fill="#fff" stroke="#6262a8" stroke-width="1.28"/><text x="569" y="602.08" font-size="6.6" text-anchor="middle" fill="#454545">145</text>
<circle cx="569" cy="628.9" r="6" fill="#fff" stroke="#6262a8" stroke-width="1.28"/><text x="569" y="631.28" font-size="6.6" text-anchor="middle" fill="#454545">149</text>
<circle cx="569" cy="660.2" r="6" fill="#fff" stroke="#6262a8" stroke-width="1.28"/><text x="569" y="662.58" font-size="6.6" text-anchor="middle" fill="#454545">153</text>
<circle cx="569" cy="706.7" r="6" fill="#fff" stroke="#6262a8" stroke-width="1.28"/><text x="569" y="709.08" font-size="6.6" text-anchor="middle" fill="#454545">157</text>
<circle cx="569" cy="757.7" r="6" fill="#fff" stroke="#6262a8" stroke-width="1.28"/><text x="569" y="760.08" font-size="6.6" text-anchor="middle" fill="#454545">164</text>
<circle cx="569" cy="788.5" r="6" fill="#fff" stroke="#6262a8" stroke-width="1.28"/><text x="569" y="790.88" font-size="6.6" text-anchor="middle" fill="#454545">168</text>
<circle cx="569" cy="818.4" r="6" fill="#fff" stroke="#6262a8" stroke-width="1.28"/><text x="569" y="820.78" font-size="6.6" text-anchor="middle" fill="#454545">172</text>
<circle cx="778.4" cy="561.6" r="5.9" fill="#fff" stroke="#a86464" stroke-width="1.28"/><text x="778.4" y="563.9" font-size="6.4" text-anchor="middle" fill="#454545">142</text>
<circle cx="778.4" cy="593" r="5.9" fill="#fff" stroke="#a86464" stroke-width="1.28"/><text x="778.4" y="595.3" font-size="6.4" text-anchor="middle" fill="#454545">147</text>
<circle cx="778.4" cy="622.6" r="5.9" fill="#fff" stroke="#a86464" stroke-width="1.28"/><text x="778.4" y="624.9" font-size="6.4" text-anchor="middle" fill="#454545">151</text>
<circle cx="778.4" cy="654.4" r="5.9" fill="#fff" stroke="#a86464" stroke-width="1.28"/><text x="778.4" y="656.7" font-size="6.4" text-anchor="middle" fill="#454545">155</text>
<circle cx="778.4" cy="699.7" r="5.9" fill="#fff" stroke="#a86464" stroke-width="1.28"/><text x="778.4" y="702" font-size="6.4" text-anchor="middle" fill="#454545">161</text>
<circle cx="778.4" cy="751.9" r="5.9" fill="#fff" stroke="#a86464" stroke-width="1.28"/><text x="778.4" y="754.2" font-size="6.4" text-anchor="middle" fill="#454545">166</text>
<circle cx="778.4" cy="782.7" r="5.9" fill="#fff" stroke="#a86464" stroke-width="1.28"/><text x="778.4" y="785" font-size="6.4" text-anchor="middle" fill="#454545">170</text>
<circle cx="778.4" cy="812.5" r="5.9" fill="#fff" stroke="#a86464" stroke-width="1.28"/><text x="778.4" y="814.8" font-size="6.4" text-anchor="middle" fill="#454545">174</text>
<circle cx="760.3" cy="577.9" r="5.9" fill="#fff" stroke="#a86464" stroke-width="1.28"/><text x="760.3" y="580.2" font-size="6.4" text-anchor="middle" fill="#454545">143</text>
<circle cx="760.3" cy="606.7" r="5.9" fill="#fff" stroke="#a86464" stroke-width="1.28"/><text x="760.3" y="609" font-size="6.4" text-anchor="middle" fill="#454545">148</text>
<circle cx="760.3" cy="665.8" r="5.9" fill="#fff" stroke="#a86464" stroke-width="1.28"/><text x="760.3" y="668.1" font-size="6.4" text-anchor="middle" fill="#454545">156</text>
<circle cx="760.3" cy="676.8" r="5.9" fill="#fff" stroke="#a86464" stroke-width="1.28"/><text x="760.3" y="679.1" font-size="6.4" text-anchor="middle" fill="#454545">159</text>
<circle cx="760.3" cy="737" r="5.9" fill="#fff" stroke="#a86464" stroke-width="1.28"/><text x="760.3" y="739.3" font-size="6.4" text-anchor="middle" fill="#454545">162</text>
<circle cx="760.3" cy="767.2" r="5.9" fill="#fff" stroke="#a86464" stroke-width="1.28"/><text x="760.3" y="769.5" font-size="6.4" text-anchor="middle" fill="#454545">167</text>
<circle cx="760.3" cy="828.3" r="5.9" fill="#fff" stroke="#a86464" stroke-width="1.28"/><text x="760.3" y="830.6" font-size="6.4" text-anchor="middle" fill="#454545">175</text>
<circle cx="797.2" cy="577.9" r="5.9" fill="#fff" stroke="#a86464" stroke-width="1.28"/><text x="797.2" y="580.2" font-size="6.4" text-anchor="middle" fill="#454545">144</text>
<circle cx="797.2" cy="635.7" r="5.9" fill="#fff" stroke="#a86464" stroke-width="1.28"/><text x="797.2" y="638" font-size="6.4" text-anchor="middle" fill="#454545">152</text>
<circle cx="797.2" cy="676.8" r="5.9" fill="#fff" stroke="#a86464" stroke-width="1.28"/><text x="797.2" y="679.1" font-size="6.4" text-anchor="middle" fill="#454545">160</text>
<circle cx="797.2" cy="737" r="5.9" fill="#fff" stroke="#a86464" stroke-width="1.28"/><text x="797.2" y="739.3" font-size="6.4" text-anchor="middle" fill="#454545">163</text>
<circle cx="797.2" cy="796.6" r="5.9" fill="#fff" stroke="#a86464" stroke-width="1.28"/><text x="797.2" y="798.9" font-size="6.4" text-anchor="middle" fill="#454545">171</text>
<circle cx="765.3" cy="539.8" r="5.9" fill="#fff" stroke="#a86464" stroke-width="1.28"/><text x="765.3" y="542.1" font-size="6.4" text-anchor="middle" fill="#454545">141</text>
<rect x="566.97" y="227.85" width="39.05" height="11.53" fill="#fff" fill-opacity="0.92"/><text x="586.5" y="237.57" font-size="11.3" text-anchor="middle" fill="#a87878">Block 2</text>
<rect x="58.07" y="384.65" width="39.05" height="11.53" fill="#fff" fill-opacity="0.92"/><text x="77.6" y="394.37" font-size="11.3" text-anchor="middle" fill="#a87878">Block 3</text>
<rect x="79.47" y="578.65" width="39.05" height="11.53" fill="#fff" fill-opacity="0.92"/><text x="99" y="588.37" font-size="11.3" text-anchor="middle" fill="#a87878">Block 4</text>
<rect x="299.77" y="651.35" width="39.05" height="11.53" fill="#fff" fill-opacity="0.92"/><text x="319.3" y="661.07" font-size="11.3" text-anchor="middle" fill="#a87878">Block 5</text>
<rect x="375.17" y="648.75" width="39.05" height="11.53" fill="#fff" fill-opacity="0.92"/><text x="394.7" y="658.47" font-size="11.3" text-anchor="middle" fill="#a87878">Block 6</text>
<rect x="508.17" y="647.35" width="39.05" height="11.53" fill="#fff" fill-opacity="0.92"/><text x="527.7" y="657.07" font-size="11.3" text-anchor="middle" fill="#a87878">Block 7</text>
<rect x="245.17" y="766.55" width="39.05" height="11.53" fill="#fff" fill-opacity="0.92"/><text x="264.7" y="776.27" font-size="11.3" text-anchor="middle" fill="#a87878">Block 8</text>
<text x="19.2" y="820.3" font-size="14.5" fill="#222">rea</text>
<rect x="575.31" y="400.9" width="39.38" height="11.63" fill="#fff" fill-opacity="0.92"/><text x="595" y="410.7" font-size="11.4" text-anchor="middle" fill="#a87878">Block 9</text>
<rect x="585.02" y="539.7" width="44.95" height="11.42" fill="#fff" fill-opacity="0.92"/><text x="607.5" y="549.33" font-size="11.2" text-anchor="middle" fill="#a87878">Block 10</text>
</g>
</g></g>
</svg>
<svg id="inset" width="1179" height="856" viewBox="0 0 1179 856">
<defs>
<radialGradient id="fade">
<stop offset="0" stop-color="#fff" stop-opacity="1"/><stop offset="0.821" stop-color="#fff" stop-opacity="1"/><stop offset="0.854" stop-color="#fff" stop-opacity="0.85"/><stop offset="0.893" stop-color="#fff" stop-opacity="0.5"/><stop offset="0.929" stop-color="#fff" stop-opacity="0.25"/><stop offset="0.96" stop-color="#fff" stop-opacity="0.1"/><stop offset="1" stop-color="#fff" stop-opacity="0"/>
</radialGradient>
<mask id="mk" maskUnits="userSpaceOnUse" x="0" y="0" width="1179" height="856"><ellipse cx="938" cy="270" rx="230.72" ry="252" fill="url(#fade)"/></mask>
<clipPath id="ci"><rect x="-200" y="60" width="760" height="300"/></clipPath>
</defs>
<g mask="url(#mk)">
<rect x="700" y="20" width="479" height="500" fill="#fff"/>
<g transform="translate(996.52 -138.34) scale(1.838 1.846)" clip-path="url(#ci)">
<rect x="-176.94" y="134.7" width="8.68" height="181.6" fill="#e5e5e5" stroke="#0c0c0c" stroke-width="1.42"/>
<rect x="-168.26" y="134.7" width="8.68" height="181.6" fill="#e5e5e5" stroke="#0c0c0c" stroke-width="1.42"/>
<rect x="-148.06" y="134.7" width="8.68" height="181.6" fill="#e5e5e5" stroke="#0c0c0c" stroke-width="1.42"/>
<rect x="-139.38" y="134.7" width="8.68" height="181.6" fill="#e5e5e5" stroke="#0c0c0c" stroke-width="1.42"/>
<rect x="-119.17" y="134.7" width="8.68" height="181.6" fill="#e5e5e5" stroke="#0c0c0c" stroke-width="1.42"/>
<rect x="-110.49" y="134.7" width="8.68" height="181.6" fill="#e5e5e5" stroke="#0c0c0c" stroke-width="1.42"/>
<rect x="-90.28" y="134.7" width="8.68" height="181.6" fill="#e5e5e5" stroke="#0c0c0c" stroke-width="1.42"/>
<rect x="-81.59" y="134.7" width="8.68" height="181.6" fill="#e5e5e5" stroke="#0c0c0c" stroke-width="1.42"/>
<rect x="-61.38" y="134.7" width="8.68" height="181.6" fill="#e5e5e5" stroke="#0c0c0c" stroke-width="1.42"/>
<rect x="-52.7" y="134.7" width="8.68" height="181.6" fill="#e5e5e5" stroke="#0c0c0c" stroke-width="1.42"/>
<rect x="-32.5" y="134.7" width="8.68" height="181.6" fill="#e5e5e5" stroke="#0c0c0c" stroke-width="1.42"/>
<rect x="-23.82" y="134.7" width="8.68" height="181.6" fill="#e5e5e5" stroke="#0c0c0c" stroke-width="1.42"/>
<rect x="-3.61" y="134.7" width="8.68" height="181.6" fill="#e5e5e5" stroke="#0c0c0c" stroke-width="1.42"/>
<rect x="5.07" y="134.7" width="8.68" height="181.6" fill="#e5e5e5" stroke="#0c0c0c" stroke-width="1.42"/>
<rect x="25.28" y="134.7" width="8.68" height="181.6" fill="#e5e5e5" stroke="#0c0c0c" stroke-width="1.42"/>
<rect x="33.96" y="134.7" width="8.68" height="181.6" fill="#e5e5e5" stroke="#0c0c0c" stroke-width="1.42"/>
<rect x="54.17" y="134.7" width="8.68" height="181.6" fill="#e5e5e5" stroke="#0c0c0c" stroke-width="1.42"/>
<rect x="62.85" y="134.7" width="8.68" height="181.6" fill="#e5e5e5" stroke="#0c0c0c" stroke-width="1.42"/>
<rect x="83.06" y="134.7" width="8.68" height="181.6" fill="#e5e5e5" stroke="#0c0c0c" stroke-width="1.42"/>
<rect x="91.75" y="134.7" width="8.68" height="181.6" fill="#e5e5e5" stroke="#0c0c0c" stroke-width="1.42"/>
<rect x="111.95" y="134.7" width="8.68" height="181.6" fill="#e5e5e5" stroke="#0c0c0c" stroke-width="1.42"/>
<rect x="120.63" y="134.7" width="8.68" height="181.6" fill="#e5e5e5" stroke="#0c0c0c" stroke-width="1.42"/>
<rect x="140.84" y="134.7" width="8.68" height="181.6" fill="#e5e5e5" stroke="#0c0c0c" stroke-width="1.42"/>
<rect x="149.52" y="134.7" width="8.68" height="181.6" fill="#e5e5e5" stroke="#0c0c0c" stroke-width="1.42"/>
<rect x="169.74" y="134.7" width="8.68" height="181.6" fill="#e5e5e5" stroke="#0c0c0c" stroke-width="1.42"/>
<rect x="178.42" y="134.7" width="8.68" height="181.6" fill="#e5e5e5" stroke="#0c0c0c" stroke-width="1.42"/>
<rect x="198.62" y="134.7" width="8.68" height="181.6" fill="#e5e5e5" stroke="#0c0c0c" stroke-width="1.42"/>
<rect x="207.31" y="134.7" width="8.68" height="181.6" fill="#e5e5e5" stroke="#0c0c0c" stroke-width="1.42"/>
<rect x="227.51" y="134.7" width="8.68" height="181.6" fill="#e5e5e5" stroke="#0c0c0c" stroke-width="1.42"/>
<rect x="236.19" y="134.7" width="8.68" height="181.6" fill="#e5e5e5" stroke="#0c0c0c" stroke-width="1.42"/>
<rect x="256.41" y="134.7" width="8.68" height="181.6" fill="#e5e5e5" stroke="#0c0c0c" stroke-width="1.42"/>
<rect x="265.09" y="134.7" width="8.68" height="181.6" fill="#e5e5e5" stroke="#0c0c0c" stroke-width="1.42"/>
<rect x="285.3" y="134.7" width="8.68" height="181.6" fill="#e5e5e5" stroke="#0c0c0c" stroke-width="1.42"/>
<rect x="293.98" y="134.7" width="8.68" height="181.6" fill="#e5e5e5" stroke="#0c0c0c" stroke-width="1.42"/>
<rect x="314.19" y="134.7" width="8.68" height="181.6" fill="#e5e5e5" stroke="#0c0c0c" stroke-width="1.42"/>
<rect x="322.87" y="134.7" width="8.68" height="181.6" fill="#e5e5e5" stroke="#0c0c0c" stroke-width="1.42"/>
<rect x="343.07" y="134.7" width="8.68" height="181.6" fill="#e5e5e5" stroke="#0c0c0c" stroke-width="1.42"/>
<rect x="351.75" y="134.7" width="8.68" height="181.6" fill="#e5e5e5" stroke="#0c0c0c" stroke-width="1.42"/>
<rect x="371.96" y="134.7" width="8.68" height="181.6" fill="#e5e5e5" stroke="#0c0c0c" stroke-width="1.42"/>
<rect x="380.64" y="134.7" width="8.68" height="181.6" fill="#e5e5e5" stroke="#0c0c0c" stroke-width="1.42"/>
<rect x="400.86" y="134.7" width="8.68" height="181.6" fill="#e5e5e5" stroke="#0c0c0c" stroke-width="1.42"/>
<rect x="409.54" y="134.7" width="8.68" height="181.6" fill="#e5e5e5" stroke="#0c0c0c" stroke-width="1.42"/>
<rect x="429.75" y="134.7" width="8.68" height="181.6" fill="#e5e5e5" stroke="#0c0c0c" stroke-width="1.42"/>
<rect x="438.43" y="134.7" width="8.68" height="181.6" fill="#e5e5e5" stroke="#0c0c0c" stroke-width="1.42"/>
<rect x="458.64" y="134.7" width="8.68" height="181.6" fill="#e5e5e5" stroke="#0c0c0c" stroke-width="1.42"/>
<rect x="467.32" y="134.7" width="8.68" height="181.6" fill="#e5e5e5" stroke="#0c0c0c" stroke-width="1.42"/>
<rect x="487.53" y="134.7" width="8.68" height="181.6" fill="#e5e5e5" stroke="#0c0c0c" stroke-width="1.42"/>
<rect x="496.21" y="134.7" width="8.68" height="181.6" fill="#e5e5e5" stroke="#0c0c0c" stroke-width="1.42"/>
<rect x="515.5" y="134.7" width="8.68" height="181.6" fill="#e5e5e5" stroke="#0c0c0c" stroke-width="1.42"/>
<rect x="524.18" y="134.7" width="8.68" height="181.6" fill="#e5e5e5" stroke="#0c0c0c" stroke-width="1.42"/>
<rect x="-140" y="334.9" width="142.3" height="8.7" fill="#e5e5e5" stroke="#1c1c1c" stroke-width="1.35"/>
<rect x="14.3" y="334.9" width="507.5" height="8.7" fill="#e5e5e5" stroke="#1c1c1c" stroke-width="1.35"/>
<rect x="39.6" y="344.3" width="448.1" height="8.7" fill="#e5e5e5" stroke="#1c1c1c" stroke-width="1.35"/>
<line x1="-182.71" y1="127.2" x2="-182.71" y2="320.6" stroke="#66669c" stroke-width="0.9"/>
<polygon points="-182.71,320.6 -184.61,315.8 -182.71,316.66 -180.81,315.8" fill="#55558c"/>
<line x1="-174.61" y1="120.5" x2="-161.92" y2="120.5" stroke="#111" stroke-width="1.05"/>
<polygon points="-176.11,120.5 -172.21,118.5 -172.79,120.5 -172.21,122.5" fill="#111"/>
<polygon points="-160.42,120.5 -164.32,122.5 -163.73,120.5 -164.32,118.5" fill="#111"/>
<line x1="-153.82" y1="127.2" x2="-153.82" y2="320.6" stroke="#66669c" stroke-width="0.9"/>
<polygon points="-153.82,127.2 -151.92,132 -153.82,131.14 -155.72,132" fill="#55558c"/>
<line x1="-145.72" y1="120.5" x2="-133.03" y2="120.5" stroke="#111" stroke-width="1.05"/>
<polygon points="-147.22,120.5 -143.32,118.5 -143.91,120.5 -143.32,122.5" fill="#111"/>
<polygon points="-131.53,120.5 -135.43,122.5 -134.85,120.5 -135.43,118.5" fill="#111"/>
<line x1="-145.72" y1="327.3" x2="-133.03" y2="327.3" stroke="#111" stroke-width="1.05"/>
<polygon points="-147.22,327.3 -143.32,325.3 -143.91,327.3 -143.32,329.3" fill="#111"/>
<polygon points="-131.53,327.3 -135.43,329.3 -134.85,327.3 -135.43,325.3" fill="#111"/>
<line x1="-124.93" y1="127.2" x2="-124.93" y2="320.6" stroke="#66669c" stroke-width="0.9"/>
<polygon points="-124.93,320.6 -126.83,315.8 -124.93,316.66 -123.03,315.8" fill="#55558c"/>
<line x1="-116.83" y1="120.5" x2="-104.14" y2="120.5" stroke="#111" stroke-width="1.05"/>
<polygon points="-118.33,120.5 -114.43,118.5 -115.02,120.5 -114.43,122.5" fill="#111"/>
<polygon points="-102.64,120.5 -106.54,122.5 -105.95,120.5 -106.54,118.5" fill="#111"/>
<line x1="-116.83" y1="327.3" x2="-104.14" y2="327.3" stroke="#111" stroke-width="1.05"/>
<polygon points="-118.33,327.3 -114.43,325.3 -115.02,327.3 -114.43,329.3" fill="#111"/>
<polygon points="-102.64,327.3 -106.54,329.3 -105.95,327.3 -106.54,325.3" fill="#111"/>
<line x1="-96.04" y1="127.2" x2="-96.04" y2="320.6" stroke="#66669c" stroke-width="0.9"/>
<polygon points="-96.04,127.2 -94.14,132 -96.04,131.14 -97.94,132" fill="#55558c"/>
<line x1="-87.94" y1="120.5" x2="-75.25" y2="120.5" stroke="#111" stroke-width="1.05"/>
<polygon points="-89.44,120.5 -85.54,118.5 -86.13,120.5 -85.54,122.5" fill="#111"/>
<polygon points="-73.75,120.5 -77.65,122.5 -77.06,120.5 -77.65,118.5" fill="#111"/>
<line x1="-87.94" y1="327.3" x2="-75.25" y2="327.3" stroke="#111" stroke-width="1.05"/>
<polygon points="-89.44,327.3 -85.54,325.3 -86.13,327.3 -85.54,329.3" fill="#111"/>
<polygon points="-73.75,327.3 -77.65,329.3 -77.06,327.3 -77.65,325.3" fill="#111"/>
<line x1="-67.15" y1="127.2" x2="-67.15" y2="320.6" stroke="#66669c" stroke-width="0.9"/>
<polygon points="-67.15,320.6 -69.05,315.8 -67.15,316.66 -65.25,315.8" fill="#55558c"/>
<line x1="-59.05" y1="120.5" x2="-46.36" y2="120.5" stroke="#111" stroke-width="1.05"/>
<polygon points="-60.55,120.5 -56.65,118.5 -57.23,120.5 -56.65,122.5" fill="#111"/>
<polygon points="-44.86,120.5 -48.76,122.5 -48.18,120.5 -48.76,118.5" fill="#111"/>
<line x1="-59.05" y1="327.3" x2="-46.36" y2="327.3" stroke="#111" stroke-width="1.05"/>
<polygon points="-60.55,327.3 -56.65,325.3 -57.23,327.3 -56.65,329.3" fill="#111"/>
<polygon points="-44.86,327.3 -48.76,329.3 -48.18,327.3 -48.76,325.3" fill="#111"/>
<line x1="-38.26" y1="127.2" x2="-38.26" y2="320.6" stroke="#66669c" stroke-width="0.9"/>
<polygon points="-38.26,127.2 -36.36,132 -38.26,131.14 -40.16,132" fill="#55558c"/>
<line x1="-30.16" y1="120.5" x2="-17.47" y2="120.5" stroke="#111" stroke-width="1.05"/>
<polygon points="-31.66,120.5 -27.76,118.5 -28.35,120.5 -27.76,122.5" fill="#111"/>
<polygon points="-15.97,120.5 -19.87,122.5 -19.29,120.5 -19.87,118.5" fill="#111"/>
<line x1="-30.16" y1="327.3" x2="-17.47" y2="327.3" stroke="#111" stroke-width="1.05"/>
<polygon points="-31.66,327.3 -27.76,325.3 -28.35,327.3 -27.76,329.3" fill="#111"/>
<polygon points="-15.97,327.3 -19.87,329.3 -19.29,327.3 -19.87,325.3" fill="#111"/>
<line x1="-9.37" y1="127.2" x2="-9.37" y2="320.6" stroke="#66669c" stroke-width="0.9"/>
<polygon points="-9.37,320.6 -11.27,315.8 -9.37,316.66 -7.47,315.8" fill="#55558c"/>
<line x1="-1.27" y1="120.5" x2="11.42" y2="120.5" stroke="#111" stroke-width="1.05"/>
<polygon points="-2.77,120.5 1.13,118.5 0.54,120.5 1.13,122.5" fill="#111"/>
<polygon points="12.92,120.5 9.02,122.5 9.6,120.5 9.02,118.5" fill="#111"/>
<line x1="-1.27" y1="327.3" x2="11.42" y2="327.3" stroke="#111" stroke-width="1.05"/>
<polygon points="-2.77,327.3 1.13,325.3 0.54,327.3 1.13,329.3" fill="#111"/>
<polygon points="12.92,327.3 9.02,329.3 9.6,327.3 9.02,325.3" fill="#111"/>
<line x1="19.52" y1="127.2" x2="19.52" y2="320.6" stroke="#66669c" stroke-width="0.9"/>
<polygon points="19.52,127.2 21.42,132 19.52,131.14 17.62,132" fill="#55558c"/>
<line x1="27.62" y1="120.5" x2="40.31" y2="120.5" stroke="#111" stroke-width="1.05"/>
<polygon points="26.12,120.5 30.02,118.5 29.43,120.5 30.02,122.5" fill="#111"/>
<polygon points="41.81,120.5 37.91,122.5 38.49,120.5 37.91,118.5" fill="#111"/>
<line x1="27.62" y1="327.3" x2="40.31" y2="327.3" stroke="#111" stroke-width="1.05"/>
<polygon points="26.12,327.3 30.02,325.3 29.43,327.3 30.02,329.3" fill="#111"/>
<polygon points="41.81,327.3 37.91,329.3 38.49,327.3 37.91,325.3" fill="#111"/>
<line x1="48.41" y1="127.2" x2="48.41" y2="320.6" stroke="#66669c" stroke-width="0.9"/>
<polygon points="48.41,320.6 46.51,315.8 48.41,316.66 50.31,315.8" fill="#55558c"/>
<line x1="56.51" y1="120.5" x2="69.2" y2="120.5" stroke="#111" stroke-width="1.05"/>
<polygon points="55.01,120.5 58.91,118.5 58.32,120.5 58.91,122.5" fill="#111"/>
<polygon points="70.7,120.5 66.8,122.5 67.39,120.5 66.8,118.5" fill="#111"/>
<line x1="56.51" y1="327.3" x2="69.2" y2="327.3" stroke="#111" stroke-width="1.05"/>
<polygon points="55.01,327.3 58.91,325.3 58.32,327.3 58.91,329.3" fill="#111"/>
<polygon points="70.7,327.3 66.8,329.3 67.39,327.3 66.8,325.3" fill="#111"/>
<line x1="77.3" y1="127.2" x2="77.3" y2="320.6" stroke="#66669c" stroke-width="0.9"/>
<polygon points="77.3,127.2 79.2,132 77.3,131.14 75.4,132" fill="#55558c"/>
<line x1="85.4" y1="120.5" x2="98.09" y2="120.5" stroke="#111" stroke-width="1.05"/>
<polygon points="83.9,120.5 87.8,118.5 87.21,120.5 87.8,122.5" fill="#111"/>
<polygon points="99.59,120.5 95.69,122.5 96.28,120.5 95.69,118.5" fill="#111"/>
<line x1="85.4" y1="327.3" x2="98.09" y2="327.3" stroke="#111" stroke-width="1.05"/>
<polygon points="83.9,327.3 87.8,325.3 87.21,327.3 87.8,329.3" fill="#111"/>
<polygon points="99.59,327.3 95.69,329.3 96.28,327.3 95.69,325.3" fill="#111"/>
<line x1="106.19" y1="127.2" x2="106.19" y2="320.6" stroke="#66669c" stroke-width="0.9"/>
<polygon points="106.19,320.6 104.29,315.8 106.19,316.66 108.09,315.8" fill="#55558c"/>
<line x1="114.29" y1="120.5" x2="126.98" y2="120.5" stroke="#111" stroke-width="1.05"/>
<polygon points="112.79,120.5 116.69,118.5 116.1,120.5 116.69,122.5" fill="#111"/>
<polygon points="128.48,120.5 124.58,122.5 125.16,120.5 124.58,118.5" fill="#111"/>
<line x1="114.29" y1="327.3" x2="126.98" y2="327.3" stroke="#111" stroke-width="1.05"/>
<polygon points="112.79,327.3 116.69,325.3 116.1,327.3 116.69,329.3" fill="#111"/>
<polygon points="128.48,327.3 124.58,329.3 125.16,327.3 124.58,325.3" fill="#111"/>
<line x1="135.08" y1="127.2" x2="135.08" y2="320.6" stroke="#66669c" stroke-width="0.9"/>
<polygon points="135.08,127.2 136.98,132 135.08,131.14 133.18,132" fill="#55558c"/>
<line x1="143.18" y1="120.5" x2="155.87" y2="120.5" stroke="#111" stroke-width="1.05"/>
<polygon points="141.68,120.5 145.58,118.5 144.99,120.5 145.58,122.5" fill="#111"/>
<polygon points="157.37,120.5 153.47,122.5 154.06,120.5 153.47,118.5" fill="#111"/>
<line x1="143.18" y1="327.3" x2="155.87" y2="327.3" stroke="#111" stroke-width="1.05"/>
<polygon points="141.68,327.3 145.58,325.3 144.99,327.3 145.58,329.3" fill="#111"/>
<polygon points="157.37,327.3 153.47,329.3 154.06,327.3 153.47,325.3" fill="#111"/>
<line x1="163.97" y1="127.2" x2="163.97" y2="320.6" stroke="#66669c" stroke-width="0.9"/>
<polygon points="163.97,320.6 162.07,315.8 163.97,316.66 165.87,315.8" fill="#55558c"/>
<line x1="172.07" y1="120.5" x2="184.76" y2="120.5" stroke="#111" stroke-width="1.05"/>
<polygon points="170.57,120.5 174.47,118.5 173.88,120.5 174.47,122.5" fill="#111"/>
<polygon points="186.26,120.5 182.36,122.5 182.95,120.5 182.36,118.5" fill="#111"/>
<line x1="172.07" y1="327.3" x2="184.76" y2="327.3" stroke="#111" stroke-width="1.05"/>
<polygon points="170.57,327.3 174.47,325.3 173.88,327.3 174.47,329.3" fill="#111"/>
<polygon points="186.26,327.3 182.36,329.3 182.95,327.3 182.36,325.3" fill="#111"/>
<line x1="192.86" y1="127.2" x2="192.86" y2="320.6" stroke="#66669c" stroke-width="0.9"/>
<polygon points="192.86,127.2 194.76,132 192.86,131.14 190.96,132" fill="#55558c"/>
<line x1="200.96" y1="120.5" x2="213.65" y2="120.5" stroke="#111" stroke-width="1.05"/>
<polygon points="199.46,120.5 203.36,118.5 202.78,120.5 203.36,122.5" fill="#111"/>
<polygon points="215.15,120.5 211.25,122.5 211.84,120.5 211.25,118.5" fill="#111"/>
<line x1="200.96" y1="327.3" x2="213.65" y2="327.3" stroke="#111" stroke-width="1.05"/>
<polygon points="199.46,327.3 203.36,325.3 202.78,327.3 203.36,329.3" fill="#111"/>
<polygon points="215.15,327.3 211.25,329.3 211.84,327.3 211.25,325.3" fill="#111"/>
<line x1="221.75" y1="127.2" x2="221.75" y2="320.6" stroke="#66669c" stroke-width="0.9"/>
<polygon points="221.75,320.6 219.85,315.8 221.75,316.66 223.65,315.8" fill="#55558c"/>
<line x1="229.85" y1="120.5" x2="242.54" y2="120.5" stroke="#111" stroke-width="1.05"/>
<polygon points="228.35,120.5 232.25,118.5 231.66,120.5 232.25,122.5" fill="#111"/>
<polygon points="244.04,120.5 240.14,122.5 240.72,120.5 240.14,118.5" fill="#111"/>
<line x1="229.85" y1="327.3" x2="242.54" y2="327.3" stroke="#111" stroke-width="1.05"/>
<polygon points="228.35,327.3 232.25,325.3 231.66,327.3 232.25,329.3" fill="#111"/>
<polygon points="244.04,327.3 240.14,329.3 240.72,327.3 240.14,325.3" fill="#111"/>
<line x1="250.64" y1="127.2" x2="250.64" y2="320.6" stroke="#66669c" stroke-width="0.9"/>
<polygon points="250.64,127.2 252.54,132 250.64,131.14 248.74,132" fill="#55558c"/>
<line x1="258.74" y1="120.5" x2="271.43" y2="120.5" stroke="#111" stroke-width="1.05"/>
<polygon points="257.24,120.5 261.14,118.5 260.56,120.5 261.14,122.5" fill="#111"/>
<polygon points="272.93,120.5 269.03,122.5 269.62,120.5 269.03,118.5" fill="#111"/>
<line x1="258.74" y1="327.3" x2="271.43" y2="327.3" stroke="#111" stroke-width="1.05"/>
<polygon points="257.24,327.3 261.14,325.3 260.56,327.3 261.14,329.3" fill="#111"/>
<polygon points="272.93,327.3 269.03,329.3 269.62,327.3 269.03,325.3" fill="#111"/>
<line x1="279.53" y1="127.2" x2="279.53" y2="320.6" stroke="#66669c" stroke-width="0.9"/>
<polygon points="279.53,320.6 277.63,315.8 279.53,316.66 281.43,315.8" fill="#55558c"/>
<line x1="287.63" y1="120.5" x2="300.32" y2="120.5" stroke="#111" stroke-width="1.05"/>
<polygon points="286.13,120.5 290.03,118.5 289.45,120.5 290.03,122.5" fill="#111"/>
<polygon points="301.82,120.5 297.92,122.5 298.5,120.5 297.92,118.5" fill="#111"/>
<line x1="287.63" y1="327.3" x2="300.32" y2="327.3" stroke="#111" stroke-width="1.05"/>
<polygon points="286.13,327.3 290.03,325.3 289.45,327.3 290.03,329.3" fill="#111"/>
<polygon points="301.82,327.3 297.92,329.3 298.5,327.3 297.92,325.3" fill="#111"/>
<line x1="308.42" y1="127.2" x2="308.42" y2="320.6" stroke="#66669c" stroke-width="0.9"/>
<polygon points="308.42,127.2 310.32,132 308.42,131.14 306.52,132" fill="#55558c"/>
<line x1="316.52" y1="120.5" x2="329.21" y2="120.5" stroke="#111" stroke-width="1.05"/>
<polygon points="315.02,120.5 318.92,118.5 318.34,120.5 318.92,122.5" fill="#111"/>
<polygon points="330.71,120.5 326.81,122.5 327.39,120.5 326.81,118.5" fill="#111"/>
<line x1="316.52" y1="327.3" x2="329.21" y2="327.3" stroke="#111" stroke-width="1.05"/>
<polygon points="315.02,327.3 318.92,325.3 318.34,327.3 318.92,329.3" fill="#111"/>
<polygon points="330.71,327.3 326.81,329.3 327.39,327.3 326.81,325.3" fill="#111"/>
<line x1="337.31" y1="127.2" x2="337.31" y2="320.6" stroke="#66669c" stroke-width="0.9"/>
<polygon points="337.31,320.6 335.41,315.8 337.31,316.66 339.21,315.8" fill="#55558c"/>
<line x1="345.41" y1="120.5" x2="358.1" y2="120.5" stroke="#111" stroke-width="1.05"/>
<polygon points="343.91,120.5 347.81,118.5 347.23,120.5 347.81,122.5" fill="#111"/>
<polygon points="359.6,120.5 355.7,122.5 356.28,120.5 355.7,118.5" fill="#111"/>
<line x1="345.41" y1="327.3" x2="358.1" y2="327.3" stroke="#111" stroke-width="1.05"/>
<polygon points="343.91,327.3 347.81,325.3 347.23,327.3 347.81,329.3" fill="#111"/>
<polygon points="359.6,327.3 355.7,329.3 356.28,327.3 355.7,325.3" fill="#111"/>
<line x1="366.2" y1="127.2" x2="366.2" y2="320.6" stroke="#66669c" stroke-width="0.9"/>
<polygon points="366.2,127.2 368.1,132 366.2,131.14 364.3,132" fill="#55558c"/>
<line x1="374.3" y1="120.5" x2="386.99" y2="120.5" stroke="#111" stroke-width="1.05"/>
<polygon points="372.8,120.5 376.7,118.5 376.12,120.5 376.7,122.5" fill="#111"/>
<polygon points="388.49,120.5 384.59,122.5 385.18,120.5 384.59,118.5" fill="#111"/>
<line x1="374.3" y1="327.3" x2="386.99" y2="327.3" stroke="#111" stroke-width="1.05"/>
<polygon points="372.8,327.3 376.7,325.3 376.12,327.3 376.7,329.3" fill="#111"/>
<polygon points="388.49,327.3 384.59,329.3 385.18,327.3 384.59,325.3" fill="#111"/>
<line x1="395.09" y1="127.2" x2="395.09" y2="320.6" stroke="#66669c" stroke-width="0.9"/>
<polygon points="395.09,320.6 393.19,315.8 395.09,316.66 396.99,315.8" fill="#55558c"/>
<line x1="403.19" y1="120.5" x2="415.88" y2="120.5" stroke="#111" stroke-width="1.05"/>
<polygon points="401.69,120.5 405.59,118.5 405.01,120.5 405.59,122.5" fill="#111"/>
<polygon points="417.38,120.5 413.48,122.5 414.06,120.5 413.48,118.5" fill="#111"/>
<line x1="403.19" y1="327.3" x2="415.88" y2="327.3" stroke="#111" stroke-width="1.05"/>
<polygon points="401.69,327.3 405.59,325.3 405.01,327.3 405.59,329.3" fill="#111"/>
<polygon points="417.38,327.3 413.48,329.3 414.06,327.3 413.48,325.3" fill="#111"/>
<line x1="423.98" y1="127.2" x2="423.98" y2="320.6" stroke="#66669c" stroke-width="0.9"/>
<polygon points="423.98,127.2 425.88,132 423.98,131.14 422.08,132" fill="#55558c"/>
<line x1="432.08" y1="120.5" x2="444.77" y2="120.5" stroke="#111" stroke-width="1.05"/>
<polygon points="430.58,120.5 434.48,118.5 433.9,120.5 434.48,122.5" fill="#111"/>
<polygon points="446.27,120.5 442.37,122.5 442.95,120.5 442.37,118.5" fill="#111"/>
<line x1="432.08" y1="327.3" x2="444.77" y2="327.3" stroke="#111" stroke-width="1.05"/>
<polygon points="430.58,327.3 434.48,325.3 433.9,327.3 434.48,329.3" fill="#111"/>
<polygon points="446.27,327.3 442.37,329.3 442.95,327.3 442.37,325.3" fill="#111"/>
<line x1="452.87" y1="127.2" x2="452.87" y2="320.6" stroke="#66669c" stroke-width="0.9"/>
<polygon points="452.87,320.6 450.97,315.8 452.87,316.66 454.77,315.8" fill="#55558c"/>
<line x1="460.97" y1="120.5" x2="473.66" y2="120.5" stroke="#111" stroke-width="1.05"/>
<polygon points="459.47,120.5 463.37,118.5 462.79,120.5 463.37,122.5" fill="#111"/>
<polygon points="475.16,120.5 471.26,122.5 471.85,120.5 471.26,118.5" fill="#111"/>
<line x1="460.97" y1="327.3" x2="473.66" y2="327.3" stroke="#111" stroke-width="1.05"/>
<polygon points="459.47,327.3 463.37,325.3 462.79,327.3 463.37,329.3" fill="#111"/>
<polygon points="475.16,327.3 471.26,329.3 471.85,327.3 471.26,325.3" fill="#111"/>
<line x1="481.76" y1="127.2" x2="481.76" y2="320.6" stroke="#66669c" stroke-width="0.9"/>
<polygon points="481.76,127.2 483.66,132 481.76,131.14 479.86,132" fill="#55558c"/>
<line x1="489.86" y1="120.5" x2="502.55" y2="120.5" stroke="#111" stroke-width="1.05"/>
<polygon points="488.36,120.5 492.26,118.5 491.68,120.5 492.26,122.5" fill="#111"/>
<polygon points="504.05,120.5 500.15,122.5 500.74,120.5 500.15,118.5" fill="#111"/>
<line x1="489.86" y1="327.3" x2="502.55" y2="327.3" stroke="#111" stroke-width="1.05"/>
<polygon points="488.36,327.3 492.26,325.3 491.68,327.3 492.26,329.3" fill="#111"/>
<polygon points="504.05,327.3 500.15,329.3 500.74,327.3 500.15,325.3" fill="#111"/>
<line x1="510.65" y1="127.2" x2="510.65" y2="320.6" stroke="#66669c" stroke-width="0.9"/>
<polygon points="510.65,320.6 508.75,315.8 510.65,316.66 512.55,315.8" fill="#55558c"/>
<line x1="518.75" y1="120.5" x2="529.6" y2="120.5" stroke="#111" stroke-width="1.05"/>
<polygon points="517.25,120.5 521.15,118.5 520.57,120.5 521.15,122.5" fill="#111"/>
<polygon points="531.1,120.5 527.2,122.5 527.78,120.5 527.2,118.5" fill="#111"/>
<line x1="518.75" y1="327.3" x2="529.6" y2="327.3" stroke="#111" stroke-width="1.05"/>
<polygon points="517.25,327.3 521.15,325.3 520.57,327.3 521.15,329.3" fill="#111"/>
<polygon points="531.1,327.3 527.2,329.3 527.78,327.3 527.2,325.3" fill="#111"/>
<line x1="537.7" y1="127.2" x2="537.7" y2="320.6" stroke="#66669c" stroke-width="0.9"/>
<polygon points="537.7,127.2 539.6,132 537.7,131.14 535.8,132" fill="#55558c"/>
<path d="M-140 105 L542 105 L542 333 L14 333" fill="none" stroke="#9a5a5a" stroke-width="1.1" stroke-dasharray="1.1 5.1"/>
<path d="M4.4 333 L-140 333" fill="none" stroke="#9a5a5a" stroke-width="1.1" stroke-dasharray="1.1 5.1"/>
<line x1="14.3" y1="344" x2="521.8" y2="344" stroke="#1c1c1c" stroke-width="1.8"/>
<line x1="-140" y1="344" x2="2.3" y2="344" stroke="#1c1c1c" stroke-width="1.8"/>
<path d="M21 346.5 L38 346.5" fill="none" stroke="#b87878" stroke-width="1.3" stroke-dasharray="1.3 4.9"/>
<path d="M8 353 L8 332 L12.5 331" fill="none" stroke="#8080d0" stroke-width="1" stroke-dasharray="2.2 2.4"/>
<polygon points="12.5,331 9.55,333.4 9.18,331.74 8.81,330.08" fill="#8080d0"/>
<rect x="-185.85" y="154.15" width="11.07" height="7.7" fill="#fff"/>
<text x="-180.31" y="160.66" font-size="7.4" text-anchor="middle" fill="#5f8a6e">G1</text>
<text transform="translate(-172.8 226) rotate(90)" x="0" y="2.95" font-size="8.2" text-anchor="middle" fill="#222">C01</text>
<text transform="translate(-163.72 225.6) rotate(90)" x="0" y="2.95" font-size="8.2" text-anchor="middle" fill="#222">C02</text>
<rect x="-156.96" y="154.15" width="11.07" height="7.7" fill="#fff"/>
<text x="-151.42" y="160.66" font-size="7.4" text-anchor="middle" fill="#5f8a6e">G2</text>
<text transform="translate(-143.91 226) rotate(90)" x="0" y="2.95" font-size="8.2" text-anchor="middle" fill="#222">C03</text>
<text transform="translate(-134.84 225.6) rotate(90)" x="0" y="2.95" font-size="8.2" text-anchor="middle" fill="#222">C04</text>
<rect x="-129.97" y="156.15" width="11.07" height="7.7" fill="#fff"/>
<text x="-124.43" y="162.66" font-size="7.4" text-anchor="middle" fill="#5f8a6e">G3</text>
<text transform="translate(-115.03 226) rotate(90)" x="0" y="2.95" font-size="8.2" text-anchor="middle" fill="#222">C05</text>
<text transform="translate(-105.95 225.6) rotate(90)" x="0" y="2.95" font-size="8.2" text-anchor="middle" fill="#222">C06</text>
<rect x="-99.18" y="153.45" width="11.07" height="7.7" fill="#fff"/>
<text x="-93.64" y="159.96" font-size="7.4" text-anchor="middle" fill="#5f8a6e">G4</text>
<text transform="translate(-86.14 226) rotate(90)" x="0" y="2.95" font-size="8.2" text-anchor="middle" fill="#222">C07</text>
<text transform="translate(-77.05 225.6) rotate(90)" x="0" y="2.95" font-size="8.2" text-anchor="middle" fill="#222">C08</text>
<rect x="-70.29" y="155.65" width="11.07" height="7.7" fill="#fff"/>
<text x="-64.75" y="162.16" font-size="7.4" text-anchor="middle" fill="#5f8a6e">G5</text>
<text transform="translate(-57.25 226) rotate(90)" x="0" y="2.95" font-size="8.2" text-anchor="middle" fill="#222">C09</text>
<text transform="translate(-48.16 225.6) rotate(90)" x="0" y="2.95" font-size="8.2" text-anchor="middle" fill="#222">C10</text>
<rect x="-41.4" y="153.45" width="11.07" height="7.7" fill="#fff"/>
<text x="-35.86" y="159.96" font-size="7.4" text-anchor="middle" fill="#5f8a6e">G6</text>
<text transform="translate(-28.36 226) rotate(90)" x="0" y="2.95" font-size="8.2" text-anchor="middle" fill="#222">C11</text>
<text transform="translate(-19.28 225.6) rotate(90)" x="0" y="2.95" font-size="8.2" text-anchor="middle" fill="#222">C12</text>
<rect x="-12.51" y="149.35" width="11.07" height="7.7" fill="#fff"/>
<text x="-6.97" y="155.86" font-size="7.4" text-anchor="middle" fill="#5f8a6e">G7</text>
<text transform="translate(0.53 226) rotate(90)" x="0" y="2.95" font-size="8.2" text-anchor="middle" fill="#222">C13</text>
<text transform="translate(9.61 225.6) rotate(90)" x="0" y="2.95" font-size="8.2" text-anchor="middle" fill="#222">C14</text>
<rect x="16.38" y="153.45" width="11.07" height="7.7" fill="#fff"/>
<text x="21.92" y="159.96" font-size="7.4" text-anchor="middle" fill="#5f8a6e">G8</text>
<text transform="translate(29.42 226) rotate(90)" x="0" y="2.95" font-size="8.2" text-anchor="middle" fill="#222">C15</text>
<text transform="translate(38.5 225.6) rotate(90)" x="0" y="2.95" font-size="8.2" text-anchor="middle" fill="#222">C16</text>
<rect x="45.27" y="152.15" width="11.07" height="7.7" fill="#fff"/>
<text x="50.81" y="158.66" font-size="7.4" text-anchor="middle" fill="#5f8a6e">G9</text>
<text transform="translate(58.31 226) rotate(90)" x="0" y="2.95" font-size="8.2" text-anchor="middle" fill="#222">C17</text>
<text transform="translate(67.39 225.6) rotate(90)" x="0" y="2.95" font-size="8.2" text-anchor="middle" fill="#222">C18</text>
<rect x="72.11" y="156.45" width="15.19" height="7.7" fill="#fff"/>
<text x="79.7" y="162.96" font-size="7.4" text-anchor="middle" fill="#5f8a6e">G10</text>
<text transform="translate(87.2 226) rotate(90)" x="0" y="2.95" font-size="8.2" text-anchor="middle" fill="#222">C19</text>
<text transform="translate(96.29 225.6) rotate(90)" x="0" y="2.95" font-size="8.2" text-anchor="middle" fill="#222">C20</text>
<rect x="101" y="165.55" width="15.19" height="7.7" fill="#fff"/>
<text x="108.59" y="172.06" font-size="7.4" text-anchor="middle" fill="#5f8a6e">G11</text>
<text transform="translate(116.09 226) rotate(90)" x="0" y="2.95" font-size="8.2" text-anchor="middle" fill="#222">C21</text>
<text transform="translate(125.17 225.6) rotate(90)" x="0" y="2.95" font-size="8.2" text-anchor="middle" fill="#222">C22</text>
<rect x="129.89" y="169.15" width="15.19" height="7.7" fill="#fff"/>
<text x="137.48" y="175.66" font-size="7.4" text-anchor="middle" fill="#5f8a6e">G12</text>
<text transform="translate(144.98 226) rotate(90)" x="0" y="2.95" font-size="8.2" text-anchor="middle" fill="#222">C23</text>
<text transform="translate(154.06 225.6) rotate(90)" x="0" y="2.95" font-size="8.2" text-anchor="middle" fill="#222">C24</text>
<rect x="158.78" y="161.65" width="15.19" height="7.7" fill="#fff"/>
<text x="166.37" y="168.16" font-size="7.4" text-anchor="middle" fill="#5f8a6e">G13</text>
<text transform="translate(173.88 226) rotate(90)" x="0" y="2.95" font-size="8.2" text-anchor="middle" fill="#222">C25</text>
<text transform="translate(182.96 225.6) rotate(90)" x="0" y="2.95" font-size="8.2" text-anchor="middle" fill="#222">C26</text>
<rect x="187.67" y="159.55" width="15.19" height="7.7" fill="#fff"/>
<text x="195.26" y="166.06" font-size="7.4" text-anchor="middle" fill="#5f8a6e">G14</text>
<text transform="translate(202.77 226) rotate(90)" x="0" y="2.95" font-size="8.2" text-anchor="middle" fill="#222">C27</text>
<text transform="translate(211.84 225.6) rotate(90)" x="0" y="2.95" font-size="8.2" text-anchor="middle" fill="#222">C28</text>
<rect x="216.56" y="158.85" width="15.19" height="7.7" fill="#fff"/>
<text x="224.15" y="165.36" font-size="7.4" text-anchor="middle" fill="#5f8a6e">G15</text>
<text transform="translate(231.66 226) rotate(90)" x="0" y="2.95" font-size="8.2" text-anchor="middle" fill="#222">C29</text>
<text transform="translate(240.73 225.6) rotate(90)" x="0" y="2.95" font-size="8.2" text-anchor="middle" fill="#222">C30</text>
<rect x="245.45" y="154.15" width="15.19" height="7.7" fill="#fff"/>
<text x="253.04" y="160.66" font-size="7.4" text-anchor="middle" fill="#5f8a6e">G16</text>
<text transform="translate(260.55 226) rotate(90)" x="0" y="2.95" font-size="8.2" text-anchor="middle" fill="#222">C31</text>
<text transform="translate(269.62 225.6) rotate(90)" x="0" y="2.95" font-size="8.2" text-anchor="middle" fill="#222">C32</text>
<rect x="274.34" y="155.95" width="15.19" height="7.7" fill="#fff"/>
<text x="281.93" y="162.46" font-size="7.4" text-anchor="middle" fill="#5f8a6e">G17</text>
<text transform="translate(289.44 226) rotate(90)" x="0" y="2.95" font-size="8.2" text-anchor="middle" fill="#222">C33</text>
<text transform="translate(298.51 225.6) rotate(90)" x="0" y="2.95" font-size="8.2" text-anchor="middle" fill="#222">C34</text>
<rect x="303.23" y="152.55" width="15.19" height="7.7" fill="#fff"/>
<text x="310.82" y="159.06" font-size="7.4" text-anchor="middle" fill="#5f8a6e">G18</text>
<text transform="translate(318.33 226) rotate(90)" x="0" y="2.95" font-size="8.2" text-anchor="middle" fill="#222">C35</text>
<text transform="translate(327.4 225.6) rotate(90)" x="0" y="2.95" font-size="8.2" text-anchor="middle" fill="#222">C36</text>
<rect x="332.12" y="152.15" width="15.19" height="7.7" fill="#fff"/>
<text x="339.71" y="158.66" font-size="7.4" text-anchor="middle" fill="#5f8a6e">G19</text>
<text transform="translate(347.22 226) rotate(90)" x="0" y="2.95" font-size="8.2" text-anchor="middle" fill="#222">C37</text>
<text transform="translate(356.29 225.6) rotate(90)" x="0" y="2.95" font-size="8.2" text-anchor="middle" fill="#222">C38</text>
<rect x="361.01" y="152.55" width="15.19" height="7.7" fill="#fff"/>
<text x="368.6" y="159.06" font-size="7.4" text-anchor="middle" fill="#5f8a6e">G20</text>
<text transform="translate(376.11 226) rotate(90)" x="0" y="2.95" font-size="8.2" text-anchor="middle" fill="#222">C39</text>
<text transform="translate(385.18 225.6) rotate(90)" x="0" y="2.95" font-size="8.2" text-anchor="middle" fill="#222">C40</text>
<rect x="389.9" y="155.95" width="15.19" height="7.7" fill="#fff"/>
<text x="397.49" y="162.46" font-size="7.4" text-anchor="middle" fill="#5f8a6e">G21</text>
<text transform="translate(405 226) rotate(90)" x="0" y="2.95" font-size="8.2" text-anchor="middle" fill="#222">C41</text>
<text transform="translate(414.07 225.6) rotate(90)" x="0" y="2.95" font-size="8.2" text-anchor="middle" fill="#222">C42</text>
<rect x="418.79" y="153.65" width="15.19" height="7.7" fill="#fff"/>
<text x="426.38" y="160.16" font-size="7.4" text-anchor="middle" fill="#5f8a6e">G22</text>
<text transform="translate(433.89 226) rotate(90)" x="0" y="2.95" font-size="8.2" text-anchor="middle" fill="#222">C43</text>
<text transform="translate(442.96 225.6) rotate(90)" x="0" y="2.95" font-size="8.2" text-anchor="middle" fill="#222">C44</text>
<rect x="447.68" y="155.95" width="15.19" height="7.7" fill="#fff"/>
<text x="455.27" y="162.46" font-size="7.4" text-anchor="middle" fill="#5f8a6e">G23</text>
<text transform="translate(462.78 226) rotate(90)" x="0" y="2.95" font-size="8.2" text-anchor="middle" fill="#222">C45</text>
<text transform="translate(471.86 225.6) rotate(90)" x="0" y="2.95" font-size="8.2" text-anchor="middle" fill="#222">C46</text>
<rect x="476.57" y="153.65" width="15.19" height="7.7" fill="#fff"/>
<text x="484.16" y="160.16" font-size="7.4" text-anchor="middle" fill="#5f8a6e">G24</text>
<text transform="translate(491.67 226) rotate(90)" x="0" y="2.95" font-size="8.2" text-anchor="middle" fill="#222">C47</text>
<text transform="translate(500.75 225.6) rotate(90)" x="0" y="2.95" font-size="8.2" text-anchor="middle" fill="#222">C48</text>
<rect x="505.46" y="140.25" width="15.19" height="7.7" fill="#fff"/>
<text x="513.05" y="146.76" font-size="7.4" text-anchor="middle" fill="#5f8a6e">G25</text>
<text transform="translate(519.63 226) rotate(90)" x="0" y="2.95" font-size="8.2" text-anchor="middle" fill="#222">C49</text>
<text transform="translate(528.72 225.6) rotate(90)" x="0" y="2.95" font-size="8.2" text-anchor="middle" fill="#222">C50</text>
<rect x="532.51" y="162.65" width="15.19" height="7.7" fill="#fff"/>
<text x="540.1" y="169.16" font-size="7.4" text-anchor="middle" fill="#5f8a6e">G26</text>
<text x="263" y="351.74" font-size="7.6" text-anchor="middle" fill="#3a3a3a">A01</text>
<circle cx="-182.71" cy="120.5" r="6" fill="#fff" stroke="#4e4e88" stroke-width="1.4"/><text x="-182.71" y="123.45" font-size="8.2" text-anchor="middle" fill="#222">1</text>
<circle cx="-153.82" cy="120.5" r="6" fill="#fff" stroke="#4e4e88" stroke-width="1.4"/><text x="-153.82" y="123.45" font-size="8.2" text-anchor="middle" fill="#222">3</text>
<circle cx="-153.82" cy="327.3" r="6" fill="#fff" stroke="#4e4e88" stroke-width="1.4"/><text x="-153.82" y="330.25" font-size="8.2" text-anchor="middle" fill="#222">2</text>
<circle cx="-124.93" cy="120.5" r="6" fill="#fff" stroke="#4e4e88" stroke-width="1.4"/><text x="-124.93" y="123.45" font-size="8.2" text-anchor="middle" fill="#222">5</text>
<circle cx="-124.93" cy="327.3" r="6" fill="#fff" stroke="#4e4e88" stroke-width="1.4"/><text x="-124.93" y="330.25" font-size="8.2" text-anchor="middle" fill="#222">4</text>
<circle cx="-96.04" cy="120.5" r="6" fill="#fff" stroke="#4e4e88" stroke-width="1.4"/><text x="-96.04" y="123.45" font-size="8.2" text-anchor="middle" fill="#222">7</text>
<circle cx="-96.04" cy="327.3" r="6" fill="#fff" stroke="#4e4e88" stroke-width="1.4"/><text x="-96.04" y="330.25" font-size="8.2" text-anchor="middle" fill="#222">6</text>
<circle cx="-67.15" cy="120.5" r="6" fill="#fff" stroke="#4e4e88" stroke-width="1.4"/><text x="-67.15" y="123.45" font-size="8.2" text-anchor="middle" fill="#222">9</text>
<circle cx="-67.15" cy="327.3" r="6" fill="#fff" stroke="#4e4e88" stroke-width="1.4"/><text x="-67.15" y="330.25" font-size="8.2" text-anchor="middle" fill="#222">8</text>
<circle cx="-38.26" cy="120.5" r="6" fill="#fff" stroke="#4e4e88" stroke-width="1.4"/><text x="-38.26" y="123.45" font-size="8.2" text-anchor="middle" fill="#222">11</text>
<circle cx="-38.26" cy="327.3" r="6" fill="#fff" stroke="#4e4e88" stroke-width="1.4"/><text x="-38.26" y="330.25" font-size="8.2" text-anchor="middle" fill="#222">10</text>
<circle cx="-9.37" cy="120.5" r="6" fill="#fff" stroke="#4e4e88" stroke-width="1.4"/><text x="-9.37" y="123.45" font-size="8.2" text-anchor="middle" fill="#222">13</text>
<circle cx="-9.37" cy="327.3" r="6" fill="#fff" stroke="#4e4e88" stroke-width="1.4"/><text x="-9.37" y="330.25" font-size="8.2" text-anchor="middle" fill="#222">12</text>
<circle cx="19.52" cy="120.5" r="6" fill="#fff" stroke="#4e4e88" stroke-width="1.4"/><text x="19.52" y="123.45" font-size="8.2" text-anchor="middle" fill="#222">15</text>
<circle cx="19.52" cy="327.3" r="6" fill="#fff" stroke="#4e4e88" stroke-width="1.4"/><text x="19.52" y="330.25" font-size="8.2" text-anchor="middle" fill="#222">14</text>
<circle cx="48.41" cy="120.5" r="6" fill="#fff" stroke="#4e4e88" stroke-width="1.4"/><text x="48.41" y="123.45" font-size="8.2" text-anchor="middle" fill="#222">17</text>
<circle cx="48.41" cy="327.3" r="6" fill="#fff" stroke="#4e4e88" stroke-width="1.4"/><text x="48.41" y="330.25" font-size="8.2" text-anchor="middle" fill="#222">16</text>
<circle cx="77.3" cy="120.5" r="6" fill="#fff" stroke="#4e4e88" stroke-width="1.4"/><text x="77.3" y="123.45" font-size="8.2" text-anchor="middle" fill="#222">19</text>
<circle cx="77.3" cy="327.3" r="6" fill="#fff" stroke="#4e4e88" stroke-width="1.4"/><text x="77.3" y="330.25" font-size="8.2" text-anchor="middle" fill="#222">18</text>
<circle cx="106.19" cy="120.5" r="6" fill="#fff" stroke="#4e4e88" stroke-width="1.4"/><text x="106.19" y="123.45" font-size="8.2" text-anchor="middle" fill="#222">21</text>
<circle cx="106.19" cy="327.3" r="6" fill="#fff" stroke="#4e4e88" stroke-width="1.4"/><text x="106.19" y="330.25" font-size="8.2" text-anchor="middle" fill="#222">20</text>
<circle cx="135.08" cy="120.5" r="6" fill="#fff" stroke="#4e4e88" stroke-width="1.4"/><text x="135.08" y="123.45" font-size="8.2" text-anchor="middle" fill="#222">23</text>
<circle cx="135.08" cy="327.3" r="6" fill="#fff" stroke="#4e4e88" stroke-width="1.4"/><text x="135.08" y="330.25" font-size="8.2" text-anchor="middle" fill="#222">22</text>
<circle cx="163.97" cy="120.5" r="6" fill="#fff" stroke="#4e4e88" stroke-width="1.4"/><text x="163.97" y="123.45" font-size="8.2" text-anchor="middle" fill="#222">25</text>
<circle cx="163.97" cy="327.3" r="6" fill="#fff" stroke="#4e4e88" stroke-width="1.4"/><text x="163.97" y="330.25" font-size="8.2" text-anchor="middle" fill="#222">24</text>
<circle cx="192.86" cy="120.5" r="6" fill="#fff" stroke="#4e4e88" stroke-width="1.4"/><text x="192.86" y="123.45" font-size="8.2" text-anchor="middle" fill="#222">27</text>
<circle cx="192.86" cy="327.3" r="6" fill="#fff" stroke="#4e4e88" stroke-width="1.4"/><text x="192.86" y="330.25" font-size="8.2" text-anchor="middle" fill="#222">26</text>
<circle cx="221.75" cy="120.5" r="6" fill="#fff" stroke="#4e4e88" stroke-width="1.4"/><text x="221.75" y="123.45" font-size="8.2" text-anchor="middle" fill="#222">29</text>
<circle cx="221.75" cy="327.3" r="6" fill="#fff" stroke="#4e4e88" stroke-width="1.4"/><text x="221.75" y="330.25" font-size="8.2" text-anchor="middle" fill="#222">28</text>
<circle cx="250.64" cy="120.5" r="6" fill="#fff" stroke="#4e4e88" stroke-width="1.4"/><text x="250.64" y="123.45" font-size="8.2" text-anchor="middle" fill="#222">31</text>
<circle cx="250.64" cy="327.3" r="6" fill="#fff" stroke="#4e4e88" stroke-width="1.4"/><text x="250.64" y="330.25" font-size="8.2" text-anchor="middle" fill="#222">30</text>
<circle cx="279.53" cy="120.5" r="6" fill="#fff" stroke="#4e4e88" stroke-width="1.4"/><text x="279.53" y="123.45" font-size="8.2" text-anchor="middle" fill="#222">33</text>
<circle cx="279.53" cy="327.3" r="6" fill="#fff" stroke="#4e4e88" stroke-width="1.4"/><text x="279.53" y="330.25" font-size="8.2" text-anchor="middle" fill="#222">32</text>
<circle cx="308.42" cy="120.5" r="6" fill="#fff" stroke="#4e4e88" stroke-width="1.4"/><text x="308.42" y="123.45" font-size="8.2" text-anchor="middle" fill="#222">35</text>
<circle cx="308.42" cy="327.3" r="6" fill="#fff" stroke="#4e4e88" stroke-width="1.4"/><text x="308.42" y="330.25" font-size="8.2" text-anchor="middle" fill="#222">34</text>
<circle cx="337.31" cy="120.5" r="6" fill="#fff" stroke="#4e4e88" stroke-width="1.4"/><text x="337.31" y="123.45" font-size="8.2" text-anchor="middle" fill="#222">37</text>
<circle cx="337.31" cy="327.3" r="6" fill="#fff" stroke="#4e4e88" stroke-width="1.4"/><text x="337.31" y="330.25" font-size="8.2" text-anchor="middle" fill="#222">36</text>
<circle cx="366.2" cy="120.5" r="6" fill="#fff" stroke="#4e4e88" stroke-width="1.4"/><text x="366.2" y="123.45" font-size="8.2" text-anchor="middle" fill="#222">39</text>
<circle cx="366.2" cy="327.3" r="6" fill="#fff" stroke="#4e4e88" stroke-width="1.4"/><text x="366.2" y="330.25" font-size="8.2" text-anchor="middle" fill="#222">38</text>
<circle cx="395.09" cy="120.5" r="6" fill="#fff" stroke="#4e4e88" stroke-width="1.4"/><text x="395.09" y="123.45" font-size="8.2" text-anchor="middle" fill="#222">41</text>
<circle cx="395.09" cy="327.3" r="6" fill="#fff" stroke="#4e4e88" stroke-width="1.4"/><text x="395.09" y="330.25" font-size="8.2" text-anchor="middle" fill="#222">40</text>
<circle cx="423.98" cy="120.5" r="6" fill="#fff" stroke="#4e4e88" stroke-width="1.4"/><text x="423.98" y="123.45" font-size="8.2" text-anchor="middle" fill="#222">43</text>
<circle cx="423.98" cy="327.3" r="6" fill="#fff" stroke="#4e4e88" stroke-width="1.4"/><text x="423.98" y="330.25" font-size="8.2" text-anchor="middle" fill="#222">42</text>
<circle cx="452.87" cy="120.5" r="6" fill="#fff" stroke="#4e4e88" stroke-width="1.4"/><text x="452.87" y="123.45" font-size="8.2" text-anchor="middle" fill="#222">45</text>
<circle cx="452.87" cy="327.3" r="6" fill="#fff" stroke="#4e4e88" stroke-width="1.4"/><text x="452.87" y="330.25" font-size="8.2" text-anchor="middle" fill="#222">44</text>
<circle cx="481.76" cy="120.5" r="6" fill="#fff" stroke="#4e4e88" stroke-width="1.4"/><text x="481.76" y="123.45" font-size="8.2" text-anchor="middle" fill="#222">47</text>
<circle cx="481.76" cy="327.3" r="6" fill="#fff" stroke="#4e4e88" stroke-width="1.4"/><text x="481.76" y="330.25" font-size="8.2" text-anchor="middle" fill="#222">46</text>
<circle cx="510.65" cy="120.5" r="6" fill="#fff" stroke="#4e4e88" stroke-width="1.4"/><text x="510.65" y="123.45" font-size="8.2" text-anchor="middle" fill="#222">49</text>
<circle cx="510.65" cy="327.3" r="6" fill="#fff" stroke="#4e4e88" stroke-width="1.4"/><text x="510.65" y="330.25" font-size="8.2" text-anchor="middle" fill="#222">48</text>
<circle cx="537.7" cy="120.5" r="6" fill="#fff" stroke="#4e4e88" stroke-width="1.4"/><text x="537.7" y="123.45" font-size="8.2" text-anchor="middle" fill="#222">51</text>
<circle cx="537.7" cy="327.3" r="6" fill="#fff" stroke="#4e4e88" stroke-width="1.4"/><text x="537.7" y="330.25" font-size="8.2" text-anchor="middle" fill="#222">50</text>
</g>
</g>
</svg>
</body></html>
